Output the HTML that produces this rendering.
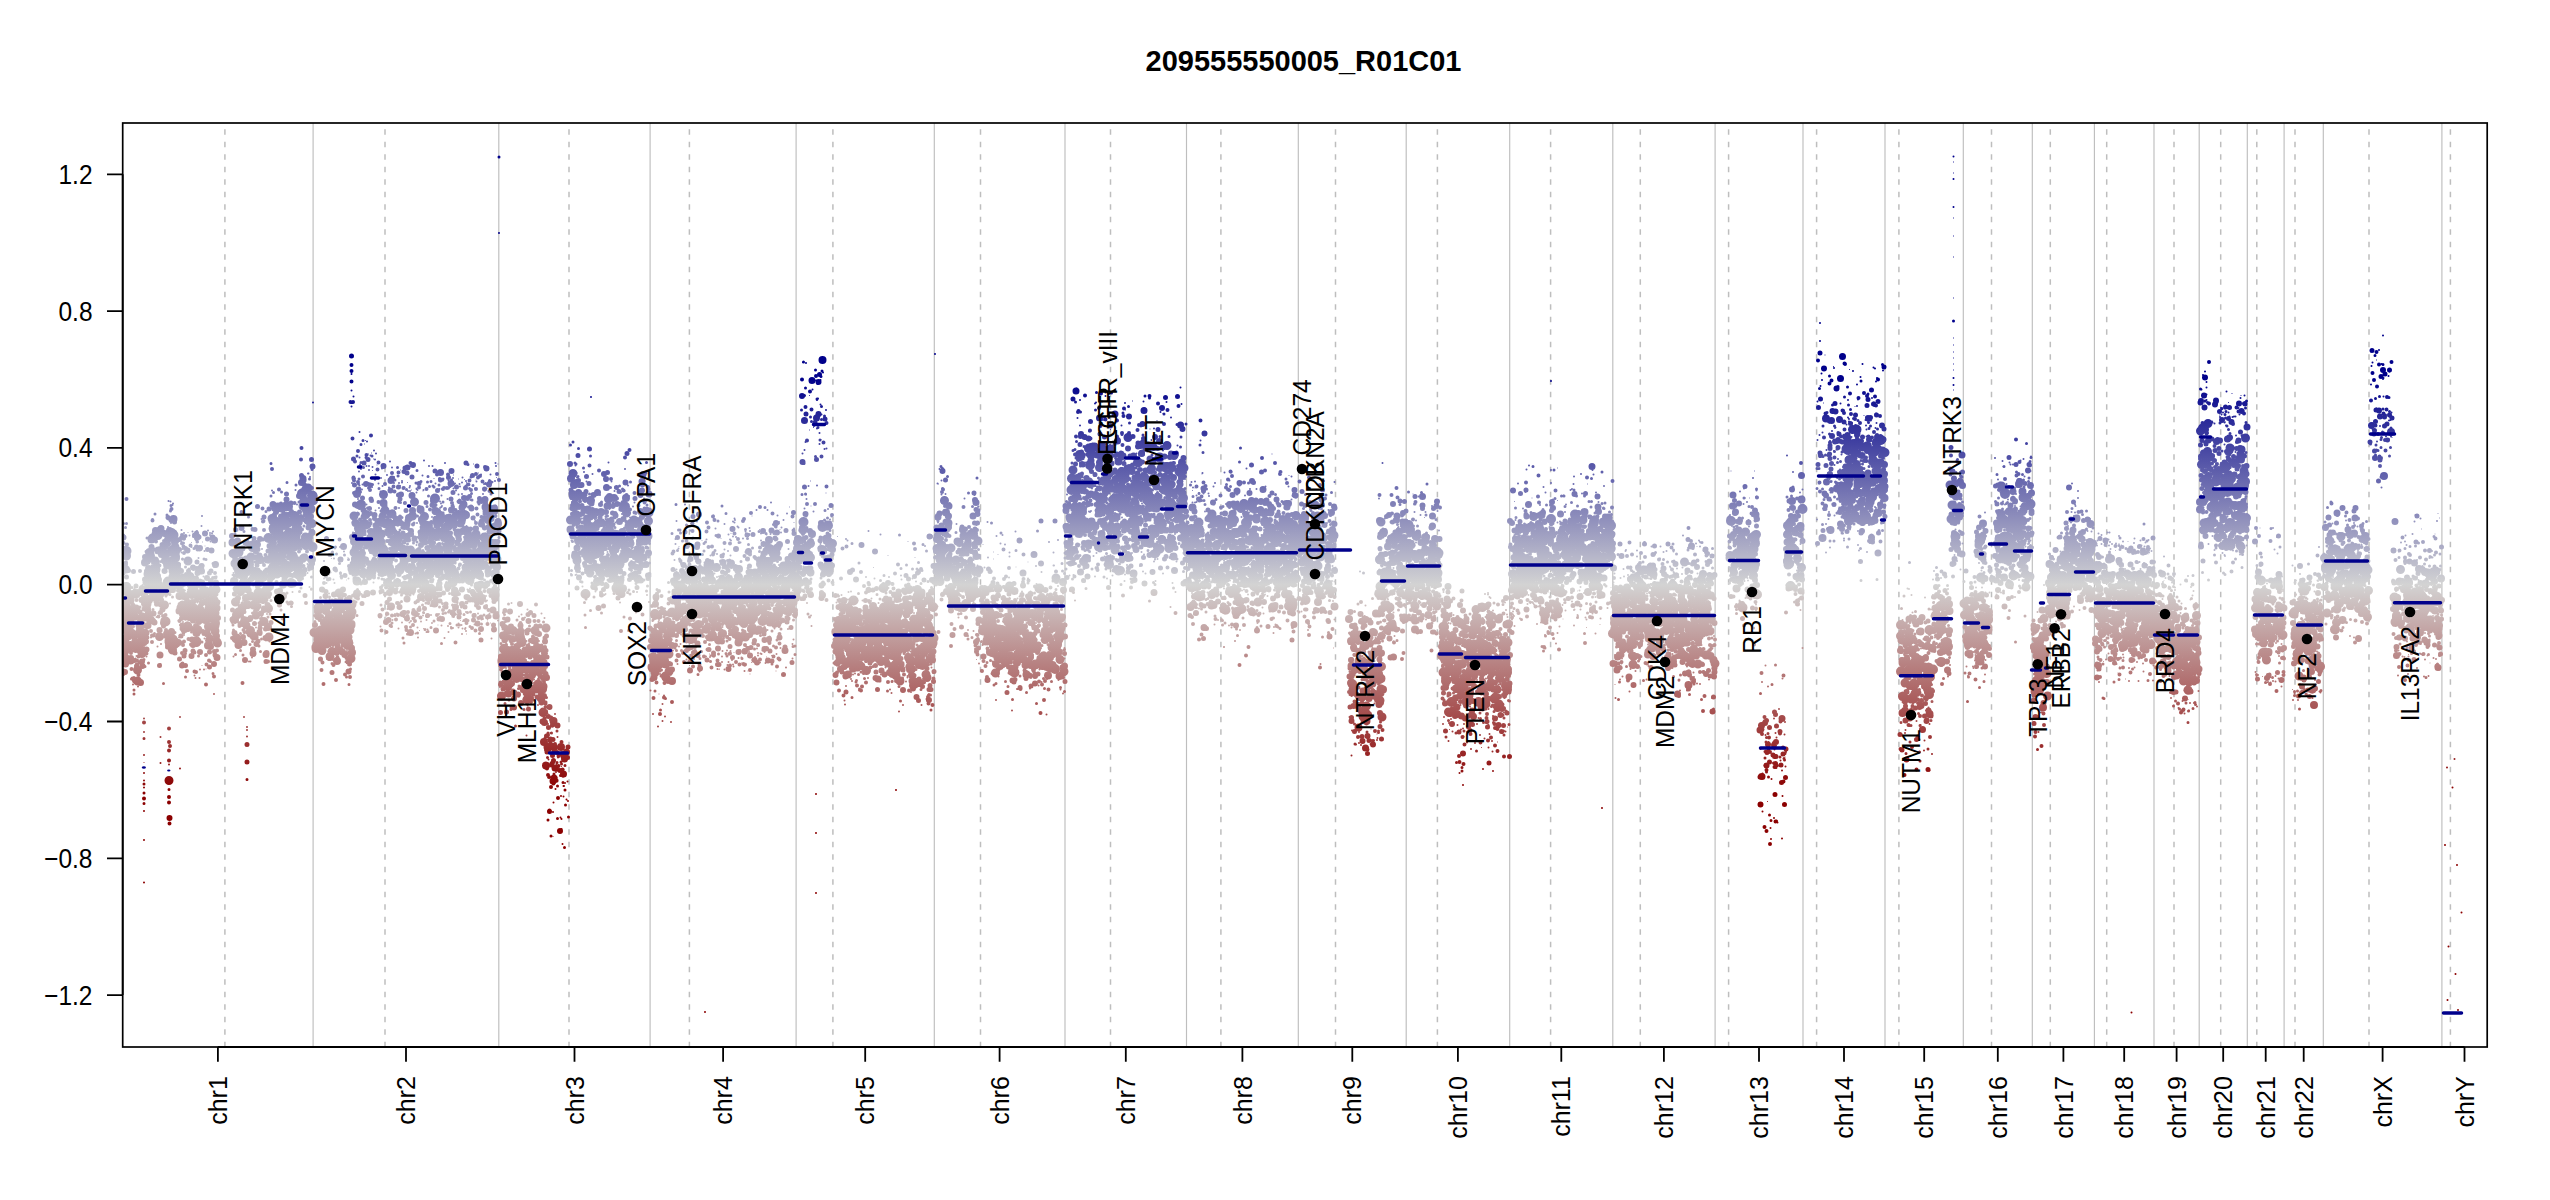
<!DOCTYPE html><html><head><meta charset="utf-8"><style>html,body{margin:0;padding:0;background:#fff;}svg{display:block;}text{font-family:"Liberation Sans",Arial,sans-serif;}</style></head><body>
<svg width="2550" height="1200" viewBox="0 0 2550 1200">
<defs><linearGradient id="g" gradientUnits="userSpaceOnUse" x1="0" y1="379.5" x2="0" y2="789.9"><stop offset="0" stop-color="#00008b"/><stop offset="0.5" stop-color="#d3d3d3"/><stop offset="1" stop-color="#8b0000"/></linearGradient><linearGradient id="g2" gradientUnits="userSpaceOnUse" x1="0" y1="759.0" x2="0" y2="1579.8"><stop offset="0" stop-color="#00008b"/><stop offset="0.5" stop-color="#d3d3d3"/><stop offset="1" stop-color="#8b0000"/></linearGradient><clipPath id="cp"><rect x="122.7" y="123" width="2364.5" height="924"/></clipPath></defs>
<rect width="2550" height="1200" fill="#fff"/>
<text transform="translate(1303.5 71.2) scale(1 1.034)" font-size="29" font-weight="bold" text-anchor="middle">209555550005_R01C01</text>
<line x1="313.1" y1="123" x2="313.1" y2="1047" stroke="#bebebe" stroke-width="1.15"/><line x1="498.8" y1="123" x2="498.8" y2="1047" stroke="#bebebe" stroke-width="1.15"/><line x1="650.1" y1="123" x2="650.1" y2="1047" stroke="#bebebe" stroke-width="1.15"/><line x1="796.1" y1="123" x2="796.1" y2="1047" stroke="#bebebe" stroke-width="1.15"/><line x1="934.3" y1="123" x2="934.3" y2="1047" stroke="#bebebe" stroke-width="1.15"/><line x1="1065.0" y1="123" x2="1065.0" y2="1047" stroke="#bebebe" stroke-width="1.15"/><line x1="1186.5" y1="123" x2="1186.5" y2="1047" stroke="#bebebe" stroke-width="1.15"/><line x1="1298.3" y1="123" x2="1298.3" y2="1047" stroke="#bebebe" stroke-width="1.15"/><line x1="1406.2" y1="123" x2="1406.2" y2="1047" stroke="#bebebe" stroke-width="1.15"/><line x1="1509.7" y1="123" x2="1509.7" y2="1047" stroke="#bebebe" stroke-width="1.15"/><line x1="1612.8" y1="123" x2="1612.8" y2="1047" stroke="#bebebe" stroke-width="1.15"/><line x1="1715.1" y1="123" x2="1715.1" y2="1047" stroke="#bebebe" stroke-width="1.15"/><line x1="1803.0" y1="123" x2="1803.0" y2="1047" stroke="#bebebe" stroke-width="1.15"/><line x1="1885.0" y1="123" x2="1885.0" y2="1047" stroke="#bebebe" stroke-width="1.15"/><line x1="1963.3" y1="123" x2="1963.3" y2="1047" stroke="#bebebe" stroke-width="1.15"/><line x1="2032.3" y1="123" x2="2032.3" y2="1047" stroke="#bebebe" stroke-width="1.15"/><line x1="2094.4" y1="123" x2="2094.4" y2="1047" stroke="#bebebe" stroke-width="1.15"/><line x1="2154.0" y1="123" x2="2154.0" y2="1047" stroke="#bebebe" stroke-width="1.15"/><line x1="2199.2" y1="123" x2="2199.2" y2="1047" stroke="#bebebe" stroke-width="1.15"/><line x1="2247.3" y1="123" x2="2247.3" y2="1047" stroke="#bebebe" stroke-width="1.15"/><line x1="2284.1" y1="123" x2="2284.1" y2="1047" stroke="#bebebe" stroke-width="1.15"/><line x1="2323.3" y1="123" x2="2323.3" y2="1047" stroke="#bebebe" stroke-width="1.15"/><line x1="2441.9" y1="123" x2="2441.9" y2="1047" stroke="#bebebe" stroke-width="1.15"/><line x1="224.9" y1="129.25" x2="224.9" y2="1047" stroke="#bebebe" stroke-width="1.5" stroke-dasharray="5.6 6.9"/><line x1="385" y1="129.25" x2="385" y2="1047" stroke="#bebebe" stroke-width="1.5" stroke-dasharray="5.6 6.9"/><line x1="569" y1="129.25" x2="569" y2="1047" stroke="#bebebe" stroke-width="1.5" stroke-dasharray="5.6 6.9"/><line x1="689.4" y1="129.25" x2="689.4" y2="1047" stroke="#bebebe" stroke-width="1.5" stroke-dasharray="5.6 6.9"/><line x1="832.9" y1="129.25" x2="832.9" y2="1047" stroke="#bebebe" stroke-width="1.5" stroke-dasharray="5.6 6.9"/><line x1="980.5" y1="129.25" x2="980.5" y2="1047" stroke="#bebebe" stroke-width="1.5" stroke-dasharray="5.6 6.9"/><line x1="1110.5" y1="129.25" x2="1110.5" y2="1047" stroke="#bebebe" stroke-width="1.5" stroke-dasharray="5.6 6.9"/><line x1="1220.9" y1="129.25" x2="1220.9" y2="1047" stroke="#bebebe" stroke-width="1.5" stroke-dasharray="5.6 6.9"/><line x1="1335.5" y1="129.25" x2="1335.5" y2="1047" stroke="#bebebe" stroke-width="1.5" stroke-dasharray="5.6 6.9"/><line x1="1437.4" y1="129.25" x2="1437.4" y2="1047" stroke="#bebebe" stroke-width="1.5" stroke-dasharray="5.6 6.9"/><line x1="1550.6" y1="129.25" x2="1550.6" y2="1047" stroke="#bebebe" stroke-width="1.5" stroke-dasharray="5.6 6.9"/><line x1="1640.3" y1="129.25" x2="1640.3" y2="1047" stroke="#bebebe" stroke-width="1.5" stroke-dasharray="5.6 6.9"/><line x1="1728.6" y1="129.25" x2="1728.6" y2="1047" stroke="#bebebe" stroke-width="1.5" stroke-dasharray="5.6 6.9"/><line x1="1816.6" y1="129.25" x2="1816.6" y2="1047" stroke="#bebebe" stroke-width="1.5" stroke-dasharray="5.6 6.9"/><line x1="1898.9" y1="129.25" x2="1898.9" y2="1047" stroke="#bebebe" stroke-width="1.5" stroke-dasharray="5.6 6.9"/><line x1="1991.5" y1="129.25" x2="1991.5" y2="1047" stroke="#bebebe" stroke-width="1.5" stroke-dasharray="5.6 6.9"/><line x1="2050.3" y1="129.25" x2="2050.3" y2="1047" stroke="#bebebe" stroke-width="1.5" stroke-dasharray="5.6 6.9"/><line x1="2106.7" y1="129.25" x2="2106.7" y2="1047" stroke="#bebebe" stroke-width="1.5" stroke-dasharray="5.6 6.9"/><line x1="2174" y1="129.25" x2="2174" y2="1047" stroke="#bebebe" stroke-width="1.5" stroke-dasharray="5.6 6.9"/><line x1="2220.7" y1="129.25" x2="2220.7" y2="1047" stroke="#bebebe" stroke-width="1.5" stroke-dasharray="5.6 6.9"/><line x1="2256.8" y1="129.25" x2="2256.8" y2="1047" stroke="#bebebe" stroke-width="1.5" stroke-dasharray="5.6 6.9"/><line x1="2295" y1="129.25" x2="2295" y2="1047" stroke="#bebebe" stroke-width="1.5" stroke-dasharray="5.6 6.9"/><line x1="2369" y1="129.25" x2="2369" y2="1047" stroke="#bebebe" stroke-width="1.5" stroke-dasharray="5.6 6.9"/><line x1="2450.4" y1="129.25" x2="2450.4" y2="1047" stroke="#bebebe" stroke-width="1.5" stroke-dasharray="5.6 6.9"/>
<g clip-path="url(#cp)"><g transform="scale(0.5)" fill="none" stroke="url(#g2)" stroke-linecap="round"><path stroke-width="20" d="M0 0m251 1218h0m0 100h0m2-144h0m0-72h0m0 146h0m4-23h0m2-25h0m5 68h0m16 18h0m4-15h0m9-63h0m3-8h0m15-61h0m20 104h0m0-135h0m5 21h0m1 48h0m2-103h0m8-4h0m0 72h0m1 20h0m2-18h0m21 68h0m16-34h0m6 105h0m2-23h0m18-33h0m60 50h0m2-143h0m3 7h0m5-18h0m15 6h0m28 69h0m0-44h0m9 21h0m2-99h0m12 60h0m7-121h0m9 84h0m2 47h0m5-133h0m5 32h0m5 121h0m9-96h0m6 53h0m1 27h0m6-163h0m3 25h0m1-8h0m4 86h0m4-5h0m1-80h0m1-1h0m3 14h0m3-27h0m1 103h0m0-101h0m1 8h0m12 213h0m24 66h0m13-39h0m2 33h0m2-55h0m10 63h0m10-22h0m2-29h0m2-7h0m9-106h0m10-109h0m1 55h0m4 82h0m3-97h0m13 94h0m17-59h0m2 45h0m5-29h0m28-57h0m4 97h0m11-31h0m14 60h0m0-2h0m10-4h0m12-91h0m6-17h0m3-3h0m4 97h0m1-4h0m3-14h0m7 9h0m0-143h0m26 97h0m0-56h0m0 14h0m7 86h0m2 27h0m22-66h0m9-13h0m3 74h0m16-14h0m9-45h0m5-26h0m11 27h0m5-14h0m5 24h0m17 207h0m1-21h0m25 58h0m6-86h0m3 11h0m3 55h0m7 1h0m3 48h0m0 0h0m17-8h0m80-384h0m6-2h0m5 75h0m8 122h0m1-83h0m6 12h0m0 22h0m15-41h0m3-21h0m22-17h0m11 57h0m5-45h0m16-59h0m4 91h0m41-32h0m2-47h0m13 203h0m6 46h0m11 40h0m17-89h0m9 3h0m17 15h0m14-14h0m5-25h0m9-4h0m3 15h0m4-17h0m5-19h0m9-50h0m20 39h0m13 25h0m4-32h0m1 40h0m10-15h0m29-26h0m6 38h0m23-22h0m0 66h0m6-83h0m3 3h0m9-22h0m13 50h0m0 38h0m14-86h0m1 35h0m36-133h0m38 10h0m11-3h0m19 235h0m7 33h0m7-34h0m5-31h0m1 72h0m5-29h0m1-71h0m6-25h0m0 106h0m5-76h0m0 30h0m3-20h0m7 24h0m15-8h0m4 60h0m2-91h0m4 1h0m2 5h0m2 10h0m1-7h0m5 61h0m5-58h0m5-62h0m1 39h0m4 20h0m6-27h0m4 65h0m11 16h0m0 18h0m1-55h0m2 11h0m19 16h0m2-67h0m4 109h0m8-58h0m4-66h0m3 57h0m9 76h0m14-43h0m7-73h0m1 62h0m10-117h0m4-100h0m5 72h0m2-33h0m15 91h0m7-38h0m1 50h0m4 11h0m1-57h0m16 53h0m11-14h0m3-127h0m23 190h0m6 24h0m19 7h0m6-26h0m11 62h0m1-50h0m12-28h0m2 97h0m3 2h0m9-91h0m4 53h0m10-82h0m1 2h0m6 66h0m5-65h0m7 101h0m8-152h0m3 145h0m5-9h0m4-111h0m2 130h0m12-102h0m5 108h0m1-109h0m7 47h0m1-39h0m24-257h0m1-23h0m6 58h0m3 22h0m5 10h0m6 6h0m14-156h0m2 33h0m26-30h0m12 229h0m3-230h0m2 115h0m5-15h0m20 7h0m9-22h0m3 34h0m6 10h0m10-103h0m4 45h0m10 21h0m5-96h0m3 67h0m1 124h0m7-24h0m13-147h0m10 47h0m9 67h0m10-10h0m12 17h0m4-28h0m1-1h0m1-11h0m10 109h0m7-21h0m0-26h0m5 115h0m4-116h0m3 31h0m1 104h0m1-147h0m4 147h0m37-152h0m6 29h0m6 150h0m1-153h0m5 15h0m1-12h0m14 111h0m2 44h0m1-158h0m5 137h0m4 15h0m2-110h0m3-100h0m11 99h0m11-24h0m8 30h0m1-21h0m11-49h0m10 98h0m1-45h0m2-39h0m3 158h0m8-137h0m1 34h0m13 30h0m11-97h0m2 64h0m2-31h0m1 136h0m4-110h0m3-31h0m14-10h0m6 137h0m2-79h0m1 60h0m8-71h0m2 44h0m10-90h0m1 68h0m3 50h0m3-69h0m3-35h0m23-7h0m50 200h0m10 162h0m23-128h0m0 85h0m5-39h0m4-165h0m1-67h0m1 238h0m0-184h0m4 18h0m8 20h0m6 4h0m4 36h0m26-14h0m6-127h0m2-60h0m3 10h0m13 12h0m12 118h0m8-88h0m7 24h0m3 77h0m12-57h0m9 165h0m13 15h0m5-18h0m1 96h0m11-61h0m13 31h0m6-21h0m4 38h0m11-73h0m2-71h0m7 157h0m4-113h0m2 90h0m2 32h0m5-87h0m9 47h0m1-100h0m5 56h0m26-32h0m20-121h0m4 1h0m2-75h0m3-45h0m2 120h0m0-21h0m1 12h0m11-24h0m3 24h0m1-2h0m2-74h0m5 42h0m5-38h0m4-28h0m14 158h0m9-149h0m5-39h0m2 86h0m9-30h0m3 126h0m6-76h0m0 41h0m9-76h0m3 2h0m16-82h0m38 15h0m0 116h0m2-99h0m2 69h0m2-20h0m3 45h0m5-74h0m4 44h0m20 142h0m4-21h0m5 26h0m10-35h0m3 57h0m2-51h0m13 39h0m19-90h0m1-21h0m11 67h0m3 20h0m26-24h0m6-51h0m1 56h0m3 21h0m12-90h0m3 43h0m11-35h0m6 132h0m3-90h0m19 82h0m7-46h0m1 19h0m13-26h0m0-22h0m54-185h0m22 67h0m1 106h0m10-84h0m15-44h0m4 102h0m62-66h0m2 5h0m3 44h0m4-76h0m4 4h0m16-82h0m80-31h0m2-5h0m6-84h0m3 70h0m2 74h0m13-7h0m2-176h0m2 27h0m2 78h0m17-71h0m6 107h0m6-96h0m10 47h0m6-71h0m1 74h0m3 7h0m36 289h0m0 93h0m17-5h0m4-3h0m26 0h0m10-75h0m7 79h0m15-127h0m1 112h0m7-25h0m0-88h0m7 82h0m15-220h0m26 209h0m18-4h0m1 5h0m3-200h0m1 233h0m2-161h0m3 79h0m34-156h0m1 39h0m7-13h0m3-116h0m3 119h0m13-50h0m1 94h0m20-156h0m14 13h0m25 335h0m22-192h0m5 6h0m2 1h0m14-47h0m1 59h0m12-76h0m6-4h0m0 64h0m13 1h0m7-43h0m2 27h0m11-40h0m0 90h0m1-33h0m12-19h0m4 83h0m8-16h0m9 1h0m18 30h0m14 58h0m2-124h0m8 26h0m11 89h0m2-131h0m5 83h0m5-86h0m10 132h0m1-115h0m3 56h0m4 39h0m5 2h0m12-7h0m8 42h0m5-69h0m1 12h0m16 39h0m22 14h0m4-14h0m2 22h0m14-26h0m4 48h0m25-338h0m4 5h0m8 17h0m0-14h0m4-32h0m23 21h0m1-30h0m4 92h0m1 45h0m1-134h0m19 95h0m35 157h0m6-48h0m7 146h0m4-84h0m8 49h0m14-20h0m10 18h0m22-43h0m8 49h0m6 20h0m6-33h0m8-42h0m7-4h0m3 20h0m3-25h0m7 9h0m35 38h0m5-87h0m3-41h0m20-34h0m5 89h0m13 3h0m15 12h0m58-6h0m2 49h0m25-54h0m12 19h0m2-24h0m7 51h0m11-20h0m0 6h0m7-16h0m4 6h0m0 29h0m12-98h0"/><path stroke-width="18" d="M0 0m248 1306h0m2-28h0m1 11h0m2-177h0m3 74h0m2 77h0m3 28h0m8-103h0m3 30h0m3 122h0m0-44h0m0 66h0m9-55h0m5-107h0m1 66h0m0-83h0m7-66h0m1 36h0m1 9h0m0-57h0m2 135h0m4-164h0m4 62h0m4 16h0m3-83h0m3 119h0m0 83h0m7-96h0m2 5h0m1 28h0m5-44h0m2-4h0m2 399h0m4-277h0m2-184h0m1 200h0m0-195h0m2 21h0m4-22h0m14 113h0m1-61h0m9 96h0m1-130h0m4 31h0m2 33h0m2 3h0m2-18h0m3 52h0m3-55h0m1 117h0m2-55h0m2-38h0m3-52h0m15 64h0m13-4h0m2 62h0m0-36h0m1 20h0m1-67h0m3 107h0m31-179h0m5 97h0m6 20h0m1-119h0m1 42h0m2 36h0m3-14h0m0 47h0m5-79h0m3 35h0m2 37h0m1-66h0m6 118h0m0-69h0m1-78h0m3-19h0m2 115h0m1 62h0m2-129h0m3-54h0m1 63h0m2 46h0m1-14h0m1-18h0m2-47h0m8 124h0m9-26h0m1 57h0m6-237h0m3 23h0m1 54h0m15-31h0m0-8h0m4 50h0m2-92h0m1 40h0m7-60h0m1 123h0m5-45h0m0-4h0m3 24h0m0-32h0m3-48h0m1 31h0m5 76h0m16-158h0m0 94h0m5 4h0m0-102h0m7 143h0m1-72h0m2-56h0m2 274h0m4 32h0m2-28h0m3-6h0m1 17h0m1-16h0m3 28h0m2 9h0m8-46h0m1 13h0m7 45h0m4-10h0m2-41h0m8-42h0m3 31h0m1-65h0m4 63h0m6-40h0m3 2h0m2 23h0m1 27h0m6-8h0m2 64h0m2-108h0m0-71h0m4-106h0m0 73h0m3 14h0m3 43h0m3-105h0m5 72h0m10-100h0m3 57h0m8 59h0m3-45h0m4-21h0m1-15h0m7 13h0m2 61h0m3-13h0m0-57h0m0 67h0m1-90h0m2 52h0m1-108h0m3 32h0m3 118h0m2 27h0m2-42h0m0-79h0m2 91h0m4 15h0m0-91h0m1-32h0m1 56h0m3 15h0m8-20h0m2 13h0m4 42h0m4-2h0m2-7h0m2 53h0m8-63h0m3-15h0m4-68h0m4-28h0m7 103h0m7 9h0m2 40h0m0-46h0m3-36h0m1-41h0m0 147h0m1-14h0m5-46h0m2 75h0m1-131h0m4 113h0m6-74h0m1 5h0m11 11h0m1-88h0m6 101h0m6-5h0m3-21h0m1 36h0m4-57h0m0-46h0m1 98h0m7 8h0m3 13h0m0-48h0m4-44h0m1-37h0m5 75h0m7-75h0m2 32h0m1 74h0m6-18h0m9-28h0m1 21h0m1-36h0m3-6h0m1 126h0m1-62h0m0-11h0m2 51h0m1-38h0m1 14h0m16-35h0m0-90h0m2 16h0m0 58h0m11-8h0m2 59h0m1-56h0m4-30h0m9 330h0m1-68h0m1 5h0m11-68h0m1 96h0m1-45h0m8-51h0m4 84h0m0-17h0m1-28h0m10-24h0m3 9h0m7 85h0m3 29h0m0-95h0m4 55h0m2 23h0m10-121h0m1 73h0m1-33h0m3 21h0m1 46h0m6 28h0m1-67h0m3 96h0m6-169h0m49-216h0m5-93h0m5 165h0m2-82h0m1 91h0m13-34h0m5 5h0m2-27h0m3 47h0m4-111h0m1 76h0m1 36h0m1-27h0m5 14h0m2-3h0m4 66h0m0-27h0m1-89h0m6 99h0m1-54h0m2-21h0m4 59h0m0-46h0m1-20h0m2 56h0m3 6h0m2-128h0m11 133h0m1 13h0m1-74h0m5 100h0m4-5h0m6-85h0m1 2h0m3 35h0m4-91h0m5 26h0m10-12h0m5 67h0m3 51h0m5-57h0m9-19h0m7-40h0m13 303h0m1-115h0m0 62h0m6 38h0m3-46h0m11 68h0m1 3h0m3-112h0m3 100h0m0-35h0m2-58h0m6-50h0m8 32h0m1-62h0m3 45h0m3-45h0m8-19h0m6 124h0m1-115h0m8-11h0m2 51h0m4-61h0m1 125h0m3-37h0m3 22h0m3-74h0m10 10h0m2 73h0m2-57h0m1-22h0m0-39h0m0 76h0m1-12h0m3-53h0m6 119h0m1-30h0m3-17h0m2-7h0m2-81h0m4 145h0m7-53h0m9-12h0m1-6h0m1 15h0m0-35h0m2 23h0m1 32h0m8-36h0m11 65h0m0-119h0m8 90h0m0-18h0m1-26h0m2 47h0m3-73h0m0 100h0m1-84h0m1-7h0m10 58h0m8-82h0m2 65h0m2-45h0m2-14h0m1 95h0m5-121h0m15-16h0m0 75h0m12-53h0m0-33h0m0 84h0m3-34h0m14-30h0m1 9h0m2 43h0m4 20h0m6-4h0m2 16h0m7-49h0m6 13h0m0-83h0m4 20h0m7-57h0m1 37h0m14 18h0m0-28h0m32-9h0m12 9h0m12 203h0m0 12h0m0-61h0m1 65h0m4-38h0m5-2h0m2-28h0m3 3h0m9 66h0m0-86h0m1 32h0m1-7h0m9 51h0m6-22h0m2 56h0m7-70h0m0 2h0m6 78h0m0-65h0m1-50h0m1 36h0m5 3h0m6 10h0m4-15h0m1 54h0m6-7h0m1 11h0m3-51h0m0-41h0m12 53h0m6-13h0m1-26h0m4 48h0m0 10h0m0 1h0m1-84h0m0 132h0m4-124h0m3 128h0m1-12h0m2-63h0m0 46h0m3-41h0m2 81h0m8-86h0m9 39h0m1-136h0m5 159h0m3 24h0m2-110h0m0-6h0m0-8h0m7-59h0m1 58h0m1 128h0m4-174h0m1 107h0m1-78h0m5 85h0m4 44h0m2 6h0m3-104h0m2-51h0m15-103h0m1 46h0m0-9h0m5 29h0m0-44h0m3 11h0m3-5h0m3-124h0m7 45h0m2 75h0m4-25h0m10 24h0m1 42h0m10-9h0m3-49h0m1 111h0m14-23h0m0 3h0m1-127h0m3 104h0m1-6h0m2-1h0m8-83h0m2 58h0m21 121h0m1-37h0m9 75h0m2 47h0m5-169h0m2 81h0m7 40h0m0-6h0m4 14h0m2-98h0m1 62h0m7-98h0m2 108h0m3 9h0m10-64h0m0 15h0m1 73h0m2-21h0m0-2h0m7 8h0m3-65h0m7 43h0m3 28h0m3-32h0m13-62h0m6 17h0m3-12h0m3 116h0m0-117h0m8 60h0m7 62h0m4-41h0m2-61h0m2 21h0m4-99h0m2 86h0m1 47h0m5 30h0m2-83h0m6 107h0m13-305h0m0 67h0m5-165h0m1 112h0m1-90h0m5 21h0m6-74h0m4 152h0m0-24h0m1-19h0m3 105h0m9-159h0m0 2h0m1 122h0m1-33h0m4-145h0m5-15h0m3 157h0m1-61h0m6 103h0m2-68h0m0-91h0m2 151h0m2-172h0m3 102h0m1-18h0m1 83h0m4-101h0m2-26h0m3 165h0m1-63h0m12 44h0m4-46h0m3 88h0m1-168h0m3 20h0m0 147h0m1-124h0m3-61h0m1 4h0m1 18h0m1 40h0m2-65h0m1 54h0m3-11h0m1 54h0m1-175h0m0 240h0m18-72h0m5-1h0m8-50h0m1-9h0m0 88h0m1-117h0m1 131h0m2-7h0m1-78h0m2 34h0m4-19h0m2-75h0m1 56h0m1-59h0m2 123h0m6-93h0m2 49h0m0 88h0m3-64h0m4 58h0m1-91h0m3-75h0m0 147h0m1-32h0m9-156h0m0 86h0m4 120h0m1-73h0m0 61h0m3-116h0m4 56h0m2-114h0m7 103h0m3-33h0m0-38h0m6 43h0m4-50h0m2 119h0m10 117h0m8-57h0m7 27h0m2-3h0m1-19h0m2-30h0m1 37h0m7 43h0m9-81h0m3-53h0m0 105h0m2-13h0m2 61h0m0-161h0m4 36h0m0-17h0m1 80h0m5-38h0m0 28h0m4 24h0m2-100h0m6 121h0m2-4h0m1-115h0m2 68h0m0 25h0m1 21h0m0 63h0m8-176h0m6 106h0m3-110h0m2 91h0m1-119h0m4 102h0m6-97h0m3 41h0m1 66h0m5-79h0m4 1h0m12 126h0m0-30h0m5-106h0m4 168h0m1-104h0m2 25h0m1-10h0m9-89h0m1 138h0m1-89h0m10 42h0m3 7h0m7-11h0m0 24h0m3 27h0m3-10h0m1-102h0m0 120h0m5 0h0m1-11h0m0-86h0m1 40h0m1-76h0m5 149h0m2-110h0m3-17h0m0 98h0m1 53h0m4-53h0m6-110h0m2 31h0m3-49h0m1 126h0m11-33h0m5 18h0m10 3h0m1-56h0m6-25h0m3 35h0m4-12h0m2-53h0m4 116h0m17 18h0m4-52h0m43 250h0m5-97h0m7 64h0m4-1h0m8-8h0m6 88h0m7-67h0m18-157h0m2 213h0m2-357h0m0 334h0m1-45h0m1 101h0m3-369h0m3 79h0m4 116h0m1-47h0m4-62h0m6 4h0m3-81h0m4 93h0m3-50h0m12 43h0m0-49h0m1-26h0m1-38h0m8 40h0m3 58h0m5-2h0m5-34h0m0 103h0m8-70h0m1 20h0m0-18h0m1 26h0m11-95h0m5 117h0m0-33h0m1-15h0m4 6h0m4-43h0m0 1h0m9 104h0m4-106h0m8 239h0m0-92h0m4 40h0m4 68h0m1-70h0m2 133h0m2-89h0m2-61h0m1 47h0m3-49h0m6 81h0m3-53h0m1 35h0m1 42h0m1-47h0m0 35h0m8-37h0m8-40h0m5 76h0m1 21h0m2-87h0m2 47h0m2-75h0m4-9h0m0 27h0m3-69h0m6 67h0m4-2h0m3-69h0m2 93h0m2 7h0m3-2h0m0 95h0m4-82h0m0-23h0m4-69h0m3 15h0m8 145h0m3-15h0m3-141h0m1 170h0m1-78h0m7-18h0m2-26h0m6 87h0m1-34h0m1-54h0m1-37h0m8-100h0m4 25h0m1-14h0m3-62h0m3 24h0m1 55h0m5-47h0m4 56h0m9-105h0m1-24h0m7-3h0m4-20h0m2 53h0m1 92h0m2-49h0m1 9h0m5-87h0m2 73h0m0-66h0m1 31h0m2 41h0m8 100h0m24-100h0m1 3h0m5-53h0m12 22h0m3 26h0m1-5h0m3-63h0m13 56h0m4-51h0m8 34h0m0-4h0m1-55h0m1 63h0m3 49h0m1-52h0m9 34h0m3-22h0m0-16h0m0 37h0m1-18h0m0-63h0m1 93h0m4-73h0m12 52h0m6-30h0m3-15h0m4 18h0m2-61h0m5 33h0m1 29h0m1 15h0m8 99h0m1 48h0m8-29h0m0-27h0m3 9h0m3 36h0m4-62h0m0 12h0m7 36h0m9 94h0m7-70h0m0-40h0m3 36h0m13-115h0m2 78h0m7 57h0m3-131h0m1 135h0m2 17h0m6-56h0m4 26h0m6 15h0m7-72h0m12 75h0m0-54h0m12-15h0m4 75h0m11-50h0m0-60h0m1 26h0m2-82h0m1 188h0m4 3h0m2-64h0m3-70h0m3 144h0m5-26h0m4-40h0m1-50h0m4 119h0m3-132h0m1 68h0m2-104h0m1 16h0m1 66h0m3 17h0m4-45h0m1 26h0m0 70h0m2-124h0m16 141h0m30-211h0m0-5h0m13 16h0m5-16h0m2-31h0m6 7h0m3 8h0m12 16h0m2-36h0m4 76h0m2 34h0m1-103h0m3-13h0m62 53h0m0-53h0m4 27h0m2-52h0m14 73h0m8 18h0m85-156h0m0-33h0m4 85h0m4-144h0m2 48h0m1-16h0m2 26h0m4-86h0m5 48h0m3 22h0m5 17h0m2 94h0m5-146h0m8 138h0m1-46h0m4 24h0m7-87h0m6-20h0m1 39h0m0-43h0m3-15h0m1 73h0m2 20h0m2-51h0m5 55h0m5-76h0m31 367h0m4 121h0m1-67h0m4 40h0m12 5h0m0 27h0m2-98h0m3 98h0m1-32h0m2 21h0m0-47h0m3 45h0m5-66h0m21 70h0m2-35h0m10-124h0m21 53h0m8-313h0m2 68h0m2-28h0m8-18h0m9 24h0m7 191h0m1 23h0m5 51h0m4-20h0m0-37h0m11 45h0m1 9h0m8-33h0m2-51h0m3-83h0m1 2h0m4 102h0m3 78h0m6-53h0m25-212h0m1-56h0m3 74h0m1 72h0m4-46h0m0-31h0m2 79h0m4-47h0m2-50h0m0 63h0m0 83h0m3-85h0m0-42h0m1 2h0m2-11h0m2 83h0m3-60h0m2 5h0m4-12h0m1-17h0m0 40h0m2 26h0m7-56h0m1 78h0m3-107h0m1 135h0m1 26h0m8-21h0m10 105h0m3 103h0m2-78h0m2 18h0m1 60h0m1 20h0m1-100h0m1 93h0m3-56h0m4-81h0m7 27h0m0 128h0m6-223h0m5 37h0m2-45h0m2-19h0m10 70h0m2-47h0m0-45h0m2 86h0m2-55h0m1 49h0m4-68h0m0 74h0m8-36h0m6-91h0m2 41h0m6-25h0m8 59h0m0 12h0m3-35h0m6-3h0m6-20h0m4-12h0m0-11h0m2 48h0m3 3h0m12 94h0m4-5h0m2 13h0m1 29h0m1-29h0m31 35h0m5-64h0m2-42h0m2 123h0m5-75h0m2-1h0m0 2h0m8-64h0m1 116h0m0-92h0m6 9h0m2-34h0m1 80h0m1-21h0m2 67h0m0-43h0m6-12h0m1-58h0m3 47h0m2-15h0m3 101h0m1-29h0m6-53h0m7 18h0m0 56h0m2-31h0m2-39h0m7 24h0m1 25h0m4-6h0m5-7h0m8 16h0m4 61h0m1-82h0m10-20h0m7 120h0m14-25h0m0 37h0m1-7h0m1-66h0m1-53h0m3 78h0m2-46h0m1 112h0m3-20h0m0-15h0m8-27h0m3 0h0m0-41h0m3-46h0m8-369h0m2 67h0m2-73h0m2 204h0m1-60h0m0 46h0m1 13h0m3-94h0m0 81h0m3-143h0m1-56h0m3 196h0m2-65h0m4 38h0m1-30h0m7 7h0m8 65h0m2-70h0m8 25h0m3-47h0m0 56h0m1 33h0m4-83h0m1-76h0m10 115h0m5 39h0m6 42h0m3-138h0m1 56h0m1 24h0m1-65h0m1-27h0m0 33h0m3-99h0m0 166h0m2-6h0m18 180h0m4-31h0m8 1h0m1 73h0m3 27h0m2-102h0m4 136h0m8-84h0m5 24h0m43-37h0m2 37h0m7 92h0m0-50h0m10-90h0m1 82h0m1-112h0m1 104h0m5 16h0m21-58h0m12-128h0m2 22h0m3 88h0m0-101h0m6-43h0m3 47h0m5-28h0m3 92h0m2 52h0m1-142h0m0 115h0m3-57h0m2 46h0m3-134h0m3 33h0m1 77h0m7 1h0m7-78h0m1-8h0m2 13h0m5 21h0m0 72h0m9 13h0m6-52h0m8-9h0m4 78h0m1-94h0m1 41h0m56 16h0m8-58h0m12 66h0m4-41h0m3 91h0m10-18h0m8-50h0m3 12h0m6-4h0m2 43h0m2-70h0m3 48h0m0 37h0m2-107h0m6 106h0m3-99h0m7 105h0m2-65h0m4 6h0"/><path stroke-width="16" d="M0 0m251 1260h0m1-121h0m0 44h0m0 110h0m1-47h0m1 7h0m2-36h0m5 104h0m2-90h0m6 2h0m10 31h0m4-80h0m1 97h0m0-31h0m6-125h0m5 108h0m2-90h0m0 86h0m4-122h0m2-28h0m4 101h0m1-7h0m1 22h0m0-24h0m1-50h0m6 39h0m1-59h0m12 8h0m1 12h0m4 1h0m0 146h0m7 15h0m2 13h0m4-224h0m0 206h0m0-240h0m1 249h0m2-194h0m0 196h0m2-3h0m0-170h0m0-3h0m0 57h0m7 22h0m9 0h0m0-28h0m1 94h0m4-31h0m5-19h0m0-55h0m0 7h0m5 75h0m3-58h0m7 89h0m11-38h0m2 6h0m1-45h0m9 102h0m0-38h0m3-43h0m1-10h0m0 77h0m0-92h0m5 15h0m0-1h0m6 52h0m1-45h0m1 10h0m1 67h0m31-198h0m3 77h0m1-35h0m3 103h0m2-52h0m2-75h0m1 187h0m9-167h0m4 52h0m3 76h0m8 16h0m11-36h0m6-84h0m17-28h0m1 135h0m4-81h0m3-30h0m9-20h0m0-50h0m0 38h0m2 38h0m4-11h0m1-16h0m6-13h0m1 83h0m0-23h0m8-81h0m4 14h0m8 65h0m0-49h0m11-74h0m7 102h0m4-31h0m1-102h0m1 64h0m5-36h0m5-26h0m15 264h0m1-59h0m8 64h0m1-14h0m7-48h0m1 67h0m2-79h0m1 53h0m1 24h0m9-16h0m1-2h0m5 15h0m2 38h0m2-22h0m3-65h0m1-30h0m6 52h0m7 32h0m0-55h0m9-6h0m1 22h0m0-2h0m1 57h0m3-176h0m1-46h0m3-37h0m2 98h0m1 43h0m0-199h0m2 82h0m1 45h0m6-7h0m4 12h0m14-31h0m1-6h0m15-39h0m5 70h0m0-31h0m3 31h0m2-108h0m12 137h0m3 70h0m3-105h0m1-23h0m7-41h0m1 41h0m0 80h0m13-48h0m2 2h0m4-45h0m3 102h0m1-72h0m0 34h0m1-102h0m6 145h0m6-64h0m11-98h0m1 175h0m5-32h0m2-98h0m8 82h0m1 31h0m11 30h0m2-185h0m2 51h0m0-34h0m1 61h0m1 4h0m3-41h0m1 81h0m2-21h0m7-47h0m8 96h0m0-83h0m4-5h0m8-36h0m3 138h0m10-139h0m3-8h0m3-30h0m5 21h0m4 37h0m2 23h0m3 40h0m5-44h0m6 41h0m2 16h0m10 53h0m7-182h0m7 97h0m1-9h0m1-10h0m0-37h0m0-37h0m7 109h0m3 53h0m1 10h0m3-56h0m2-86h0m8 267h0m2-44h0m10 102h0m9-61h0m13 35h0m3-35h0m0-38h0m0 63h0m1-22h0m11 15h0m1 37h0m9-26h0m1 9h0m2-46h0m4-23h0m4 13h0m4 32h0m5-3h0m4 50h0m1 111h0m4 47h0m3-37h0m3 0h0m9-52h0m15 52h0m6 16h0m13-451h0m1-102h0m3 31h0m3-18h0m0 45h0m5 29h0m3 37h0m12 0h0m4 21h0m2-59h0m0 10h0m0-16h0m2-18h0m4 128h0m3-119h0m6 81h0m1 1h0m0 24h0m7-54h0m1-10h0m2 36h0m2-82h0m1 22h0m3 45h0m10-6h0m4-4h0m6 20h0m0 56h0m2-161h0m3 180h0m1-90h0m8 44h0m0-44h0m3 102h0m1-73h0m1-51h0m1 113h0m1-92h0m1 7h0m4-96h0m7 112h0m1-50h0m5 94h0m0-44h0m7-60h0m2-6h0m7 42h0m2-24h0m4 55h0m16 219h0m4-10h0m9-55h0m3 49h0m2 0h0m4-60h0m1 55h0m1-27h0m5 43h0m3-60h0m0 7h0m9 86h0m6-163h0m10 53h0m14-68h0m7 30h0m0-35h0m1 101h0m4-1h0m1-65h0m1-56h0m5 24h0m0 70h0m2 15h0m4-84h0m1 42h0m0-86h0m9 82h0m3-79h0m5 43h0m2-52h0m5 28h0m0 75h0m2-59h0m14 48h0m4-64h0m2 106h0m5-103h0m2 77h0m8-36h0m1-78h0m1 49h0m14 109h0m1-147h0m0 49h0m8 52h0m4-76h0m1 35h0m2-15h0m7-38h0m2 76h0m1-43h0m3 22h0m2 36h0m2-91h0m4 48h0m3-34h0m3-31h0m0-7h0m0 64h0m3-10h0m1-34h0m8 13h0m0 49h0m4-105h0m1 143h0m1-161h0m2 165h0m8-129h0m1-17h0m6-4h0m7 122h0m11 5h0m3-58h0m1-27h0m0-9h0m7 26h0m1-16h0m1 57h0m0-26h0m3 24h0m2 3h0m1-4h0m0-87h0m2-20h0m2-7h0m16 62h0m2-34h0m1-14h0m6 53h0m3-77h0m19 30h0m2-378h0m32 584h0m8-54h0m7 29h0m2 44h0m2 26h0m2-133h0m2 90h0m4 20h0m1-79h0m1 90h0m3-19h0m1-97h0m2 47h0m5 21h0m2-18h0m4-2h0m1 45h0m2-17h0m6-19h0m1 28h0m1-6h0m3-61h0m2 19h0m3 43h0m0-36h0m1 8h0m0 34h0m3-95h0m10 79h0m5-12h0m1 45h0m4-25h0m5-76h0m0 98h0m3-36h0m15 54h0m4-109h0m1 10h0m12 54h0m5-82h0m2 16h0m3 22h0m15-45h0m1 72h0m2 45h0m3-6h0m3 1h0m3-132h0m0 56h0m2-34h0m6 92h0m2-72h0m2-26h0m1 97h0m7 14h0m4-26h0m3-124h0m4-84h0m1-5h0m3 76h0m7-6h0m7-118h0m5 101h0m2 12h0m3 4h0m0 33h0m13-92h0m1 76h0m3-73h0m0 81h0m4-3h0m0 9h0m4-101h0m6 80h0m0 18h0m3-35h0m0-47h0m10-17h0m0 117h0m2-13h0m8 10h0m13 27h0m4 36h0m2 25h0m3-54h0m4 29h0m2-5h0m3 21h0m5-34h0m10 34h0m6 11h0m1-10h0m3-62h0m5 30h0m7 17h0m1 14h0m4-82h0m3 93h0m2 50h0m1-43h0m6 36h0m4-56h0m2-40h0m4 108h0m2 19h0m14-68h0m23-1h0m0 0h0m6 71h0m4-36h0m3-95h0m2 110h0m12-60h0m1 10h0m0-28h0m1 100h0m3-94h0m0-60h0m4-34h0m8-110h0m18-87h0m1 61h0m2-68h0m8-49h0m9 205h0m6-153h0m5 80h0m6-150h0m4 189h0m5 11h0m5-25h0m5-19h0m8-80h0m3-1h0m0 56h0m0-77h0m5 132h0m2 11h0m4-112h0m1-19h0m2 75h0m0 104h0m4-215h0m3 78h0m4-47h0m4 96h0m3-92h0m4-21h0m5-1h0m7 211h0m1-97h0m1-48h0m8 15h0m2 58h0m2-185h0m1 131h0m8-46h0m1 11h0m6-4h0m5 13h0m3-72h0m2-29h0m1 214h0m3 0h0m2-135h0m6 75h0m3 12h0m4-55h0m3-51h0m5-22h0m2 77h0m2-4h0m3 10h0m4-79h0m1 49h0m1 128h0m9-86h0m1 28h0m3-109h0m4 0h0m0-21h0m0 27h0m1 107h0m4 12h0m2 14h0m5 80h0m3-61h0m2-7h0m0 117h0m0-115h0m4-84h0m0 114h0m3-41h0m3-26h0m2 45h0m2 44h0m0 23h0m28 37h0m4-1h0m0-92h0m4 41h0m1-66h0m4 57h0m5-90h0m10 15h0m12-40h0m0 145h0m2-152h0m2 159h0m8 7h0m3 11h0m5-121h0m2 13h0m1 44h0m1-34h0m2 37h0m1 24h0m0-6h0m3-42h0m0 22h0m2-103h0m6-32h0m3 217h0m0-64h0m1-89h0m1-8h0m0-53h0m2 157h0m1-38h0m4-90h0m0 117h0m4-20h0m4-51h0m2 21h0m7-27h0m4-11h0m7-43h0m0 50h0m4 44h0m2-12h0m2 28h0m5-53h0m1 25h0m2-37h0m3 74h0m2-90h0m10-1h0m1 74h0m7 0h0m1-75h0m6 156h0m5-176h0m2 55h0m1 3h0m4 6h0m5 5h0m1-15h0m2-25h0m3-24h0m2 79h0m4-22h0m1 33h0m1-5h0m2 9h0m9-72h0m0-48h0m6 20h0m1 173h0m1-123h0m4 29h0m0 44h0m0-55h0m4-26h0m15 46h0m0 60h0m9 34h0m29 25h0m4 44h0m1 50h0m1 37h0m1 11h0m0 3h0m4-9h0m1-35h0m7 116h0m0-133h0m2 72h0m12-102h0m2 150h0m0-61h0m12-14h0m1-103h0m6-37h0m9 159h0m2-114h0m1-54h0m2 161h0m2-226h0m4-4h0m4-56h0m9 155h0m1 7h0m0-131h0m6-44h0m4 35h0m0 44h0m2-95h0m3 122h0m1-39h0m3 12h0m5 32h0m8-105h0m1 17h0m2 4h0m1 29h0m8 105h0m0 18h0m9-109h0m7-4h0m5-64h0m6 148h0m0-77h0m3 9h0m6-71h0m1 63h0m3-76h0m5 24h0m0 50h0m14 158h0m1 52h0m0-108h0m4-44h0m5 216h0m13-49h0m2-41h0m0 92h0m1-147h0m2-36h0m3 82h0m9-17h0m3 95h0m1-147h0m11 47h0m2 42h0m0-88h0m9 1h0m0-23h0m4 80h0m10 25h0m0-35h0m6-16h0m5 50h0m9 58h0m6-69h0m0 86h0m5-58h0m7-77h0m6-32h0m3 130h0m9-200h0m11-89h0m1 15h0m1-23h0m1 61h0m0-23h0m3 10h0m1 15h0m1 25h0m1-12h0m0-101h0m2 81h0m1 10h0m3-65h0m2 52h0m2-56h0m7 19h0m0 46h0m1 17h0m1-9h0m5-9h0m12-69h0m1-9h0m1-35h0m2 101h0m2 9h0m1-74h0m1 174h0m0-126h0m2-14h0m10 72h0m3-102h0m5 93h0m6 66h0m3-74h0m2-62h0m3-29h0m9 22h0m5 21h0m0 18h0m2-42h0m3-39h0m2 5h0m1 44h0m2-31h0m1 8h0m5-31h0m0 74h0m7-17h0m1-12h0m2-7h0m0 68h0m0-45h0m5 53h0m1-129h0m1 51h0m2 43h0m4 66h0m0-31h0m2-81h0m10-6h0m1 4h0m1-31h0m2 28h0m2 102h0m6-94h0m7 37h0m13-30h0m4-31h0m4 186h0m13-28h0m6-5h0m0 53h0m4-66h0m1 18h0m2 86h0m0-120h0m1 58h0m5-47h0m4 125h0m3 3h0m1-44h0m3-6h0m0 2h0m3-109h0m8-14h0m0 98h0m5-27h0m9 95h0m4-41h0m1-50h0m4 44h0m2-113h0m0 53h0m1 73h0m7-104h0m0 61h0m6-42h0m15 126h0m1-108h0m5 38h0m3 81h0m0-126h0m16 87h0m2-12h0m0-76h0m8 85h0m6 85h0m1-55h0m4-54h0m2 3h0m0-3h0m5-37h0m3 87h0m2-43h0m2-68h0m2 105h0m3-125h0m3 20h0m2-52h0m15 114h0m0 50h0m1-121h0m5 129h0m41-175h0m5 32h0m4-116h0m4 36h0m2-21h0m2 28h0m0 44h0m5-14h0m1-71h0m4 54h0m9-6h0m1-13h0m3 35h0m1-35h0m0-27h0m1 63h0m64-83h0m2 61h0m0 19h0m2-73h0m1-9h0m2 44h0m3-91h0m5 35h0m12 15h0m2-53h0m42 77h0m7-239h0m9 223h0m13-83h0m7 5h0m3 12h0m8 10h0m2-27h0m1-100h0m2 43h0m0-18h0m3 95h0m4 3h0m1-82h0m3-32h0m13 100h0m10-20h0m2-11h0m5 3h0m3 1h0m0 82h0m1 2h0m4-49h0m5-67h0m1-43h0m5 142h0m8-70h0m4 40h0m36 430h0m5-4h0m6-143h0m1-13h0m4 15h0m4-4h0m1 67h0m0-44h0m6 14h0m5 27h0m4-8h0m0-70h0m8 102h0m5 2h0m1-17h0m1 17h0m3 61h0m4-132h0m18-45h0m2 10h0m2-16h0m11 39h0m2-76h0m1 14h0m6-234h0m9 99h0m2-60h0m2 4h0m0-8h0m2-58h0m22 271h0m1 50h0m2-45h0m0-39h0m4 7h0m0 46h0m0 21h0m8-186h0m0 227h0m3 6h0m4-84h0m0-163h0m0-1h0m2-28h0m0 228h0m8-41h0m3 25h0m1-29h0m0-6h0m18-170h0m7-15h0m3 44h0m1-11h0m0 45h0m1 38h0m1-106h0m9-3h0m1 11h0m6 47h0m8-39h0m5-97h0m7 15h0m4 153h0m4-21h0m2-5h0m13 261h0m0-77h0m8 49h0m3-14h0m1-38h0m5 55h0m1 69h0m4-112h0m3 45h0m5-182h0m1-38h0m0 89h0m14-33h0m9-10h0m2-16h0m1 32h0m2 20h0m7 17h0m0-63h0m5-30h0m5 6h0m1 19h0m8-122h0m0 70h0m1 36h0m8-20h0m9-24h0m5 42h0m4 9h0m1 45h0m0-147h0m5 39h0m13 91h0m13 75h0m4 4h0m2-138h0m0 108h0m4-110h0m1 65h0m2-7h0m1 67h0m1-58h0m3 77h0m1-51h0m3-18h0m9 39h0m2-44h0m9-40h0m1 61h0m1 53h0m3 13h0m2-91h0m4 18h0m0 75h0m4-50h0m1 7h0m1-32h0m12 13h0m0 12h0m2 0h0m1 31h0m4-22h0m6-18h0m3-20h0m5 41h0m2 7h0m6 0h0m0 11h0m1-24h0m1 18h0m1 26h0m1-13h0m1 16h0m15-9h0m12-66h0m3 87h0m0-60h0m5 7h0m5 81h0m6 10h0m3-33h0m0 36h0m5-59h0m2 73h0m6-72h0m3 36h0m2-22h0m5 33h0m2-41h0m0-19h0m0 15h0m9-257h0m0-15h0m10-145h0m7 93h0m4 105h0m1-90h0m7 79h0m14-63h0m2 109h0m2-77h0m0-76h0m0 99h0m8-106h0m1 71h0m5-47h0m0 128h0m5-160h0m4 107h0m9 1h0m3-113h0m0 99h0m1-38h0m0-68h0m0-13h0m9 64h0m18 296h0m2 9h0m5-77h0m3 72h0m5-32h0m1 73h0m4-36h0m7 36h0m8-105h0m4 35h0m8 29h0m1-90h0m1 80h0m30 15h0m0 6h0m11-66h0m9-1h0m4 80h0m3-35h0m2 69h0m7 9h0m0-32h0m1-12h0m2 124h0m14-77h0m7-159h0m11 21h0m1-49h0m8 43h0m1-92h0m6 109h0m7-75h0m2 109h0m6-93h0m2 54h0m5-78h0m0 39h0m2 50h0m0-56h0m8-89h0m3 77h0m3 17h0m5-31h0m6-52h0m6-6h0m37-120h0m14-88h0m10 368h0m2-20h0m5-49h0m14 7h0m2 27h0m15 10h0m8-69h0m2 127h0m4-20h0m3-33h0m1 40h0m1-39h0m1-69h0m9 98h0m11-21h0m9-16h0m3-48h0"/><path stroke-width="14" d="M0 0m251 1235h0m0 93h0m3-114h0m0 75h0m0-37h0m1-23h0m1 45h0m8-84h0m9-3h0m8 178h0m7-166h0m1 82h0m5-70h0m0-63h0m2 103h0m5-100h0m4 43h0m6-133h0m2 72h0m2 19h0m5 158h0m2-253h0m0 2h0m1 50h0m6-42h0m1 25h0m5-12h0m4-19h0m4 202h0m0-84h0m1 120h0m0-25h0m0-121h0m3-83h0m2 15h0m1 7h0m0 55h0m2 3h0m3-20h0m2 155h0m1-63h0m4-12h0m1-41h0m9 39h0m5 14h0m12 8h0m3 33h0m1-1h0m6-45h0m2-76h0m13 82h0m4 15h0m2-21h0m1 76h0m6-54h0m2-159h0m2 49h0m2 143h0m1 43h0m35-78h0m2 3h0m4-158h0m2 97h0m11 106h0m3-90h0m1-110h0m3 80h0m1 15h0m10 127h0m26 2h0m10-173h0m0 19h0m3-101h0m1-45h0m1 77h0m2-40h0m2 63h0m5-38h0m6 14h0m2 25h0m0 11h0m0 18h0m6-66h0m1 65h0m4 9h0m0-50h0m1 4h0m3 13h0m1-50h0m6 68h0m3-8h0m3 25h0m2-90h0m3 34h0m6-128h0m3-8h0m6 136h0m5-50h0m4 91h0m3-69h0m8 227h0m0-3h0m4-56h0m3 52h0m8-39h0m1 21h0m5-50h0m3 48h0m1-29h0m4 41h0m4-49h0m20 76h0m1-26h0m0-41h0m1-144h0m8 166h0m4 24h0m4 13h0m1-160h0m12-3h0m2-44h0m7-5h0m9 103h0m1-137h0m7 13h0m1 5h0m4 65h0m2-11h0m1-28h0m2-19h0m0 24h0m6 32h0m6-98h0m0 114h0m1-116h0m6 76h0m6 17h0m2 61h0m3-224h0m4 86h0m9 22h0m11 113h0m5-1h0m0-12h0m3 29h0m7 67h0m3-274h0m1 30h0m17 87h0m1 41h0m1-71h0m1-34h0m0 89h0m3-85h0m1 36h0m7 28h0m7-37h0m2-9h0m1 48h0m1-13h0m6-55h0m1 5h0m0 75h0m2-59h0m2 108h0m3-230h0m0 164h0m3-42h0m0 66h0m1-9h0m10 4h0m1 26h0m2-25h0m4-162h0m1 113h0m0-60h0m3 102h0m3 58h0m1-148h0m0 167h0m0-47h0m1 62h0m1-63h0m10-49h0m2-87h0m0 48h0m3 93h0m0-9h0m3-34h0m3-54h0m3 13h0m2 83h0m1-51h0m2 59h0m5-27h0m1 10h0m4-37h0m11-18h0m1-43h0m6 32h0m1-81h0m0 100h0m0 72h0m0-43h0m3-38h0m3 53h0m6-106h0m4 183h0m3-204h0m3 216h0m4-189h0m14 265h0m6 67h0m1 13h0m6-89h0m2 25h0m0-25h0m1 20h0m9-44h0m8 37h0m7-12h0m1 3h0m14 28h0m1-50h0m10 63h0m2 1h0m8-3h0m3 103h0m4-90h0m13 207h0m2-6h0m1-61h0m1 41h0m17 12h0m2-30h0m4-14h0m13-432h0m3-67h0m1-8h0m4 99h0m1 19h0m2-130h0m6 85h0m5-49h0m5 94h0m8-115h0m3 112h0m2-54h0m2 115h0m1-122h0m0 41h0m3 17h0m3-124h0m3 106h0m2 8h0m13-124h0m0 113h0m1-76h0m5-19h0m6 156h0m2-42h0m2-41h0m1 11h0m2 22h0m2-32h0m0 105h0m3 12h0m2-141h0m3 136h0m2-162h0m0 52h0m6 15h0m31-61h0m0 42h0m3-102h0m2-14h0m6 180h0m3-62h0m2 39h0m1-118h0m7 292h0m0 37h0m2-34h0m1 72h0m3-147h0m1-14h0m2 141h0m4-103h0m0 50h0m18 19h0m8-10h0m1-35h0m2-94h0m2 93h0m1 1h0m0-55h0m3 25h0m0-76h0m0 50h0m6 61h0m3-82h0m6-4h0m0 83h0m0-8h0m8-32h0m1-4h0m1-14h0m3 12h0m1-5h0m3-61h0m0 75h0m2 7h0m1-62h0m0 2h0m1 104h0m3-53h0m3-70h0m7 44h0m1 20h0m3-33h0m1 14h0m0-8h0m2-4h0m1 46h0m3 32h0m1-4h0m4-50h0m3 25h0m8-39h0m1 44h0m6 15h0m1 5h0m3-54h0m1-30h0m5-47h0m3 117h0m1-29h0m3-24h0m3 5h0m2 56h0m0-85h0m10 40h0m2 65h0m1-11h0m0-87h0m1 72h0m8-39h0m3 10h0m5 26h0m6-55h0m3-83h0m4 139h0m1-14h0m0 27h0m3 7h0m0-51h0m13-32h0m3 23h0m7 33h0m0-10h0m3-71h0m2-33h0m1 91h0m6-23h0m1-7h0m1-17h0m1 67h0m1 7h0m5-101h0m2 44h0m5 65h0m3-158h0m1 52h0m0 19h0m6 21h0m2-17h0m2 137h0m9-133h0m4 39h0m0-95h0m5 93h0m1-32h0m9-38h0m1-25h0m3 56h0m7-325h0m2 321h0m13-401h0m9 75h0m12 354h0m2-89h0m6 17h0m5-37h0m1 47h0m6-29h0m5 166h0m5-9h0m3 58h0m3 24h0m1-53h0m0-8h0m6-76h0m0 57h0m4-44h0m3 84h0m3-30h0m0-20h0m8 58h0m7 13h0m2 17h0m1-76h0m3 68h0m9-16h0m5 28h0m3-36h0m4-16h0m0 11h0m2-68h0m3 15h0m6 35h0m4 9h0m1 68h0m9-105h0m1 51h0m2-77h0m2 43h0m4 31h0m1 27h0m0-18h0m4 35h0m4-92h0m2 78h0m3 4h0m5-76h0m1 53h0m3-81h0m3 31h0m3 36h0m0-85h0m2 69h0m6-84h0m2 30h0m1 69h0m4 36h0m1 6h0m1-118h0m3 129h0m1-13h0m7-89h0m2 54h0m4 29h0m1-132h0m6 78h0m3 50h0m0-2h0m13-39h0m2-25h0m1-77h0m2 136h0m1-54h0m7-107h0m3-125h0m1 63h0m1-19h0m4 10h0m4-25h0m6-19h0m1 139h0m1-27h0m3-102h0m0-22h0m1-20h0m2 126h0m8-1h0m10 14h0m3 26h0m4-118h0m0 47h0m3 19h0m1-55h0m1 105h0m1-83h0m4 89h0m1-99h0m1 105h0m3-116h0m0 124h0m6-163h0m4 113h0m2-140h0m0 108h0m1 69h0m5 58h0m5 22h0m8-16h0m1-61h0m7 120h0m0-127h0m6 103h0m1 9h0m6 37h0m1-44h0m2-6h0m17-37h0m3-62h0m1 34h0m1 79h0m1-38h0m2 38h0m1 19h0m2-14h0m6-3h0m3-44h0m1 61h0m6-85h0m1-16h0m6-63h0m4 156h0m2-3h0m1-16h0m0-47h0m9 9h0m6-136h0m7 190h0m6-104h0m7 2h0m7 69h0m19 34h0m2-9h0m2 13h0m9-124h0m2 152h0m3-279h0m0-32h0m2 39h0m4-26h0m8-95h0m2 125h0m0-51h0m1 86h0m0-104h0m0 34h0m3-247h0m3 250h0m1-38h0m3 75h0m2 75h0m1-164h0m2 46h0m3-2h0m1-54h0m4-6h0m3 125h0m7-168h0m0 67h0m8 98h0m1-33h0m3-143h0m4 96h0m0-103h0m1 22h0m0-89h0m3 207h0m2-45h0m1-109h0m4 75h0m1 131h0m3-154h0m0-3h0m1 36h0m6 86h0m8-65h0m2-167h0m2 232h0m1 0h0m2-178h0m7 60h0m4-30h0m1 135h0m5-101h0m6 101h0m6-104h0m3-31h0m2 162h0m0-87h0m2 18h0m0-17h0m0-7h0m1 56h0m0 62h0m1-30h0m10-162h0m5-86h0m2 161h0m0 43h0m4-31h0m2-104h0m4 28h0m3 157h0m1-19h0m2-101h0m2 230h0m2-180h0m2 63h0m0 24h0m1-37h0m2-63h0m1 13h0m3-122h0m1 149h0m0-95h0m4 41h0m4 4h0m5-51h0m3 102h0m5 54h0m3-31h0m3-101h0m0 133h0m2 53h0m12-291h0m0 226h0m5 1h0m2-68h0m2 70h0m12 98h0m3-27h0m0-85h0m1 42h0m1-3h0m0 104h0m3-56h0m7-50h0m5 26h0m1-2h0m2-9h0m3 138h0m17-180h0m0 58h0m10-85h0m1 59h0m1 43h0m2 20h0m6-116h0m2 103h0m2-63h0m8 90h0m2-175h0m4 70h0m1 15h0m3-86h0m4 77h0m1 146h0m1-112h0m1-137h0m4 147h0m5 22h0m1-61h0m8-61h0m3 17h0m2-33h0m1-1h0m1 24h0m4-35h0m5 160h0m4-61h0m8 53h0m1 24h0m0-158h0m1-16h0m0 138h0m4-162h0m3 128h0m5-10h0m1 15h0m2 35h0m5-80h0m0-53h0m5 74h0m6-1h0m6 71h0m9 15h0m6-159h0m3 187h0m0-194h0m1 180h0m3 37h0m2-63h0m1 59h0m1-137h0m3 166h0m4-195h0m10 23h0m13-23h0m3 51h0m2 52h0m11-83h0m1 5h0m3-9h0m9 122h0m1 28h0m10-80h0m0-2h0m7 51h0m1-164h0m2 34h0m0 5h0m4 77h0m38 226h0m0-72h0m9 116h0m4-142h0m5 121h0m1-97h0m0-51h0m2 177h0m3 77h0m1-257h0m5 104h0m0 86h0m1-32h0m0-113h0m5 31h0m6-50h0m5 95h0m1 39h0m3-58h0m0 68h0m0-290h0m1-78h0m2 364h0m2-99h0m2 128h0m13-351h0m3-7h0m1 157h0m3-87h0m1-25h0m1 193h0m6-274h0m1-8h0m4 43h0m0 87h0m1-68h0m2 15h0m5-10h0m2-41h0m7-11h0m2 124h0m2 25h0m4-9h0m1-54h0m0 25h0m5-43h0m3 41h0m0 34h0m7-54h0m0-22h0m3-29h0m2 77h0m1-169h0m13 172h0m0-38h0m0 35h0m1-12h0m0 102h0m6-220h0m0 20h0m5 90h0m7 17h0m7 106h0m1 9h0m8-8h0m1-30h0m0-38h0m2-25h0m6 114h0m1 12h0m2 121h0m5-77h0m1 53h0m0-55h0m3-29h0m0 102h0m4-103h0m4 78h0m1 43h0m2-125h0m2-54h0m4 113h0m1-19h0m0 44h0m5 13h0m10 29h0m1-140h0m2 42h0m0 6h0m1-28h0m5-65h0m4 42h0m2 13h0m2-91h0m1 151h0m4-19h0m4-131h0m20 122h0m4-17h0m2 28h0m7-67h0m1 48h0m2 2h0m1-3h0m4-4h0m2-38h0m1 61h0m11-230h0m8-25h0m8 22h0m3 50h0m1 5h0m0-29h0m5-9h0m3-8h0m1-112h0m3 158h0m8-101h0m1 90h0m0-33h0m0 52h0m11-69h0m2 96h0m7-118h0m4 23h0m5 109h0m0-106h0m2-73h0m5 169h0m2-84h0m7 64h0m6-25h0m0-86h0m1-47h0m3 34h0m6 66h0m1-74h0m2 61h0m3-8h0m3 31h0m3-47h0m8-38h0m2 15h0m0 9h0m3 27h0m1-47h0m4 136h0m11-88h0m2 8h0m6-7h0m2 21h0m0-33h0m3-161h0m0 238h0m1 48h0m1-44h0m3-137h0m2 81h0m3-2h0m2 57h0m0-160h0m0 69h0m1-60h0m2 60h0m3 56h0m2 51h0m4-34h0m0-22h0m0-93h0m4 24h0m2 27h0m1-29h0m8 31h0m0-40h0m1 42h0m2 231h0m1-191h0m1 123h0m6 81h0m1-26h0m4-108h0m6 94h0m13 54h0m3-196h0m3 49h0m0 18h0m2-15h0m0-56h0m3 89h0m7 31h0m1-139h0m1 81h0m1-39h0m2-12h0m1 108h0m4-100h0m1 48h0m4-43h0m2 78h0m2-42h0m1 89h0m6-65h0m3-21h0m1 96h0m3-135h0m4 90h0m7-22h0m1-10h0m0-66h0m3 44h0m1-5h0m3-40h0m2 43h0m4 4h0m4-7h0m3-35h0m5 63h0m4 48h0m3 6h0m1-9h0m1 106h0m0-174h0m1 68h0m3-29h0m1-4h0m3-56h0m2 30h0m1 57h0m2-36h0m4 31h0m6-11h0m2-83h0m2 24h0m1-113h0m12 96h0m2 98h0m4 16h0m2-125h0m1-24h0m0 87h0m1 28h0m3-71h0m3 63h0m3-5h0m8-14h0m2-4h0m1-84h0m38-42h0m2-99h0m0 127h0m1-149h0m1 79h0m1 62h0m3-25h0m0-82h0m1 60h0m1 44h0m6-6h0m0-21h0m2 111h0m2-92h0m0-53h0m4 63h0m3 14h0m3-58h0m0-2h0m4 35h0m6 22h0m4 39h0m3-42h0m0-70h0m2-39h0m1 99h0m7 332h0m3-9h0m1 102h0m40-116h0m10-353h0m10 20h0m4-6h0m1 0h0m3 55h0m10 29h0m0-31h0m1-200h0m50 13h0m10-123h0m16-2h0m2 209h0m0-291h0m4-44h0m0 265h0m1 18h0m4-4h0m7 10h0m0-111h0m3 151h0m2-8h0m6-10h0m15-23h0m1-90h0m1 134h0m4-94h0m2 27h0m3 63h0m2-95h0m7 129h0m2-32h0m0-77h0m2 16h0m3 59h0m4-17h0m1-69h0m1 151h0m1-209h0m8 3h0m4 48h0m0-19h0m1 44h0m31 328h0m3 20h0m6 74h0m1-113h0m4 61h0m1 54h0m2-159h0m10 135h0m0-51h0m4 25h0m0-99h0m10 163h0m2-176h0m1 224h0m6-143h0m2 62h0m6-45h0m1 23h0m6-60h0m4-80h0m3 9h0m8 80h0m4-2h0m1-100h0m5 37h0m4 100h0m4-79h0m8-247h0m3 79h0m5 6h0m9-189h0m0 198h0m1-137h0m9 229h0m1 91h0m1 16h0m4 3h0m2-108h0m2 67h0m8-59h0m9 64h0m3-59h0m0 21h0m6-79h0m15 1h0m8-112h0m0 41h0m8-3h0m5-7h0m20-94h0m1 94h0m1-54h0m11-60h0m0 94h0m3 73h0m0-57h0m3 13h0m2-43h0m7 74h0m2-124h0m5-22h0m2 15h0m4 307h0m1 90h0m1-86h0m4 66h0m3-10h0m6-47h0m2-86h0m0 52h0m3 59h0m2-19h0m4 22h0m2-115h0m1 128h0m1-123h0m4-29h0m1 35h0m1-100h0m6 97h0m0-66h0m4-2h0m6-2h0m4 75h0m13-146h0m6 31h0m1 0h0m0 28h0m3-85h0m7 41h0m7-28h0m1 128h0m3-123h0m5 65h0m4 0h0m5 38h0m0-4h0m1-42h0m12 143h0m4-113h0m2 166h0m0-122h0m2 15h0m8 7h0m2-85h0m2 91h0m7-46h0m0-40h0m15 35h0m1 54h0m0 9h0m4-99h0m0-29h0m5 41h0m0-1h0m2 40h0m6-28h0m1 19h0m6 37h0m0 59h0m1-47h0m4 46h0m4-26h0m1 40h0m4-121h0m8 19h0m5 35h0m1-39h0m3 52h0m0-43h0m2 95h0m1 1h0m6-154h0m7 176h0m2-90h0m7 6h0m11-90h0m0 69h0m1 107h0m10 17h0m3-67h0m2-78h0m1 103h0m4-19h0m5 43h0m0-110h0m2 137h0m3-96h0m0 30h0m15 26h0m1-29h0m1 1h0m8-22h0m4 0h0m2 3h0m4 70h0m2 28h0m5-23h0m9-333h0m0-99h0m4 16h0m4-2h0m2 57h0m4 35h0m12-129h0m1 191h0m1-56h0m2 59h0m4-67h0m1-47h0m2 106h0m2-130h0m2 75h0m1-2h0m6-134h0m2 145h0m0 63h0m3-185h0m9 83h0m2 72h0m0-5h0m3-18h0m4-5h0m0 60h0m6-80h0m9 39h0m1-193h0m16 344h0m7-54h0m7 76h0m0 51h0m3-75h0m0 45h0m5-43h0m5 33h0m11 9h0m5-79h0m5 4h0m0-16h0m4 92h0m6-25h0m29-2h0m2 3h0m0 71h0m1-39h0m3-81h0m0 12h0m3 108h0m1-66h0m1 63h0m5-2h0m2-6h0m0 20h0m2-41h0m6 87h0m1 37h0m4-137h0m8 81h0m3-51h0m3-37h0m8-121h0m1-60h0m2 72h0m4-9h0m0 39h0m4-40h0m4 24h0m9-115h0m6 128h0m7 46h0m2-15h0m7-126h0m0 42h0m4-30h0m1 102h0m2-25h0m1-28h0m2-25h0m4-59h0m1 118h0m1 26h0m5 97h0m1-109h0m5-31h0m2 8h0m0 61h0m3 13h0m4-26h0m11-342h0m47 192h0m1 192h0m2 76h0m0-105h0m2-11h0m12-16h0m7 40h0m6-1h0m9 19h0m0-111h0m6 149h0m4-64h0m1 34h0m11-44h0m11 2h0m7-40h0m2 43h0m5 129h0m1-70h0m1-8h0m0 14h0"/><path stroke-width="12" d="M0 0m246 1232h0m1-157h0m3 54h0m0 215h0m0-126h0m1-36h0m0 123h0m8 15h0m2-73h0m0-58h0m1 127h0m2-86h0m0-39h0m4 97h0m1-64h0m0 57h0m0 7h0m1 73h0m4-177h0m6 56h0m2 14h0m0-1h0m1-53h0m1 99h0m0-123h0m0 147h0m1 9h0m4-64h0m1-154h0m0 45h0m1 78h0m0-72h0m1 11h0m0 107h0m1 16h0m3-129h0m2 26h0m5-102h0m1 93h0m3-11h0m0 51h0m2-159h0m0 122h0m0 55h0m3-120h0m1 2h0m6 67h0m0 66h0m2-161h0m0 85h0m4 35h0m0-129h0m1 156h0m0-64h0m1-84h0m0 86h0m0 57h0m2-99h0m4 44h0m1-62h0m2-36h0m2 192h0m0-8h0m1 364h0m1-470h0m1-46h0m1-49h0m0 210h0m1-6h0m0-235h0m0 79h0m3 61h0m1 101h0m1-216h0m0 15h0m1 74h0m2 127h0m0-144h0m2-22h0m0-12h0m1 56h0m0-21h0m1 13h0m1-13h0m3 39h0m0 38h0m3-73h0m2 40h0m0 149h0m1-124h0m1 17h0m5 11h0m2-38h0m2-31h0m0 57h0m0-122h0m1 131h0m2 19h0m3-32h0m1 1h0m0-3h0m1 95h0m1-107h0m0 74h0m2-38h0m0 49h0m0-155h0m4 79h0m2 38h0m0-95h0m2-81h0m1 70h0m1 114h0m2-25h0m0-7h0m2 14h0m0-146h0m0 208h0m3-172h0m1 49h0m0-38h0m0 62h0m1-23h0m5-115h0m0 175h0m2-63h0m0 56h0m2 30h0m0-109h0m1 61h0m3 39h0m4-76h0m1-79h0m2-26h0m2 175h0m1 78h0m0-103h0m1 7h0m1-20h0m1 43h0m0 12h0m1 19h0m0-121h0m4 71h0m28-164h0m1 167h0m4 27h0m2-147h0m1-10h0m4 87h0m0 36h0m3-7h0m2 23h0m2-192h0m2 41h0m1 177h0m0-122h0m1 86h0m2-59h0m1-26h0m0 167h0m1-81h0m1-122h0m0 129h0m2-70h0m2 36h0m1-81h0m0-43h0m3 150h0m0-102h0m1 100h0m0-113h0m0-7h0m2 42h0m2-3h0m1 144h0m2-149h0m2 49h0m1-84h0m2 103h0m0 70h0m4-76h0m2-101h0m0 153h0m1-186h0m2 149h0m1 19h0m5-26h0m3 56h0m0-132h0m2 162h0m1-165h0m1 69h0m1 3h0m2-25h0m1-96h0m1 68h0m3-65h0m0 45h0m0-97h0m1 60h0m1 51h0m3-137h0m0 15h0m3 27h0m0 17h0m0 72h0m1-49h0m0-75h0m1 88h0m1-46h0m0 117h0m1-129h0m0 67h0m5 60h0m0-137h0m0 2h0m1 14h0m1-27h0m3-13h0m0 0h0m0 53h0m1 9h0m0-38h0m0 8h0m3 107h0m2-18h0m1-95h0m0-16h0m1 24h0m0-55h0m1 66h0m2 63h0m3-99h0m0 52h0m1 16h0m0 41h0m4 30h0m3-132h0m2 87h0m1-9h0m0-62h0m2 85h0m0-80h0m2-13h0m0 46h0m1-54h0m0 38h0m3 15h0m0-97h0m0 92h0m1 46h0m0 25h0m2-120h0m2 53h0m4-127h0m1 34h0m1 95h0m1 23h0m0-38h0m0-54h0m1-20h0m5 11h0m0 18h0m1-52h0m0 77h0m3-21h0m0 37h0m3 51h0m0 6h0m2-195h0m5 317h0m4-26h0m7 42h0m0-9h0m2-41h0m1-37h0m2 65h0m1 36h0m0-15h0m4-50h0m0-23h0m1 24h0m1 0h0m2 44h0m5-24h0m1 7h0m2 14h0m5-68h0m0 58h0m2-39h0m1 18h0m0 18h0m1-31h0m2 8h0m1 70h0m0-53h0m2 8h0m4 27h0m0-154h0m0 180h0m0-34h0m1-5h0m2-1h0m1-42h0m1-38h0m3 131h0m0-63h0m1 10h0m0-1h0m1 21h0m0-11h0m1 2h0m0-41h0m1 48h0m1-72h0m0-4h0m1 78h0m0-4h0m0-3h0m1-14h0m1 87h0m0-118h0m0 16h0m1 24h0m1 29h0m0-20h0m0-78h0m2 31h0m3-153h0m5-4h0m1-61h0m1 117h0m1-10h0m0-15h0m0 63h0m2-77h0m1 6h0m1-32h0m1-82h0m3 115h0m3-80h0m1 34h0m3-14h0m0-14h0m3 144h0m0-120h0m2 75h0m0-32h0m0-119h0m3 117h0m1 41h0m2 29h0m1-18h0m0-47h0m1 58h0m2-49h0m4 86h0m0-94h0m0 34h0m0-48h0m2 20h0m0-32h0m1-35h0m2 21h0m0 57h0m5 25h0m1-39h0m1 32h0m0-68h0m4 50h0m1 3h0m1 1h0m2 34h0m1-214h0m2 118h0m0-38h0m2 31h0m1 201h0m1-103h0m1-34h0m3 133h0m1-79h0m0-54h0m1 34h0m2-160h0m0 163h0m0-85h0m2 117h0m1-6h0m0-213h0m1 100h0m0-32h0m1 117h0m0-66h0m0 31h0m3-26h0m0-17h0m2 22h0m0-12h0m1 2h0m0 1h0m2 92h0m3-59h0m0-32h0m2 136h0m2-122h0m1-103h0m0 105h0m2 19h0m1 115h0m1-133h0m0 7h0m2 77h0m1-54h0m0-71h0m1 120h0m1-75h0m3 138h0m1-138h0m0-164h0m0 113h0m0-6h0m7 26h0m0-6h0m0 84h0m3 17h0m0-31h0m1-202h0m0 204h0m1 43h0m1 49h0m1-149h0m2 68h0m2 9h0m2-1h0m4-21h0m1 27h0m2-121h0m0 52h0m1 52h0m3-86h0m0 21h0m1-26h0m0 79h0m1 44h0m2-59h0m0-57h0m2-11h0m1 76h0m1-4h0m1-23h0m3 30h0m1 48h0m1-34h0m0-28h0m1 27h0m1-29h0m0 78h0m1-98h0m1 96h0m1-112h0m1-1h0m0-71h0m1 185h0m1-56h0m0-68h0m2 7h0m1-46h0m0 172h0m1 65h0m1-164h0m3-33h0m2 105h0m1 20h0m2-146h0m1 57h0m2 138h0m4-85h0m2-87h0m0 46h0m1-20h0m3-41h0m0 61h0m2 8h0m1 31h0m0-46h0m2 10h0m2 32h0m2-205h0m1 178h0m0-81h0m1 186h0m1-104h0m3-72h0m4 67h0m2-29h0m0-3h0m2-10h0m1 5h0m0 22h0m6 107h0m0-29h0m3-78h0m1-105h0m2 91h0m1-58h0m2 67h0m0-19h0m0 44h0m0-56h0m0-1h0m0 130h0m3-49h0m0-16h0m0 17h0m4 53h0m3-182h0m0 57h0m2 38h0m0 72h0m1-31h0m1 35h0m3-57h0m0 12h0m2-20h0m0-66h0m1 66h0m1 80h0m1 44h0m1-141h0m1 2h0m0 71h0m1-78h0m2 12h0m0 74h0m1-57h0m0 20h0m1-38h0m0 146h0m0-91h0m0 37h0m1-88h0m0 5h0m4-12h0m2-13h0m0-59h0m0 92h0m4-192h0m2 230h0m3-198h0m1 213h0m2-119h0m1-35h0m6 133h0m0-34h0m0 132h0m1-156h0m2 54h0m0 41h0m2-53h0m4-27h0m4 202h0m1 8h0m0-15h0m3 11h0m0-76h0m1 50h0m3-44h0m1 53h0m0-27h0m0-12h0m2 103h0m1-19h0m1 34h0m0-59h0m1-88h0m0 59h0m2-38h0m1 39h0m1-24h0m0 41h0m1-93h0m2 30h0m2 114h0m3-88h0m1 136h0m0-18h0m0-11h0m1-63h0m1 10h0m3-34h0m0 2h0m0-9h0m0 30h0m3 67h0m0-97h0m0 37h0m2-59h0m2-62h0m1 141h0m0-98h0m1 75h0m0 80h0m2-92h0m0 62h0m1-17h0m1-38h0m2 7h0m1-1h0m4 74h0m4-63h0m0-96h0m2 87h0m1 49h0m2 18h0m3-98h0m5 14h0m5 56h0m2 4h0m0 2h0m0 7h0m1-113h0m4 120h0m1 17h0m2 38h0m1-128h0m2 64h0m0-72h0m0 85h0m1-68h0m1-41h0m0 141h0m1-76h0m8 66h0m16 37h0m5 211h0m20-734h0m4 66h0m0 71h0m3-55h0m2 97h0m0-115h0m6 140h0m3-118h0m0 141h0m0-185h0m4 85h0m1-85h0m6 19h0m1 10h0m2 88h0m4-65h0m2 46h0m2-69h0m0 34h0m1 2h0m1 62h0m1-90h0m1 107h0m1 20h0m1-68h0m0-34h0m1-42h0m3 84h0m2-52h0m2 113h0m1-33h0m2 114h0m0-71h0m7 12h0m1-37h0m3-172h0m3 99h0m1-89h0m0 66h0m1 124h0m0 24h0m0-112h0m1 83h0m2-71h0m0-8h0m2 11h0m0-64h0m1 128h0m1-95h0m1 106h0m4-18h0m0-16h0m5 19h0m1-104h0m1 37h0m1 67h0m1-127h0m1 149h0m2-32h0m0-2h0m3-53h0m7-32h0m0-32h0m1 100h0m3-141h0m2 50h0m5 74h0m0-11h0m4 51h0m1-42h0m0 41h0m4-23h0m2-41h0m1 1h0m1 82h0m2-12h0m1-35h0m1 20h0m2-11h0m1-39h0m0 12h0m1 52h0m0-93h0m2-51h0m0 59h0m0 30h0m0 37h0m1 45h0m2-180h0m0 53h0m2 45h0m2-25h0m5-26h0m2 15h0m0 13h0m1 11h0m0 14h0m0 70h0m1-83h0m3 226h0m2-13h0m2 31h0m3-50h0m2 84h0m4-114h0m0 33h0m4 69h0m3-43h0m0-8h0m1 30h0m0-64h0m0 4h0m0 41h0m2-70h0m3 74h0m3 57h0m0-38h0m1-5h0m1-4h0m0-59h0m0-22h0m1 94h0m3-49h0m1-6h0m0-21h0m0 64h0m3-81h0m0 59h0m2-28h0m1 6h0m2 74h0m1-70h0m1-9h0m3-31h0m0-46h0m4-27h0m1 43h0m0 8h0m1-30h0m0 24h0m1-47h0m1 62h0m1-30h0m0 37h0m1 27h0m2-21h0m0 20h0m3-107h0m3-12h0m1 31h0m1 77h0m3 8h0m2-11h0m1-78h0m1-20h0m1 49h0m3 155h0m1-148h0m0-75h0m3 33h0m0 60h0m2-3h0m1-26h0m1 69h0m3-73h0m1 88h0m0-35h0m0-120h0m2 153h0m0-170h0m1 193h0m0-198h0m2 34h0m1-94h0m1 159h0m0 75h0m1 74h0m6-146h0m0 23h0m2-55h0m2 81h0m0-21h0m1-52h0m1-30h0m1 67h0m0-43h0m0-31h0m3 121h0m1-50h0m7-24h0m1 4h0m1 77h0m1-123h0m2 63h0m7 99h0m1-103h0m2-1h0m2-25h0m3 115h0m0-128h0m1 2h0m1 34h0m1 27h0m1 7h0m2-64h0m1 31h0m1-15h0m1 11h0m2 4h0m2 146h0m1-149h0m1 64h0m1-95h0m2 14h0m0-9h0m1 26h0m2-131h0m1 206h0m1-72h0m1 47h0m1-34h0m0-26h0m2 43h0m0-61h0m1-63h0m0 37h0m3 7h0m0 28h0m2 134h0m1-76h0m4-46h0m1 50h0m0-9h0m1-21h0m3 30h0m0 37h0m1-85h0m1-20h0m0 139h0m1 0h0m0-141h0m3-7h0m0 40h0m3 39h0m2-78h0m0 43h0m2 71h0m0-11h0m0 52h0m1-93h0m3 20h0m2-13h0m3 95h0m0-113h0m5 118h0m3-172h0m1 4h0m1 59h0m7-86h0m0-17h0m0-51h0m1 99h0m0-73h0m0 19h0m1 59h0m0 95h0m0-133h0m1 152h0m0 18h0m1-192h0m1-5h0m2 113h0m1-17h0m0 30h0m1-105h0m1 199h0m0-134h0m2 91h0m0-83h0m2 34h0m0-135h0m3-33h0m0 99h0m1 2h0m0-53h0m0 72h0m1 21h0m4 48h0m2-31h0m1-173h0m1 187h0m1-168h0m0 166h0m0 6h0m0-123h0m1-8h0m2 87h0m0 17h0m1-45h0m1 110h0m3-120h0m0 66h0m1-40h0m1 3h0m2-9h0m3-39h0m2 23h0m4-41h0m3 83h0m5-12h0m1-46h0m1-27h0m3 33h0m1-43h0m1 115h0m1-64h0m3-42h0m0 36h0m2 23h0m1-2h0m1-12h0m1 2h0m2-79h0m3-291h0m1 290h0m0-158h0m1 224h0m0-30h0m1-40h0m4-50h0m0 81h0m2-18h0m5 46h0m2-29h0m0-46h0m1 126h0m1-106h0m0 108h0m15-426h0m0 64h0m4 301h0m1-83h0m1 87h0m0 38h0m0 25h0m3-47h0m1-2h0m0-50h0m5 42h0m2-21h0m0-64h0m3 61h0m1 33h0m3-9h0m3-8h0m4 161h0m1-30h0m2 88h0m0-47h0m1-53h0m1 115h0m0-39h0m2 1h0m2-113h0m0 89h0m0-24h0m3-26h0m2 48h0m0-90h0m4 10h0m0 102h0m2-105h0m1 116h0m2 19h0m3-75h0m0 5h0m5 24h0m0 11h0m1-174h0m3 113h0m0 57h0m0-86h0m3 58h0m2-25h0m1 50h0m2 7h0m1-159h0m1 171h0m0-98h0m0 61h0m0-13h0m2-21h0m1-28h0m2 68h0m0-67h0m2 27h0m1 18h0m2-187h0m3 245h0m1-33h0m0-22h0m1 1h0m0-5h0m0-15h0m3-46h0m0 66h0m3 24h0m1-28h0m1-15h0m1-9h0m0-73h0m2 128h0m1-6h0m6 2h0m1-24h0m2 18h0m1-14h0m0-181h0m1 253h0m2-137h0m1 65h0m2-43h0m2 23h0m1 43h0m1-25h0m0-16h0m1-9h0m0 13h0m0-5h0m1-8h0m1 2h0m0 82h0m5-78h0m1 86h0m2-88h0m1-64h0m1 10h0m1 75h0m0-3h0m2 21h0m0-134h0m1 62h0m1 26h0m0 31h0m1-86h0m0 56h0m3 16h0m1-36h0m1 63h0m1 16h0m2-36h0m1 26h0m0-33h0m0 44h0m0-126h0m1 71h0m1-4h0m3 54h0m0-26h0m0-85h0m1 15h0m0-14h0m1-2h0m2-15h0m1 87h0m1 32h0m0-2h0m1 59h0m2-113h0m0-22h0m1 53h0m0 54h0m3 49h0m2-199h0m0 96h0m2-93h0m0 79h0m0 34h0m1-69h0m2-19h0m0 67h0m3-23h0m3-30h0m3 34h0m2 114h0m0-77h0m2 83h0m2-52h0m0-22h0m5 91h0m4-181h0m1 51h0m2 58h0m4-132h0m1 43h0m1 58h0m3-50h0m2 6h0m0 16h0m3 16h0m2 19h0m1-108h0m0 56h0m0 70h0m1 84h0m0-162h0m1-165h0m3 137h0m0 69h0m2-119h0m2 142h0m1-170h0m0 171h0m4-160h0m2-88h0m0 89h0m2-70h0m0 23h0m2-2h0m0-14h0m2-54h0m1 108h0m2-34h0m0 6h0m1-56h0m2 62h0m0-171h0m1 146h0m0 5h0m2-26h0m0-9h0m2 62h0m3-50h0m1 24h0m3 50h0m1-32h0m4 109h0m0-16h0m0-7h0m0-26h0m2 11h0m0-1h0m1 88h0m1-126h0m3 14h0m0 28h0m1 5h0m2-53h0m6-7h0m1 46h0m6-22h0m0-51h0m0 42h0m2 67h0m2-118h0m9 51h0m0 15h0m1 38h0m1-77h0m2-20h0m0 38h0m4 78h0m3-130h0m0 4h0m1 13h0m0-105h0m1 159h0m0 27h0m0-112h0m1 210h0m1-94h0m2-162h0m0 53h0m1 32h0m2 75h0m6-12h0m2 18h0m0 48h0m0-18h0m1 19h0m0-56h0m0 126h0m2-137h0m4 90h0m1-18h0m1 112h0m2-146h0m1 4h0m0 30h0m1-13h0m1 40h0m3-5h0m1 8h0m0 12h0m0-36h0m0 38h0m0-120h0m3 23h0m1 89h0m1 26h0m1 17h0m3-68h0m0-4h0m3-64h0m3 130h0m1-1h0m0 14h0m2-66h0m2-12h0m4 7h0m0 4h0m4 20h0m1-49h0m2 28h0m0 22h0m1-48h0m2-30h0m3 10h0m1 115h0m1-129h0m2 155h0m2-153h0m1 107h0m0-48h0m2-21h0m1 88h0m1-9h0m1-19h0m0-33h0m1-42h0m3 58h0m2-208h0m5 119h0m0 98h0m1-44h0m1-39h0m0-44h0m0 83h0m2-31h0m1 95h0m1-65h0m2 37h0m0-15h0m3-61h0m0-1h0m2 58h0m1-75h0m0 128h0m1 27h0m1-33h0m0-115h0m1 129h0m0-144h0m1 123h0m2 18h0m3-34h0m1 5h0m2-63h0m0 115h0m0 15h0m2-111h0m2 44h0m3-11h0m2 27h0m1-98h0m1 15h0m1-13h0m0-93h0m0 193h0m2-128h0m1 77h0m0 1h0m3-10h0m0 49h0m1-68h0m2 9h0m0-70h0m1 79h0m1 66h0m0-47h0m1-59h0m2 29h0m2-18h0m1 96h0m1-48h0m1-82h0m2 84h0m1-60h0m0 20h0m0 45h0m3-55h0m1 16h0m1-22h0m1-27h0m1 91h0m2 18h0m0-93h0m8-14h0m2 38h0m1 37h0m2-41h0m4 40h0m1-261h0m2 74h0m1 6h0m1 14h0m5-8h0m1 29h0m0-40h0m0-8h0m0-17h0m1-64h0m2 181h0m1-53h0m5-125h0m2-8h0m0-17h0m1 87h0m1 51h0m0-125h0m0-35h0m2 58h0m1-52h0m0 6h0m2 54h0m0 43h0m0-15h0m1 7h0m0-104h0m1 95h0m0-130h0m1-48h0m2 60h0m3 118h0m1 40h0m1-212h0m1 215h0m2-48h0m1 91h0m0-76h0m0-100h0m1 95h0m0 10h0m1 92h0m1-38h0m1-107h0m0-131h0m1 114h0m1 62h0m2-82h0m2 99h0m5-79h0m9 26h0m1-23h0m3-80h0m1 48h0m0 64h0m2 43h0m2-104h0m5 22h0m2-80h0m0 58h0m7 11h0m0 89h0m2-66h0m1-72h0m1 108h0m2 2h0m3 24h0m2 6h0m0-9h0m3-149h0m0 73h0m0 72h0m1-174h0m0 214h0m0-149h0m1 108h0m3-48h0m4-90h0m0 40h0m0-15h0m1 181h0m4-60h0m1-81h0m1 97h0m4-79h0m0-52h0m2 148h0m0-197h0m2-64h0m1 142h0m1 5h0m1 137h0m6-148h0m0-56h0m1 179h0m1-137h0m0 205h0m1-183h0m2-7h0m1 36h0m1 56h0m1 4h0m0-119h0m1-54h0m0 123h0m1-24h0m1-12h0m0-27h0m6-48h0m1-57h0m0 132h0m2-96h0m1 72h0m1 211h0m0-104h0m1-2h0m1 14h0m0-134h0m1 89h0m3-52h0m2-86h0m2 218h0m1-110h0m2-62h0m3 206h0m1-38h0m0-101h0m1 13h0m1-7h0m2-137h0m1 94h0m2-14h0m6 39h0m2 18h0m2 33h0m1-64h0m0-164h0m1 226h0m4-72h0m0-57h0m2 48h0m3 99h0m1 33h0m1-136h0m0 31h0m0-33h0m1 41h0m3-82h0m1 183h0m1-190h0m0 22h0m2 146h0m1-107h0m0 37h0m1 72h0m2-94h0m1 27h0m1-17h0m1 103h0m1-188h0m1 151h0m1-22h0m0-2h0m4 4h0m1-75h0m2 5h0m2 30h0m0 21h0m1 28h0m1-190h0m2 58h0m0 251h0m4-70h0m0-26h0m0 48h0m1-96h0m2 47h0m3 90h0m0-58h0m2-41h0m5-24h0m4 156h0m0-42h0m1-67h0m0-61h0m2 115h0m0-66h0m0 35h0m1-19h0m0 138h0m3-156h0m1 80h0m1 24h0m4-63h0m2-50h0m0 28h0m4 62h0m0-174h0m1 191h0m1-47h0m0-254h0m2 245h0m0 25h0m2-9h0m2-90h0m2 133h0m0-92h0m1-5h0m1 47h0m1-20h0m3 49h0m3-145h0m1 126h0m0 52h0m1 26h0m3-172h0m1 142h0m4 24h0m0-159h0m1 94h0m0-71h0m5 2h0m0 46h0m0-35h0m1 75h0m2 65h0m1-61h0m1 52h0m1-78h0m2-106h0m1 131h0m7-11h0m2-95h0m1-5h0m0 78h0m1 65h0m1-153h0m1 73h0m1-120h0m2 35h0m1 23h0m0 14h0m2 8h0m2 181h0m2-154h0m1 24h0m0-7h0m2-47h0m2 31h0m0-132h0m1 203h0m1-14h0m1-56h0m1 55h0m1-49h0m1 52h0m1-87h0m1 94h0m0-159h0m1 77h0m0 77h0m0-96h0m1 56h0m2 82h0m0-173h0m0 93h0m1-107h0m0 111h0m1 75h0m0-81h0m1-3h0m1-11h0m1-28h0m1 92h0m2-183h0m0 132h0m1 31h0m4-187h0m0 151h0m0-94h0m1 130h0m0 4h0m3-10h0m1-125h0m1 112h0m1-73h0m3 125h0m0 79h0m1-85h0m0-69h0m0-87h0m6 82h0m1-18h0m1 1h0m3 81h0m2 14h0m0 24h0m1-123h0m4 34h0m0-114h0m2 54h0m1 15h0m1 108h0m0-70h0m1-100h0m0 65h0m2-33h0m0 79h0m6 78h0m1-118h0m4 131h0m2-143h0m0-68h0m1 192h0m2-161h0m3 97h0m1 24h0m5 12h0m2-71h0m0 19h0m1-59h0m3 42h0m2-88h0m1 105h0m1-101h0m1 21h0m0 44h0m0 94h0m1-114h0m1 43h0m1 40h0m1 59h0m1-58h0m0-58h0m4 51h0m1-48h0m0 8h0m0 135h0m1-58h0m0-62h0m1-41h0m0 82h0m1-72h0m0-96h0m2 11h0m0 139h0m11-67h0m0-29h0m0 22h0m1 48h0m0-54h0m2 34h0m1-5h0m0 40h0m2-73h0m0-18h0m0 135h0m1-65h0m1 47h0m2-57h0m2 27h0m0 36h0m1-43h0m3-19h0m0 76h0m0-55h0m2 27h0m3-54h0m3 45h0m1 45h0m1-137h0m2 63h0m1-51h0m1-40h0m1 140h0m1 73h0m3-30h0m2 0h0m0-34h0m3-43h0m1-19h0m0-55h0m0-41h0m1 11h0m4 69h0m0 32h0m1-61h0m1-18h0m1 81h0m5 19h0m1 50h0m0-78h0m0-12h0m1-29h0m1 210h0m1-182h0m4-10h0m0 39h0m4-107h0m0 167h0m1-164h0m0 32h0m30 305h0m2-129h0m1 96h0m1 122h0m1-190h0m3 160h0m0-27h0m0-41h0m4-87h0m1 24h0m2 109h0m1-115h0m1 9h0m1 52h0m1-32h0m2 116h0m0-78h0m1-114h0m1 15h0m3 154h0m0-16h0m0 101h0m1-161h0m0-28h0m1 102h0m1-153h0m1-5h0m1 101h0m2 98h0m3 36h0m4-191h0m0 92h0m1-51h0m1-33h0m0-44h0m2 86h0m1-15h0m2 173h0m1-125h0m0-25h0m11-110h0m1-84h0m0 151h0m0 23h0m1-245h0m0 0h0m0 352h0m1-251h0m1 47h0m0-112h0m4 61h0m3-3h0m1-2h0m1 18h0m0-76h0m2 82h0m3-45h0m1-8h0m1-107h0m0 98h0m1 149h0m2 38h0m2-171h0m1-36h0m0 77h0m1-101h0m0 21h0m1-97h0m2 84h0m4-24h0m1 191h0m1-97h0m3-101h0m1 48h0m0 27h0m1 72h0m1-79h0m1 51h0m4-137h0m1-17h0m0 24h0m1 89h0m0 24h0m1-89h0m1-14h0m1 94h0m1-111h0m1 54h0m0 45h0m2 8h0m2 0h0m1-49h0m1 4h0m0 15h0m1-26h0m0-25h0m2 75h0m3-52h0m1-2h0m3 144h0m2-14h0m3-100h0m3-55h0m1 124h0m1 36h0m1-69h0m2-1h0m0 83h0m0-133h0m0 81h0m2-74h0m2 21h0m0-122h0m1 91h0m0 5h0m0 45h0m2 58h0m1-60h0m0-55h0m2 8h0m1 24h0m3-25h0m0 88h0m4 27h0m3-75h0m1-87h0m1 70h0m0 42h0m2-69h0m1 140h0m0-83h0m1 48h0m0-73h0m3 38h0m1 20h0m1-176h0m0 134h0m1-143h0m0 201h0m1-57h0m1-10h0m1-3h0m2-56h0m0 33h0m3 182h0m2-8h0m2 34h0m1-88h0m0-10h0m0 155h0m1-36h0m2 67h0m0-158h0m2 126h0m0-137h0m0 68h0m1 43h0m2-24h0m1-117h0m0 140h0m6-58h0m2 23h0m0 33h0m0 102h0m2-180h0m1-28h0m1 36h0m2 156h0m1-172h0m0-13h0m6 115h0m0 16h0m1-71h0m2-97h0m1 183h0m1-81h0m1-30h0m1 31h0m1 41h0m1-88h0m0-45h0m0 286h0m2-224h0m2 154h0m0-76h0m2 50h0m0-43h0m1-130h0m0 82h0m0 27h0m3-89h0m2 90h0m1-18h0m0 65h0m0-15h0m1-50h0m3-69h0m1 162h0m1 7h0m0-67h0m1-54h0m0 93h0m0 29h0m2-59h0m0-19h0m1-119h0m0 110h0m2-114h0m7 95h0m3-40h0m1-15h0m0 14h0m2-41h0m1 0h0m0 104h0m1-12h0m0-69h0m0 67h0m1 7h0m1 33h0m1 26h0m2-24h0m1 13h0m0-59h0m2 71h0m3-2h0m0-189h0m1 163h0m0-80h0m1 73h0m0-27h0m1 17h0m2-4h0m2-13h0m1-68h0m1 125h0m0-164h0m2 36h0m1 20h0m0-3h0m1 81h0m0 72h0m1-151h0m4-20h0m1 0h0m1 184h0m2-161h0m1-56h0m1 197h0m1-115h0m2 103h0m1-114h0m2 44h0m1-33h0m3 62h0m0-64h0m0 72h0m1-189h0m0 176h0m4-55h0m3 50h0m1-57h0m0-268h0m2 139h0m1 14h0m1-149h0m2-65h0m3 145h0m0-65h0m1 16h0m0 20h0m3 86h0m0-77h0m0-10h0m2 97h0m0-88h0m1-28h0m1 93h0m3-32h0m0-33h0m0-11h0m0 9h0m0 3h0m1-52h0m2 127h0m1-96h0m1 81h0m0-26h0m1 3h0m0-28h0m0 67h0m1-19h0m0-29h0m1-19h0m2-24h0m2-30h0m0 3h0m0 90h0m0-60h0m1-61h0m0 186h0m0-78h0m5 9h0m4-98h0m0 85h0m0-45h0m4 98h0m2-119h0m2 77h0m2 51h0m0-61h0m4-92h0m0-15h0m1 50h0m1 2h0m1 69h0m0-104h0m1 41h0m0 38h0m0-32h0m1 103h0m1-133h0m1 49h0m3-89h0m0 69h0m2-18h0m0 97h0m1-2h0m0-127h0m0 133h0m0 51h0m2-105h0m1 56h0m3 39h0m2-46h0m4-85h0m1-1h0m0 49h0m2-76h0m0-55h0m2 12h0m1 217h0m0-50h0m2-70h0m2 48h0m1 13h0m2 1h0m2 35h0m4-51h0m3-1h0m1-101h0m3 28h0m2 21h0m1-52h0m2 35h0m0 6h0m1 44h0m1-28h0m1 24h0m0 23h0m0-44h0m2-8h0m0-53h0m4 41h0m0-10h0m3 46h0m0-56h0m1 28h0m0 49h0m2-3h0m1-43h0m0 2h0m0-46h0m1-73h0m0 90h0m0-13h0m2 22h0m0 42h0m2-23h0m1 0h0m1-44h0m0 70h0m0 75h0m2-181h0m1 26h0m1 111h0m0-94h0m2 36h0m1-14h0m0 39h0m1-67h0m6 81h0m1-40h0m3-6h0m2 27h0m0-5h0m3-58h0m0 68h0m1 10h0m1-12h0m0-53h0m0 49h0m1-30h0m2 19h0m1-39h0m4 49h0m1-26h0m0-24h0m1 86h0m1-62h0m0-49h0m1 64h0m1 9h0m1-13h0m1-115h0m3 162h0m1 37h0m0-7h0m1-10h0m1-80h0m0 31h0m0-69h0m3-15h0m1 53h0m3-46h0m0 15h0m2-31h0m0 80h0m1-31h0m0-32h0m1-1h0m3 10h0m1 17h0m1 0h0m1-18h0m2 50h0m3-63h0m0 8h0m0-7h0m1 70h0m1-48h0m1 19h0m0 99h0m0 11h0m4-9h0m0 139h0m1-121h0m0-7h0m1-5h0m0-18h0m2 62h0m1 99h0m2-49h0m0 1h0m0 25h0m2-133h0m1 80h0m0-37h0m1 37h0m1-24h0m1-125h0m0 198h0m3-74h0m0 47h0m2-73h0m1 29h0m2-50h0m1 102h0m8-50h0m3 12h0m3-84h0m0 123h0m1 78h0m0-173h0m1 52h0m0 10h0m2-69h0m1-4h0m1 66h0m0-77h0m0 25h0m1 112h0m1-37h0m2-118h0m1 77h0m3-40h0m0 95h0m1-90h0m1 4h0m0-61h0m2 117h0m1-56h0m2-8h0m1 29h0m2 19h0m2 11h0m0-36h0m6 61h0m1-146h0m1 108h0m0-22h0m1-88h0m1 153h0m3-80h0m1-73h0m1 54h0m4 18h0m2-22h0m2 56h0m1-62h0m0 121h0m2-69h0m1 20h0m1-75h0m3 122h0m0-26h0m2-106h0m2-25h0m1 11h0m2 40h0m1 61h0m0-35h0m1-9h0m1-9h0m3-4h0m0 144h0m1-27h0m3-117h0m0 64h0m1 20h0m1 53h0m3-121h0m0 7h0m3 108h0m1-8h0m1-55h0m0-89h0m0 57h0m1 51h0m0-151h0m0 83h0m0 83h0m1-61h0m0-14h0m0-68h0m1 82h0m0 16h0m0 13h0m1-23h0m1 2h0m1 47h0m0-28h0m0 52h0m1-97h0m2 40h0m1-15h0m3-46h0m0 67h0m1-50h0m0 41h0m1 17h0m0-68h0m0 123h0m3-83h0m0-15h0m2 121h0m5-206h0m0 146h0m0-121h0m2 112h0m0 67h0m2-190h0m1 38h0m0-15h0m4 18h0m1 134h0m0-82h0m1 63h0m2-186h0m0 116h0m1 54h0m1-125h0m1 41h0m0 32h0m3-109h0m3 169h0m1-33h0m0-59h0m2 6h0m3-44h0m1 28h0m4 22h0m2-11h0m0 7h0m1-120h0m1 249h0m1-154h0m2 30h0m1-55h0m0 96h0m0-58h0m1 7h0m2-64h0m0-27h0m1 40h0m1 70h0m1-66h0m3 256h0m3-70h0m1-107h0m0 90h0m0-186h0m0 194h0m29-233h0m6-35h0m1 37h0m1 45h0m2-15h0m1 18h0m1-135h0m5 131h0m1 5h0m2-155h0m0 121h0m1-84h0m1-3h0m4 167h0m1-55h0m1-74h0m1 23h0m1-6h0m1 11h0m1 44h0m0-2h0m1-20h0m1-34h0m2-31h0m1 115h0m2-134h0m0 147h0m2-92h0m1-2h0m8 1h0m2 61h0m0-139h0m3 14h0m1 3h0m0 132h0m7 439h0m9-163h0m3 85h0m3-42h0m12 1h0m4-6h0m20-386h0m4-52h0m1 131h0m1-105h0m3 57h0m1-97h0m1 68h0m1-121h0m1 103h0m1-66h0m1 45h0m1 0h0m5 94h0m0-88h0m4-11h0m4 14h0m3 89h0m1-145h0m0 68h0m43-345h0m1 250h0m3 4h0m6-39h0m2-4h0m4-76h0m1-50h0m5 61h0m1-60h0m2-46h0m7 247h0m3-55h0m1 89h0m0-38h0m6-147h0m1 60h0m4-63h0m0 32h0m2 121h0m0-5h0m1-125h0m1 106h0m0-46h0m1 7h0m1 52h0m3-21h0m0-130h0m2 74h0m1 7h0m4 8h0m2 19h0m0-74h0m1-25h0m1 146h0m2-32h0m2 21h0m1-62h0m0 72h0m1 21h0m3 26h0m1-94h0m0 57h0m1-19h0m1 31h0m1-79h0m2 8h0m1 63h0m3-127h0m1-10h0m0 84h0m1-140h0m2 43h0m6 24h0m3 64h0m2-45h0m1-36h0m1 145h0m1-44h0m0-65h0m2-48h0m2 61h0m2 7h0m1 8h0m1 59h0m1-127h0m1 97h0m0-6h0m1 19h0m1-141h0m2 52h0m1-24h0m3 101h0m0-7h0m31 308h0m2 2h0m0-33h0m3 145h0m4-143h0m0 151h0m1-81h0m0 119h0m2 78h0m0-216h0m0 81h0m1-68h0m0-14h0m0 13h0m1-16h0m1-26h0m1 82h0m1 18h0m0 61h0m2 3h0m1-172h0m0-3h0m2 160h0m1-186h0m2 71h0m3 30h0m0-94h0m2 105h0m1 21h0m2-41h0m0 19h0m3 18h0m1-101h0m0 82h0m0 0h0m1-10h0m0 20h0m0 58h0m1-63h0m1-21h0m0-86h0m2 88h0m0-43h0m1 32h0m1-3h0m3 55h0m4 23h0m0-57h0m1-62h0m0 165h0m1-57h0m0-95h0m1 53h0m1 43h0m0-48h0m1 83h0m6-70h0m5-89h0m4-28h0m0-60h0m2 40h0m0-24h0m1 1h0m2 68h0m2 9h0m0-7h0m2-67h0m0 38h0m1 20h0m5-25h0m1 2h0m2-2h0m3 58h0m0-24h0m1 62h0m1-122h0m3 61h0m0 44h0m0-37h0m3-287h0m2 47h0m2 99h0m0-185h0m0 102h0m1 43h0m2-78h0m0-53h0m0 124h0m0-13h0m0-2h0m1 52h0m2-79h0m3-46h0m1 49h0m2-27h0m2-24h0m1 44h0m12 178h0m2 60h0m1-12h0m0 5h0m3 24h0m2 16h0m0-16h0m1-50h0m1 0h0m2 7h0m0-29h0m4-3h0m2 76h0m0-9h0m2-70h0m1-109h0m3 176h0m0-48h0m0-159h0m0 2h0m2 14h0m0-33h0m1 237h0m2-178h0m1-42h0m2 116h0m1-80h0m1-39h0m0 198h0m1-159h0m0 12h0m1 183h0m2-18h0m0 48h0m1-271h0m0 225h0m1-50h0m2 24h0m4 49h0m0-71h0m2-1h0m10-126h0m2 49h0m3-67h0m1 86h0m1-93h0m0 56h0m0 8h0m1-127h0m1 35h0m2 107h0m2-62h0m0 10h0m0-70h0m3 70h0m3 99h0m2-122h0m3-107h0m4 142h0m1-29h0m1-54h0m0 37h0m1-5h0m0-64h0m5 84h0m0-97h0m2 109h0m1-69h0m0 51h0m0 4h0m1-90h0m0-1h0m2 147h0m7-187h0m5 157h0m0-48h0m1-33h0m1 28h0m2 72h0m1-116h0m4 141h0m1-2h0m1-89h0m1-131h0m1 116h0m1-65h0m2 105h0m2-28h0m1-46h0m0 3h0m4 225h0m4 61h0m0 122h0m1-125h0m1 65h0m1-41h0m0-18h0m1-61h0m2 84h0m3-17h0m1 38h0m0-118h0m2 78h0m1-50h0m2 1h0m0 5h0m0 100h0m1-12h0m0 43h0m4-145h0m1 16h0m2 87h0m3-148h0m1-31h0m1-20h0m1-11h0m4 72h0m0-87h0m2 69h0m0-1h0m3-3h0m0-41h0m2-63h0m1 32h0m1 65h0m1-57h0m1 11h0m5 3h0m3 10h0m2 31h0m2 8h0m1-80h0m0 10h0m1 24h0m0 30h0m4 29h0m0-140h0m0 21h0m1-8h0m0 48h0m0 56h0m0-58h0m1 36h0m0 62h0m1-35h0m2-223h0m1 185h0m0-13h0m3-108h0m1 54h0m1-27h0m0 97h0m7-75h0m0 88h0m1-13h0m2-22h0m3 17h0m2-20h0m1-13h0m1 73h0m4-72h0m1-62h0m1 25h0m2 95h0m1-14h0m1-34h0m2 40h0m2-137h0m1 137h0m1-39h0m3-2h0m0 12h0m0-26h0m0 77h0m2-76h0m1 98h0m3-90h0m4 157h0m1-92h0m1-31h0m1-36h0m1 175h0m0 52h0m2-60h0m1-122h0m1-59h0m0 78h0m1-17h0m0 105h0m0 18h0m3-143h0m1 63h0m1-86h0m2 119h0m3-118h0m0 29h0m2 39h0m0-120h0m2 81h0m0-14h0m8 170h0m1-24h0m1-134h0m3-12h0m7 24h0m2 65h0m3-10h0m0-54h0m3 70h0m0-73h0m2-3h0m0-9h0m0 32h0m0 56h0m1 52h0m0-113h0m1 35h0m0-8h0m4 61h0m1 8h0m2-6h0m1-11h0m2-114h0m1 118h0m3-167h0m0 48h0m0 122h0m1-103h0m0 56h0m1-95h0m2 191h0m0-130h0m1 73h0m0-15h0m3-63h0m0 119h0m1-25h0m1-22h0m0-53h0m0-19h0m4 17h0m2 77h0m2 29h0m0-38h0m2-93h0m1-30h0m1 37h0m2-25h0m3-58h0m1 161h0m0-67h0m0 61h0m2-125h0m1 37h0m0-13h0m1 137h0m1-65h0m1-56h0m0 39h0m1-13h0m0 24h0m0 30h0m0-42h0m2-27h0m1 75h0m1-65h0m0 51h0m1-105h0m4 75h0m2-71h0m3 8h0m4 22h0m1 59h0m1 35h0m0-96h0m3 75h0m3 30h0m1 13h0m1-30h0m2-22h0m1 44h0m2-57h0m2 59h0m0-25h0m5-42h0m2 19h0m1 13h0m0 35h0m0 32h0m3-81h0m0-20h0m1 3h0m1 33h0m2 19h0m0-11h0m3 127h0m1-30h0m1-27h0m3-22h0m0-88h0m3 81h0m1-38h0m0-4h0m0 19h0m4 70h0m4-47h0m0-20h0m6 119h0m0-95h0m2-71h0m4 40h0m0 112h0m1-78h0m0-29h0m0 66h0m0 25h0m1-77h0m1 11h0m2 40h0m0 42h0m0-111h0m2-11h0m1 81h0m4-75h0m0 98h0m1-81h0m2-72h0m0 58h0m0 26h0m2-21h0m0 36h0m1-78h0m1 51h0m0-38h0m1 53h0m0 40h0m1-33h0m1-31h0m3-470h0m1 108h0m0-111h0m0 291h0m6-302h0m1 24h0m1 101h0m0-161h0m1 215h0m0 102h0m1-142h0m2-3h0m1 55h0m2-101h0m0 48h0m1 120h0m1-34h0m2-77h0m2 95h0m1-121h0m2 126h0m1-4h0m2-88h0m1-137h0m2 219h0m0-227h0m1 261h0m2-108h0m1 73h0m2-35h0m1-47h0m1-64h0m2 171h0m2-53h0m0-159h0m2 163h0m1-39h0m1 109h0m1-99h0m0-49h0m2 45h0m4-23h0m3-42h0m1-29h0m1-1h0m3-31h0m0 227h0m0-64h0m3-80h0m2 3h0m0 46h0m1-27h0m3 44h0m1-21h0m1 13h0m1 91h0m1-160h0m0 16h0m1 59h0m0-110h0m1 127h0m0-89h0m0-112h0m1 231h0m0 40h0m0-92h0m1-90h0m2 78h0m1-152h0m0 280h0m1-128h0m2 41h0m4-1h0m1-30h0m1-13h0m1-39h0m0 16h0m0 112h0m17 23h0m1 151h0m1-30h0m3-50h0m3 123h0m0-65h0m4 34h0m1-38h0m0-15h0m0 17h0m1 44h0m2-24h0m3 47h0m5 79h0m1-85h0m0-25h0m1 23h0m1-85h0m1 123h0m2-50h0m1-37h0m0-20h0m1-39h0m0 128h0m0-8h0m3-1h0m0-43h0m1-65h0m3-10h0m0 113h0m3-16h0m5-101h0m0 51h0m6 151h0m4-125h0m0 11h0m1 50h0m17-91h0m1 41h0m2 81h0m1-40h0m1-64h0m1 8h0m1 74h0m1 14h0m1-49h0m0-62h0m3 84h0m0 31h0m2-19h0m1-172h0m1 123h0m1-58h0m2 77h0m0 99h0m0-53h0m1-73h0m1 38h0m4-114h0m0 126h0m1-32h0m1 35h0m2-18h0m2-105h0m0 54h0m1 23h0m2-99h0m0 56h0m3 49h0m0-26h0m0 45h0m1-47h0m1 85h0m3-5h0m2-47h0m1 112h0m2-105h0m3 47h0m0-26h0m0 44h0m1-151h0m1 69h0m0 57h0m1-140h0m2 169h0m1-82h0m7-126h0m5 62h0m2-40h0m1-28h0m1-92h0m1 114h0m1-79h0m1 59h0m0-15h0m0-8h0m2-8h0m1 31h0m0-32h0m3 25h0m0-57h0m2 154h0m0-84h0m2 43h0m2 97h0m10-166h0m0 56h0m3-11h0m0-138h0m9 181h0m4-49h0m3 61h0m1-77h0m0-20h0m2 31h0m1-11h0m2 0h0m4-116h0m0 76h0m2 80h0m1-57h0m0 27h0m2-12h0m1 53h0m2 3h0m0 25h0m3 17h0m1-87h0m0 44h0m8-62h0m0-1h0m0 7h0m0-46h0m2 142h0m1-127h0m2 55h0m14-237h0m8-95h0m2 12h0m6-93h0m20 478h0m1-117h0m2 118h0m0-11h0m2 33h0m1-20h0m1 73h0m4-129h0m1 110h0m1-38h0m0 38h0m1-62h0m1 1h0m1 38h0m2-6h0m6 31h0m3-38h0m0-35h0m1-49h0m1 81h0m1-57h0m3-56h0m3 144h0m1 29h0m2-19h0m1-30h0m4-49h0m3 8h0m2 33h0m1-28h0m1 41h0m1-11h0m1-63h0m2-12h0m0 34h0m4-62h0m0 102h0m1-51h0m2 42h0m1 48h0m1-61h0m2-19h0m3 85h0m3-129h0m2 106h0m1-79h0m4-28h0m1-4h0m0 8h0m3 24h0m1 7h0m4 47h0m3 38h0m0-8h0m0-24h0m2 53h0m1-44h0m2-30h0m2-21h0"/><path stroke-width="10" d="M0 0m246 1146h0m2-42h0m0 97h0m1-68h0m0 44h0m1 1h0m2 88h0m1-154h0m0 163h0m0-121h0m0 102h0m1-43h0m0 108h0m3-20h0m0-67h0m0-93h0m0 95h0m3-1h0m1 64h0m1-61h0m0-18h0m0 38h0m2-16h0m2-31h0m1-68h0m2 178h0m2-46h0m0 25h0m1-128h0m0 99h0m1 61h0m1-2h0m1-139h0m1 43h0m1 32h0m0-10h0m3-32h0m3 10h0m3 4h0m0-8h0m0 36h0m1-29h0m1-19h0m0 80h0m1-11h0m1-53h0m1-15h0m1-60h0m1-15h0m1 86h0m2-106h0m1 93h0m1 5h0m0-87h0m1 37h0m1-13h0m1-8h0m0-32h0m0-9h0m1 71h0m1-29h0m1 14h0m1-29h0m0-25h0m2 129h0m2-57h0m3-46h0m0-74h0m0 70h0m2 74h0m0-34h0m1-38h0m1 71h0m1-50h0m1 51h0m1-110h0m0 233h0m2-163h0m0 57h0m1-35h0m1 10h0m0-28h0m4 80h0m2-130h0m3-1h0m0 63h0m2 97h0m0 3h0m1 10h0m1-259h0m4 38h0m2 217h0m0-18h0m1 23h0m2-22h0m2 12h0m1-155h0m1-86h0m1 37h0m0 225h0m1-25h0m0 1h0m2-199h0m1 32h0m5-16h0m0 92h0m0 127h0m0-239h0m3 193h0m1-43h0m0-153h0m0 161h0m0-26h0m1 39h0m0-97h0m2 71h0m1-8h0m1 96h0m1-157h0m1 146h0m1 30h0m0-137h0m0-97h0m2 162h0m1-100h0m1 89h0m2-106h0m1 73h0m0 22h0m2-29h0m1-30h0m1 7h0m2 73h0m1-49h0m1 93h0m1-132h0m1 33h0m1-133h0m1 211h0m1-101h0m2-114h0m0 28h0m0 43h0m1 48h0m0-61h0m2 118h0m1-58h0m1-110h0m0 171h0m1-147h0m2 93h0m0 20h0m0 4h0m0-52h0m1 31h0m0 16h0m1 7h0m1 1h0m2 45h0m1-91h0m0 19h0m0 14h0m1 62h0m3-86h0m3 62h0m1-144h0m0-21h0m1 162h0m0 21h0m2 8h0m1 35h0m0 30h0m0-188h0m2 16h0m1-20h0m7 161h0m1-114h0m0-58h0m0 179h0m3-139h0m3 33h0m29 16h0m3-108h0m0 14h0m1 62h0m0-74h0m0 49h0m2-104h0m0 71h0m4 69h0m1-22h0m1-71h0m1 40h0m1-3h0m3 84h0m1 3h0m1-81h0m0-4h0m1-22h0m1 124h0m1-24h0m1-73h0m0 11h0m2 37h0m2 47h0m0-69h0m2 19h0m0 294h0m0 35h0m1-355h0m1 95h0m1-130h0m1 49h0m2 7h0m0 78h0m1-146h0m3-36h0m4-9h0m1 170h0m0-56h0m1-132h0m2 38h0m0 88h0m1-81h0m1 26h0m1 43h0m0 40h0m0-89h0m0-111h0m1 269h0m0-183h0m0 41h0m4 116h0m0 11h0m2-79h0m1-41h0m2 36h0m1 0h0m1 33h0m1-182h0m2 211h0m0-58h0m1 71h0m1 65h0m0-135h0m4 83h0m0-169h0m2-84h0m0 134h0m2-32h0m1-10h0m1 135h0m0-188h0m0 113h0m1-86h0m1 57h0m1-17h0m1-42h0m1 39h0m5-83h0m0 57h0m1 56h0m0-7h0m3-133h0m0 102h0m1-69h0m2 166h0m2-61h0m3 48h0m1-164h0m0 101h0m2 15h0m0-29h0m1-52h0m0 56h0m2-85h0m3-51h0m0 53h0m0-42h0m2 39h0m2 54h0m2-19h0m0 77h0m1-22h0m0-33h0m1 45h0m0-72h0m0 19h0m1-81h0m0 60h0m0 140h0m1-183h0m2 128h0m4-53h0m0-8h0m0-44h0m8 21h0m2 92h0m0-104h0m0-31h0m1 22h0m1 36h0m1-45h0m1-86h0m2 87h0m0-27h0m3 137h0m1-178h0m1 169h0m0 52h0m0-113h0m0-48h0m7 16h0m6-127h0m0 114h0m2 94h0m0-129h0m3 295h0m6-59h0m1-13h0m0 12h0m2 55h0m4 30h0m0-95h0m1 56h0m1-46h0m1 67h0m0 3h0m4-27h0m1-33h0m1 2h0m0 35h0m1-14h0m1-62h0m0 33h0m0 54h0m0-108h0m1-106h0m1 176h0m1-22h0m1 25h0m2-28h0m1 32h0m0 21h0m5-29h0m0 93h0m1-80h0m1-26h0m2 13h0m0 15h0m2-129h0m2 126h0m2 43h0m0-56h0m3-13h0m1-5h0m0 28h0m0-42h0m1 14h0m1-35h0m1 49h0m3-36h0m1 48h0m1 0h0m1-69h0m2 45h0m1-84h0m1 111h0m1 31h0m1 14h0m1-29h0m2 46h0m2-44h0m1 8h0m0 40h0m0-106h0m2 67h0m1-144h0m1 82h0m0-515h0m2 430h0m0-66h0m2-158h0m0 286h0m1-107h0m1-127h0m0 161h0m1 26h0m2-11h0m7-67h0m0-68h0m1 50h0m1 13h0m2-29h0m1-1h0m0 163h0m1-211h0m0 115h0m2 41h0m1 12h0m0-238h0m4 154h0m1-26h0m3-135h0m1 168h0m0-2h0m1 56h0m1-124h0m0 61h0m2-51h0m1-29h0m1 73h0m0-70h0m0 95h0m1 37h0m4-38h0m1-58h0m0 39h0m0-8h0m11 163h0m0-146h0m2 98h0m0-93h0m2 92h0m0-82h0m1 13h0m3-12h0m2-58h0m2-1h0m0 75h0m2 45h0m0-100h0m0 143h0m1-40h0m1-42h0m0-55h0m0-11h0m3 141h0m0-126h0m1 62h0m2 47h0m0-114h0m2 51h0m2-33h0m0 83h0m3-134h0m2 146h0m0 4h0m4-23h0m1-89h0m1-98h0m0 16h0m1 159h0m1-52h0m1-99h0m2 77h0m2 53h0m1 40h0m0-119h0m1 17h0m1 159h0m0-101h0m0-76h0m1-105h0m0 141h0m0 94h0m1-11h0m0 58h0m0-119h0m1 11h0m0-181h0m0 219h0m1-59h0m0 4h0m1-79h0m2 166h0m0-241h0m1 105h0m1 25h0m1 4h0m1-11h0m1 86h0m5-201h0m1 160h0m1 32h0m1-24h0m4 32h0m1-38h0m1 113h0m2-128h0m3 118h0m0-252h0m0 132h0m2 24h0m0-59h0m3 78h0m1-82h0m1-17h0m1 8h0m1 30h0m1 67h0m1 69h0m3-212h0m2 126h0m1 100h0m2-125h0m2 44h0m1-68h0m3 37h0m0 43h0m0-117h0m1-35h0m3 75h0m0-73h0m2 103h0m1-173h0m1 165h0m1 71h0m2-106h0m1 79h0m0-170h0m2 109h0m0 32h0m0-100h0m1 216h0m2-36h0m0-35h0m1-9h0m0-198h0m2 89h0m1-7h0m0 114h0m1-97h0m1 72h0m0-33h0m1 88h0m2-109h0m1-38h0m0 51h0m2 118h0m0 6h0m1-133h0m0 41h0m0-27h0m0 31h0m1-54h0m0-10h0m1 117h0m2-224h0m0 115h0m1 12h0m0 44h0m1-94h0m2 42h0m0 19h0m0-27h0m1 83h0m0-151h0m2 171h0m2-184h0m0 202h0m3-30h0m0-59h0m2 63h0m2-187h0m0 141h0m3-16h0m2 135h0m0-11h0m1-61h0m0-159h0m1 90h0m4-49h0m1 73h0m0 45h0m4-75h0m1 127h0m1-71h0m0-167h0m0 137h0m1-83h0m0-104h0m0 197h0m3-126h0m1 66h0m0 131h0m0-87h0m3-114h0m1 123h0m0 16h0m1-6h0m0-68h0m1-44h0m3 169h0m0-232h0m1 193h0m0-108h0m0 164h0m1 40h0m1-53h0m0 44h0m0-125h0m1-6h0m1 36h0m0-5h0m0-74h0m3 19h0m1-144h0m0 274h0m1-124h0m0 94h0m1-59h0m1 98h0m2-141h0m0-77h0m1 123h0m2 31h0m0 129h0m0-46h0m1-192h0m0-39h0m0 164h0m1-44h0m0 71h0m1-82h0m1 23h0m3-157h0m0 78h0m2 158h0m0-208h0m4 129h0m0 15h0m0 19h0m0-88h0m0 153h0m2-152h0m0-46h0m1 197h0m0-91h0m0-78h0m1 72h0m1-171h0m2 59h0m0 74h0m0 93h0m2-107h0m2-32h0m1 198h0m1-47h0m2-108h0m1-71h0m0 59h0m2 2h0m0 46h0m1-1h0m2-47h0m5 342h0m0-56h0m4-37h0m1 46h0m2-14h0m0-83h0m0 24h0m2-84h0m2 74h0m1 129h0m6-101h0m0 50h0m1-32h0m1-88h0m1 117h0m1-25h0m2 3h0m0-29h0m1-1h0m0 64h0m0-66h0m2-19h0m1 87h0m1-33h0m2-52h0m0 14h0m1 7h0m0 30h0m7-90h0m1 49h0m2-25h0m1-21h0m1 118h0m1-56h0m3-4h0m2 43h0m2-54h0m0 40h0m1-84h0m1 69h0m1-43h0m0-63h0m0 31h0m1 158h0m3-104h0m0-17h0m1-72h0m0 56h0m0 71h0m2-55h0m1 12h0m4-78h0m1 72h0m1-7h0m2-44h0m1 69h0m1 73h0m3-16h0m1-5h0m0-26h0m1-18h0m1 23h0m0-100h0m1 63h0m2-15h0m1-2h0m1 3h0m1 76h0m1-20h0m1-27h0m1 113h0m1-167h0m1 57h0m1-32h0m1-29h0m0 200h0m1 32h0m0-190h0m3 119h0m0 22h0m1 44h0m1 124h0m2-145h0m0 10h0m2 42h0m1-3h0m1-16h0m0-61h0m1 29h0m1 42h0m7-16h0m6 36h0m15-26h0m1-21h0m6-514h0m2 37h0m1 11h0m1-58h0m2 1h0m1 54h0m2-11h0m1-51h0m1 173h0m1 40h0m1-35h0m1-230h0m0 126h0m1 26h0m0-52h0m0-50h0m1 79h0m2 66h0m2-94h0m2-1h0m0 51h0m1-34h0m3 32h0m1 67h0m1 4h0m0-61h0m0-53h0m2-34h0m1-30h0m3 70h0m2-56h0m0 55h0m1-124h0m0 249h0m4-124h0m1 90h0m1-94h0m0 35h0m1 120h0m3-108h0m0 58h0m5-68h0m0 37h0m0-36h0m1 51h0m2-11h0m3-62h0m1-26h0m0 138h0m2 43h0m0-72h0m0-11h0m1 60h0m0-96h0m1 11h0m2 130h0m0-33h0m8-234h0m1 96h0m1 13h0m1 26h0m2 16h0m0 65h0m2-112h0m1 97h0m0-108h0m1 62h0m1-74h0m2 45h0m0-60h0m3 111h0m2 36h0m1-183h0m0 126h0m1-25h0m1 2h0m1-9h0m0 95h0m0 32h0m2-213h0m1 95h0m2 66h0m0-3h0m1-61h0m2 75h0m0 5h0m0-34h0m2-31h0m1 12h0m1 40h0m6-240h0m4 148h0m1 104h0m1-54h0m0-62h0m4 24h0m2 64h0m3-86h0m0 22h0m1-70h0m2 135h0m0-30h0m0 13h0m1-19h0m1 79h0m0-66h0m3-20h0m1-15h0m0 70h0m1-79h0m2 72h0m1-11h0m1-175h0m1 111h0m1 6h0m0-98h0m0 109h0m2-51h0m1 27h0m8 102h0m4 99h0m1 1h0m1 82h0m2-68h0m0 88h0m2-127h0m2 83h0m1-55h0m0-25h0m0-25h0m2 110h0m1-121h0m0 53h0m5-1h0m1 42h0m0 10h0m3-6h0m0 8h0m2 22h0m0-26h0m1-5h0m5 0h0m0 2h0m1-14h0m1-12h0m1 53h0m0-19h0m4-20h0m1-26h0m0-5h0m2 72h0m1-48h0m1 49h0m2-36h0m2-91h0m1-62h0m1 62h0m0-34h0m1-4h0m0 25h0m3 42h0m0 60h0m2-19h0m0-49h0m2-147h0m2 236h0m0-107h0m1 26h0m5-4h0m1-59h0m3 43h0m0 7h0m1 7h0m0 46h0m0-16h0m1 5h0m0-65h0m1 60h0m0-190h0m1 195h0m0 18h0m0-81h0m2 105h0m1-208h0m2 205h0m3-155h0m0 97h0m1 0h0m0 83h0m1-88h0m0-31h0m0-30h0m0 64h0m2 57h0m1-70h0m2-192h0m0 158h0m1 114h0m1-135h0m0 55h0m1-10h0m0-12h0m0-34h0m4-53h0m3 195h0m1-157h0m2 78h0m1-64h0m2 63h0m0 35h0m1-82h0m1 62h0m0-36h0m1-13h0m3 12h0m4-26h0m2 137h0m1-46h0m0-153h0m1 132h0m1-103h0m0 0h0m1 149h0m1-97h0m1 67h0m1-31h0m1-8h0m1 48h0m1-65h0m0-19h0m1-63h0m2 179h0m0-4h0m0-29h0m3-69h0m0-21h0m2 18h0m1-25h0m0-5h0m2 154h0m2-257h0m0 165h0m0 10h0m1 82h0m0-160h0m2 99h0m2-29h0m2-127h0m1 32h0m1 40h0m1 12h0m0-23h0m0-1h0m2 65h0m0-104h0m0 76h0m1 14h0m1 2h0m0-78h0m2-12h0m1 80h0m0-22h0m1-8h0m0-8h0m1-36h0m1 94h0m2-18h0m1 76h0m1-31h0m0-91h0m0 23h0m1 73h0m1-36h0m0-98h0m2 182h0m0-119h0m0 8h0m1-32h0m2 45h0m1 39h0m0-91h0m2 77h0m1-24h0m0-20h0m3-4h0m1 47h0m2-72h0m2 49h0m2-52h0m1 79h0m1 33h0m2-44h0m1-20h0m0 28h0m1 5h0m0 17h0m1 37h0m1-134h0m1 15h0m1 41h0m1 48h0m1-201h0m1 48h0m1 179h0m0-153h0m3 114h0m0-126h0m1 36h0m2 127h0m0-136h0m4-90h0m2 217h0m0-33h0m0-61h0m1 46h0m0 26h0m0 17h0m0-111h0m1 90h0m0-66h0m3 34h0m4-56h0m3 41h0m1-52h0m1 23h0m2 14h0m2 17h0m0-50h0m0 55h0m2 48h0m0-94h0m1-48h0m1 47h0m1 42h0m1-87h0m1 169h0m0-126h0m0 126h0m2-209h0m0 45h0m1-12h0m1 53h0m1-37h0m0 144h0m1-105h0m1 126h0m0-137h0m2-9h0m2 166h0m3-120h0m2-30h0m0-67h0m1-29h0m2 108h0m1-88h0m0 44h0m3 61h0m2-109h0m0 99h0m1-74h0m1 88h0m1-13h0m1 12h0m1 10h0m3 27h0m1 108h0m3-55h0m2-113h0m0-120h0m2 183h0m0-9h0m1-152h0m1 154h0m2-25h0m1 15h0m1-59h0m1 27h0m1 60h0m0-40h0m2 110h0m2-156h0m1 52h0m0-196h0m0 94h0m1 34h0m0-86h0m0 60h0m0 10h0m1-4h0m0 60h0m1 38h0m1-37h0m0 34h0m1-40h0m3-56h0m0 57h0m1-64h0m1 55h0m0-62h0m1-17h0m1 67h0m0-12h0m5-10h0m0-40h0m1 0h0m2 91h0m1-98h0m1-125h0m1 167h0m0 51h0m2-32h0m0-332h0m0 247h0m1 92h0m1 5h0m2 10h0m0-2h0m3-15h0m1-53h0m10-267h0m3 74h0m3-88h0m3-82h0m1 347h0m0-15h0m3 27h0m0 77h0m1-85h0m0 35h0m1 2h0m1-38h0m3 5h0m1-266h0m1 309h0m0-63h0m4 7h0m1-8h0m2 54h0m0-66h0m1 27h0m3 47h0m0-134h0m2 88h0m0 10h0m7 82h0m8 10h0m0 58h0m1-12h0m2-18h0m0 88h0m1-38h0m0 59h0m1 6h0m0-36h0m2 26h0m0-74h0m1 34h0m1-6h0m0-30h0m4 126h0m0-124h0m4 7h0m2-10h0m0 9h0m3-60h0m2 53h0m1-1h0m1-32h0m0-86h0m2 159h0m2-32h0m0 21h0m1-27h0m2 19h0m0 2h0m6 32h0m1-93h0m1 105h0m1-35h0m1-3h0m0-39h0m1 21h0m1 4h0m3-40h0m1 50h0m2-39h0m1-44h0m1 65h0m1-16h0m0 27h0m1-7h0m1-43h0m0 14h0m1 61h0m1-39h0m0-84h0m0 63h0m3 84h0m1-72h0m2-25h0m2 50h0m1-99h0m1 106h0m2-11h0m2 56h0m1-35h0m0 48h0m1-92h0m0-29h0m0-46h0m1 73h0m1 129h0m0-75h0m1 15h0m2-33h0m0-33h0m1 2h0m1 12h0m4-6h0m0-10h0m2 51h0m0-52h0m0 10h0m1-2h0m2 24h0m2-54h0m1 13h0m2 82h0m3-12h0m1-73h0m0-29h0m1 5h0m2 123h0m1-23h0m3-23h0m1-66h0m0 41h0m0-32h0m1 10h0m1 82h0m4-135h0m0 95h0m1-17h0m1-23h0m2 43h0m1-71h0m0 65h0m2-83h0m0-10h0m2 144h0m1-17h0m2 10h0m1-64h0m1 77h0m0-88h0m1 16h0m1-2h0m3-24h0m1 19h0m0-47h0m0-63h0m2 80h0m1 56h0m1-38h0m1-91h0m1 95h0m1 63h0m1-121h0m0 96h0m4-38h0m2 34h0m2 64h0m1-198h0m2 219h0m0-182h0m0 57h0m1 62h0m0 11h0m3-174h0m2-2h0m0 257h0m0-174h0m1 131h0m0-80h0m3-59h0m2 77h0m2 77h0m1-9h0m0-103h0m2-101h0m2 124h0m2-63h0m1 73h0m1 43h0m1-75h0m3-59h0m0 176h0m2-8h0m0 8h0m1-306h0m0 128h0m0 32h0m0 37h0m1 109h0m0-99h0m1-18h0m4 101h0m1-71h0m0 51h0m3-240h0m5 56h0m1-52h0m0 2h0m1 12h0m2-1h0m2 31h0m1-74h0m2 59h0m0-75h0m0 128h0m0-93h0m1-93h0m0 124h0m5-167h0m1 103h0m3-30h0m5 75h0m1 106h0m0-97h0m1 32h0m3-13h0m3 8h0m1-23h0m2 30h0m4-4h0m0 61h0m1-76h0m0-28h0m4 115h0m0 0h0m2-87h0m1-13h0m0 135h0m1-200h0m0 91h0m3-3h0m1-15h0m3-69h0m1 211h0m1-167h0m2-28h0m2 73h0m1-55h0m0 69h0m0-60h0m1 52h0m1-28h0m1-7h0m1 10h0m2 56h0m2-53h0m2 8h0m0-153h0m0 224h0m1-164h0m1 61h0m0-49h0m0 80h0m1-44h0m1-75h0m1 284h0m2-23h0m0-234h0m1-25h0m0 226h0m1-97h0m0 146h0m5-41h0m1-44h0m0-10h0m3 65h0m3-28h0m0 14h0m1-16h0m0-3h0m2-3h0m0 22h0m0 27h0m1-72h0m1-5h0m3 43h0m0-107h0m2 99h0m1-94h0m3 166h0m0-75h0m1 19h0m0 12h0m0 27h0m2-61h0m0-66h0m1 39h0m0 90h0m1-42h0m2 78h0m1-71h0m2 54h0m0-51h0m1-50h0m1 80h0m1 47h0m1-25h0m1-6h0m1-44h0m1 15h0m1-48h0m1-11h0m2 96h0m1-41h0m1-79h0m1-1h0m3 78h0m2 43h0m1-40h0m0 51h0m0-125h0m0 45h0m1 49h0m0 89h0m1-178h0m1 45h0m1 82h0m1-74h0m0-72h0m0 84h0m2-93h0m1 93h0m1 15h0m1 30h0m2 29h0m1-85h0m2-94h0m0 197h0m2-5h0m0-23h0m0-56h0m5 23h0m2-15h0m1-49h0m0-20h0m1 88h0m0-59h0m1-16h0m0 143h0m0-124h0m1-12h0m0 16h0m0 34h0m2-45h0m0 46h0m1-101h0m6 80h0m1 75h0m1 13h0m0-63h0m2 0h0m1-102h0m1 92h0m3-11h0m1-27h0m2 126h0m0-62h0m1 5h0m0-85h0m2 65h0m2-25h0m0-18h0m0 86h0m1-44h0m0-11h0m2 9h0m0-25h0m2-8h0m1 2h0m2 44h0m0-76h0m0 101h0m1-68h0m0 86h0m3-135h0m3 26h0m0-197h0m0 292h0m1-122h0m6 98h0m2-102h0m1 73h0m1-52h0m2 6h0m1 30h0m2-6h0m0 4h0m0 44h0m2-31h0m1-28h0m0-58h0m1 149h0m0-103h0m4 75h0m0-6h0m2-62h0m2-201h0m1 250h0m0-20h0m1-79h0m1 60h0m0-13h0m0-77h0m2 60h0m1 41h0m0 22h0m2-90h0m1 55h0m0 35h0m0-47h0m1-40h0m3 66h0m1 69h0m1-82h0m1 96h0m0-92h0m3 51h0m1-57h0m0 113h0m4-208h0m2-40h0m0 0h0m1-101h0m1-5h0m1 30h0m3 1h0m1 76h0m1-81h0m0 62h0m1-143h0m1-156h0m4 158h0m1-28h0m4 55h0m0 107h0m0-125h0m0-55h0m2 143h0m0-134h0m1 57h0m1 33h0m1-120h0m1 78h0m0-94h0m1 78h0m0-44h0m1-3h0m3 26h0m1 231h0m1-154h0m1 10h0m0-37h0m1 4h0m0 149h0m3-150h0m0 107h0m1-95h0m3 13h0m0-81h0m2 167h0m1-24h0m1-227h0m0 78h0m1 4h0m0-34h0m1 52h0m1 131h0m3-168h0m0 170h0m2-11h0m1-2h0m0-114h0m2 60h0m2 21h0m4-54h0m1 2h0m0 66h0m1 56h0m0-134h0m0-98h0m0 152h0m1-30h0m1 31h0m1-56h0m1-59h0m1 60h0m0 152h0m4-244h0m1 150h0m1-83h0m4 94h0m0-20h0m2 160h0m1-80h0m2-20h0m0-42h0m1 14h0m0-195h0m1 178h0m0 92h0m1-142h0m0 61h0m2-78h0m2-18h0m3-5h0m0 18h0m0 103h0m0-44h0m2-25h0m0-27h0m1 73h0m0 33h0m1-63h0m0 67h0m0 28h0m1-86h0m0 65h0m0-128h0m4 116h0m1-153h0m2-11h0m1 208h0m1-175h0m0 29h0m1 128h0m3-169h0m1 115h0m0 60h0m4-17h0m3 22h0m0 37h0m0-169h0m1-34h0m0 119h0m0 76h0m0-149h0m2 122h0m1-197h0m1 152h0m0-24h0m1 92h0m3-202h0m1-57h0m0 189h0m1-2h0m3-55h0m1-22h0m1 32h0m0-9h0m0-7h0m1 85h0m1-123h0m0 95h0m1 30h0m1-14h0m0-186h0m1 162h0m1-12h0m1-97h0m3 155h0m0-21h0m3-149h0m0-16h0m2-31h0m0 238h0m4-65h0m1 34h0m4-75h0m3-91h0m1 141h0m0-91h0m1 19h0m1 29h0m7 46h0m3-107h0m3-58h0m0 111h0m1-149h0m4 102h0m0-12h0m1 187h0m2-61h0m1-163h0m0-17h0m1 151h0m1-64h0m0 98h0m2-28h0m1 66h0m1-56h0m1-267h0m1 182h0m0 136h0m1-127h0m1 18h0m0-47h0m2 73h0m2-87h0m1 132h0m0-104h0m1 122h0m1-146h0m1 115h0m0 37h0m1-51h0m1-47h0m3-15h0m4 76h0m0-80h0m1 80h0m1-20h0m2-249h0m2 244h0m0-63h0m1 0h0m0 8h0m3-26h0m0-26h0m1 101h0m3 61h0m0-36h0m0 70h0m1-79h0m1 16h0m0-76h0m2 30h0m1 146h0m1-129h0m0 56h0m4 31h0m1 16h0m1-76h0m2 42h0m0-3h0m1 131h0m0-102h0m1-61h0m0 48h0m2 57h0m1-43h0m1-51h0m0-5h0m5 117h0m1-140h0m0 104h0m1 2h0m0-18h0m0 31h0m1-119h0m1 113h0m1-98h0m1 44h0m0 79h0m1-191h0m2 200h0m0-198h0m3 209h0m0-56h0m0-95h0m2 12h0m1 47h0m0 1h0m2 159h0m0-295h0m0 117h0m1 113h0m4-50h0m1 95h0m1-186h0m1 84h0m1-42h0m0-93h0m0 141h0m4-109h0m1-14h0m0 174h0m1-8h0m0-69h0m3 49h0m1-42h0m2-35h0m0 4h0m5 24h0m1-65h0m0 116h0m4-27h0m0-3h0m4-80h0m1 77h0m1-84h0m1 80h0m1 61h0m0-138h0m7 3h0m1 35h0m3 68h0m0-54h0m1-46h0m1 104h0m2-73h0m6 68h0m1-107h0m2 135h0m1-44h0m1-43h0m5 62h0m2-121h0m1 22h0m11 29h0m3-3h0m0-52h0m2 27h0m1-21h0m1 21h0m0-69h0m1 73h0m1-72h0m3 205h0m0-289h0m1 276h0m2-18h0m0-60h0m1-163h0m2 58h0m2 135h0m1-158h0m1 70h0m2 36h0m0 72h0m1-96h0m4-24h0m1 29h0m0-59h0m0-6h0m2 67h0m0-11h0m0-134h0m0 158h0m0 92h0m3-20h0m2-67h0m0 18h0m0-51h0m2-67h0m1 110h0m1-55h0m1 63h0m1 1h0m2 127h0m0-113h0m1-93h0m2 5h0m0-31h0m2 106h0m0 36h0m3-177h0m2 112h0m1-81h0m2 133h0m3-105h0m1 25h0m3 61h0m0 26h0m0 34h0m0-9h0m1-133h0m0 5h0m1-44h0m0 111h0m3-50h0m1-8h0m0 151h0m0-54h0m2 6h0m0-109h0m0-15h0m1 57h0m0 12h0m4-105h0m3 182h0m1-182h0m1 40h0m2 101h0m2-53h0m4-6h0m0 72h0m0-44h0m1 35h0m1 44h0m0 85h0m0-251h0m1 64h0m1 17h0m0-51h0m3 142h0m1-54h0m2-111h0m3 62h0m0 57h0m3 42h0m1-143h0m0 57h0m4-103h0m0 130h0m1-96h0m0-59h0m1 188h0m1-113h0m0 89h0m0-75h0m2 4h0m2-65h0m1 112h0m0 39h0m4 81h0m1-100h0m1-35h0m0-27h0m1-5h0m0 57h0m1-54h0m3-3h0m0 109h0m0-104h0m3-14h0m1-20h0m4 0h0m1 172h0m1-93h0m1-71h0m1 90h0m4-91h0m2 6h0m4 99h0m1-179h0m0 49h0m2 54h0m1-56h0m1 147h0m1-3h0m4-50h0m1-4h0m0 36h0m1-44h0m0 132h0m0-154h0m1 156h0m2-166h0m0-3h0m1 151h0m0-119h0m1-33h0m3 111h0m0-119h0m1-5h0m2-14h0m1 47h0m1-13h0m31 334h0m2-64h0m1-31h0m0 116h0m4-145h0m0-12h0m2 15h0m0-23h0m0 193h0m1-88h0m0-125h0m0 30h0m1-20h0m3 40h0m8 126h0m2-20h0m0 67h0m0-187h0m1 46h0m1-77h0m1-4h0m3 75h0m0-75h0m1 79h0m3 105h0m1 72h0m0-35h0m2-148h0m1 157h0m2-127h0m1-32h0m0 73h0m1-120h0m1 11h0m0 73h0m3 23h0m2-69h0m2-29h0m3 52h0m1-56h0m3 107h0m0-103h0m1-8h0m0-153h0m1 254h0m0-14h0m1-295h0m0 385h0m0-356h0m1 250h0m2-181h0m0 90h0m0 14h0m0 208h0m0-370h0m1 17h0m0 97h0m1 7h0m0-118h0m0 0h0m1 96h0m3-80h0m1-66h0m3-28h0m1 121h0m0 54h0m0-50h0m0 59h0m1-59h0m1 75h0m1-104h0m0 137h0m0-102h0m2 74h0m0-131h0m3 47h0m0-6h0m1-34h0m2-70h0m5 20h0m2 105h0m2-95h0m1 21h0m0 71h0m2-22h0m3-142h0m1 209h0m1-138h0m2 75h0m1 114h0m2-127h0m1-16h0m0 20h0m0 34h0m0-31h0m1-139h0m0 89h0m3-70h0m2 120h0m1 46h0m2-31h0m3 20h0m2 61h0m2-99h0m2 70h0m1-68h0m0 25h0m1 4h0m1 35h0m1-41h0m0 94h0m0-60h0m0-205h0m2 227h0m0-69h0m2 27h0m4-38h0m0-37h0m0 45h0m3-4h0m0 119h0m1-103h0m3 71h0m0-214h0m2 104h0m0 6h0m1 52h0m6 8h0m1-114h0m1 104h0m1-8h0m1-37h0m3-13h0m0 40h0m0 49h0m0-98h0m1 16h0m1 9h0m2 129h0m2-247h0m0 102h0m0 48h0m1-7h0m0 104h0m3-66h0m1-4h0m0-4h0m2-36h0m1 17h0m1-9h0m0-44h0m3 52h0m1-40h0m2 71h0m2 85h0m0-35h0m3 135h0m0-122h0m4 198h0m0-86h0m1-33h0m1 10h0m1 16h0m0-19h0m0 56h0m1-80h0m1-142h0m1 126h0m1 78h0m2-158h0m1-28h0m2 98h0m1 58h0m3-1h0m1-45h0m0 51h0m2-52h0m4 25h0m3 56h0m1-11h0m0 83h0m1-178h0m1 102h0m1 15h0m1-134h0m1-27h0m1-60h0m1 146h0m0 57h0m2-141h0m1 99h0m1 57h0m0-91h0m1-54h0m3 16h0m1-27h0m1 99h0m1 90h0m1 21h0m0-51h0m0-37h0m1-84h0m0 165h0m1-131h0m1 145h0m1-177h0m1 163h0m3 2h0m0-144h0m1 2h0m3 30h0m2 16h0m0-52h0m0-4h0m2-45h0m4 22h0m0-42h0m3 115h0m1-18h0m0-69h0m2 119h0m0-23h0m3-23h0m0 33h0m1-109h0m3 44h0m0 11h0m1 15h0m0-42h0m1 26h0m0 17h0m2 115h0m0-47h0m1 58h0m1-209h0m0 18h0m1 134h0m1 129h0m0-254h0m0 47h0m1 4h0m0-48h0m1 80h0m2-128h0m3 116h0m1-21h0m0-25h0m0 83h0m1-76h0m3 108h0m0-76h0m0-2h0m2 13h0m2-82h0m1 91h0m1 96h0m3-59h0m0-37h0m3-11h0m1 6h0m0 112h0m0-126h0m0-61h0m1 40h0m1 44h0m0-16h0m2 107h0m0-34h0m0-45h0m1-6h0m0-59h0m1 85h0m0-107h0m2-16h0m1 80h0m1 19h0m0 4h0m1-126h0m0 112h0m0 68h0m0-144h0m1 30h0m3 25h0m1-76h0m0 252h0m0-140h0m2-279h0m2 80h0m1-75h0m0 166h0m3-113h0m2-7h0m0 46h0m2-82h0m0-48h0m2 59h0m1-54h0m0 34h0m0 60h0m2-55h0m0 0h0m1-6h0m1 38h0m2-94h0m1 160h0m0-109h0m0-107h0m1 67h0m2 55h0m0 54h0m2-89h0m0 39h0m2-37h0m1 49h0m0 29h0m1-90h0m1 3h0m0 119h0m1-72h0m0-85h0m0 143h0m0 3h0m0-195h0m0 113h0m1 41h0m2-34h0m1 31h0m3-5h0m2 49h0m0-84h0m4 50h0m1 21h0m3-88h0m1 121h0m0-105h0m1-13h0m1 92h0m1-47h0m0 6h0m1-29h0m2 57h0m1-29h0m2-80h0m0 7h0m0 90h0m0-13h0m1-9h0m0 42h0m0 17h0m0-113h0m3 18h0m0 86h0m1 46h0m0 7h0m4 15h0m1-76h0m1 20h0m0-142h0m2 117h0m0-27h0m1-65h0m1 141h0m0-45h0m1 10h0m1 49h0m0-62h0m2-93h0m1 96h0m1-41h0m3-101h0m0 60h0m0-43h0m2 100h0m2 47h0m0-13h0m1 11h0m0-113h0m1 69h0m2-27h0m0-10h0m0 46h0m3-41h0m1 114h0m6-69h0m2 25h0m0-37h0m2-78h0m1 94h0m2-99h0m1 11h0m0 46h0m1-72h0m0 3h0m1 24h0m0 26h0m0-22h0m2 92h0m0-109h0m1 23h0m1 48h0m1 70h0m1 0h0m3-110h0m0 0h0m1-5h0m0 44h0m1-78h0m1 39h0m0-12h0m0 44h0m2 61h0m1-53h0m0-25h0m0 109h0m3-89h0m0-79h0m2 45h0m0 0h0m1-51h0m1 15h0m0 78h0m3-2h0m4-40h0m2 66h0m1-58h0m1 4h0m1 58h0m6-171h0m1 171h0m0 7h0m0-1h0m5-100h0m0 89h0m1-9h0m0-71h0m2-39h0m1 59h0m1 64h0m1-5h0m1-31h0m1-48h0m2 15h0m2 50h0m0-7h0m3-25h0m1 2h0m2-7h0m1 5h0m1 70h0m2 10h0m1-14h0m3-126h0m0 29h0m2 20h0m2 42h0m1-87h0m0 20h0m2-30h0m1 12h0m1 37h0m2-45h0m1 37h0m0-45h0m1 79h0m0-25h0m2-1h0m0 42h0m2-26h0m0-61h0m1 2h0m1 53h0m0-29h0m2 2h0m2 184h0m3-30h0m1-19h0m0 20h0m0-7h0m2 59h0m2-55h0m2 12h0m0-1h0m0 26h0m1 47h0m1-116h0m0 70h0m2 17h0m0 56h0m0-247h0m1 146h0m0 1h0m0-61h0m0 35h0m3-1h0m1 49h0m0-18h0m0 23h0m1-19h0m0 21h0m0-43h0m0-44h0m1 87h0m3-36h0m6 26h0m3 5h0m3 37h0m2-100h0m0 64h0m1-33h0m1-15h0m0-12h0m1-45h0m1 154h0m1-103h0m0 86h0m3-6h0m1-137h0m2 184h0m1-21h0m1-112h0m4 26h0m1 11h0m1 16h0m3-2h0m3-163h0m3 66h0m1 111h0m1 7h0m1-9h0m0 16h0m1-56h0m0 34h0m1 9h0m1 31h0m4-70h0m0 108h0m2-144h0m1 60h0m1-142h0m1 24h0m0 48h0m2 7h0m0 23h0m0-44h0m0 6h0m0-81h0m0 90h0m1 46h0m0-42h0m0-47h0m4 77h0m1-31h0m1 87h0m0 7h0m0 23h0m1 4h0m2-83h0m4 25h0m1-70h0m1-8h0m1 129h0m1-2h0m1-79h0m0-32h0m3-27h0m2-7h0m1 73h0m2-3h0m0-134h0m2 245h0m0-75h0m2-6h0m3 18h0m1 24h0m0 5h0m1-35h0m0 31h0m0-133h0m3 57h0m1-68h0m1 179h0m1-104h0m2 9h0m0-85h0m1 110h0m1 28h0m0-17h0m5-80h0m1 108h0m0-50h0m1-57h0m0 40h0m1 58h0m1 10h0m3-174h0m1 143h0m1-94h0m3-11h0m1 106h0m1-10h0m0-102h0m2-79h0m1 299h0m0-79h0m1-44h0m1 95h0m1-130h0m0 51h0m1-66h0m1 120h0m2-122h0m0 154h0m1-229h0m0 187h0m0-28h0m1-63h0m0 14h0m0 37h0m0-34h0m1 122h0m1-102h0m1-58h0m1 11h0m0 42h0m0-73h0m1 26h0m0 40h0m0-89h0m1 26h0m1 44h0m3-3h0m1-25h0m7 126h0m0-135h0m0 14h0m0 102h0m1 20h0m0-114h0m2 27h0m0 6h0m0-16h0m0-37h0m2 14h0m3 31h0m3-133h0m0 22h0m0 30h0m2 182h0m3 11h0m4-240h0m3 282h0m1-47h0m0-150h0m30-160h0m1 35h0m3 43h0m0 78h0m1-79h0m6 27h0m0-140h0m1 10h0m1 73h0m3-41h0m5 47h0m0 75h0m1-5h0m2 3h0m1-16h0m0-14h0m1 85h0m0-127h0m1 146h0m0-120h0m2-29h0m1-22h0m0 67h0m2-160h0m0 176h0m4-20h0m1-43h0m2 50h0m0-41h0m1 0h0m6 77h0m1 44h0m2-93h0m1 64h0m0-43h0m3 39h0m0-75h0m2-56h0m0 25h0m1 0h0m6 477h0m2-92h0m11-21h0m1 64h0m5-50h0m0 69h0m7-14h0m3-86h0m0 89h0m1 76h0m1-160h0m0 98h0m1-14h0m1-61h0m7 11h0m2 67h0m1 35h0m3-57h0m3 101h0m2-54h0m1-57h0m0-368h0m1-25h0m1 12h0m4-115h0m2 71h0m3-58h0m4 44h0m4 115h0m0 5h0m1-66h0m1 9h0m0-67h0m2 153h0m0-184h0m0 178h0m1-96h0m1-74h0m2 123h0m1-50h0m1-51h0m2 142h0m32-109h0m1-158h0m1-114h0m3 91h0m0-200h0m1 92h0m0 113h0m5 150h0m5-49h0m1-178h0m0 97h0m6 67h0m1-90h0m1-13h0m0-4h0m0 26h0m0-20h0m2 41h0m1-11h0m0 52h0m5 30h0m2-202h0m6 72h0m0 16h0m2-27h0m1 76h0m2 74h0m1-17h0m0-118h0m0 85h0m1-15h0m3 66h0m0-34h0m1-10h0m1-131h0m1 101h0m2 72h0m3 46h0m0-65h0m4 56h0m1-126h0m1 59h0m0 12h0m1-45h0m0-107h0m1 109h0m1 28h0m1-46h0m1-54h0m1 25h0m1-13h0m1 20h0m0 18h0m2 12h0m1 85h0m0-201h0m0 149h0m1 13h0m0-54h0m0 17h0m1 30h0m0-7h0m1-33h0m2 29h0m0-107h0m1 37h0m2-14h0m0 47h0m2 186h0m0-152h0m1-34h0m0 129h0m1-184h0m0 106h0m2-114h0m0 133h0m3 13h0m1-99h0m0 49h0m1 19h0m4-178h0m1 204h0m1-216h0m0 156h0m1-117h0m2 132h0m2-63h0m0-4h0m0-68h0m0 69h0m1 10h0m0 106h0m1-240h0m2 304h0m0-128h0m2-148h0m0 122h0m2-36h0m1 14h0m2 124h0m1-202h0m2 105h0m1-132h0m1 263h0m3-51h0m1-142h0m0 39h0m1-34h0m0 134h0m0-29h0m2-32h0m1-74h0m2 62h0m0 85h0m0-66h0m1-58h0m0-166h0m0 124h0m2 175h0m30 436h0m0-195h0m1 22h0m1-32h0m0 126h0m2 110h0m0-181h0m1 18h0m0-53h0m4 79h0m0-100h0m1 27h0m1 122h0m0-121h0m1 57h0m4-45h0m2 38h0m0-17h0m0-35h0m1 0h0m4 102h0m0-111h0m2 51h0m3 34h0m1-131h0m1 119h0m0-13h0m1 76h0m0-132h0m1-40h0m0 50h0m1 185h0m3-130h0m2-66h0m2 51h0m3 31h0m0 36h0m5-107h0m1 138h0m1-72h0m1-11h0m0 58h0m0-38h0m0-22h0m1-34h0m1-18h0m1 145h0m2-198h0m0 297h0m1-259h0m0 50h0m3 53h0m2 49h0m1-93h0m1 9h0m1 34h0m1-150h0m1-38h0m1 54h0m3 7h0m3-22h0m1-13h0m0-62h0m2 88h0m0-2h0m0 9h0m2 39h0m0-21h0m0 1h0m2-7h0m7-20h0m1-97h0m1 33h0m6 40h0m2 126h0m0-54h0m0-96h0m2-259h0m2-43h0m0 204h0m2-113h0m3-22h0m1 42h0m0 121h0m2-137h0m0 57h0m1-25h0m1-52h0m1 119h0m0-45h0m6 63h0m0-98h0m0 22h0m5 36h0m1-123h0m4 329h0m1-19h0m1 17h0m1-129h0m1 76h0m0 52h0m1-41h0m1 66h0m1-96h0m1 43h0m3-21h0m1 13h0m0 5h0m2-64h0m0 51h0m1-37h0m4 76h0m1 3h0m0 20h0m2-98h0m0 26h0m2 117h0m0-134h0m0 87h0m0 17h0m0-239h0m1 47h0m1 164h0m1 47h0m3-73h0m0 74h0m1-216h0m1 202h0m0-66h0m1-16h0m0 39h0m2 59h0m1-10h0m0-232h0m1-8h0m1 179h0m0-52h0m0 47h0m4 9h0m0-9h0m1-18h0m0-18h0m1-23h0m0 30h0m1 21h0m2 14h0m3 42h0m0-73h0m0 40h0m1-10h0m0-113h0m11-169h0m2 158h0m1 64h0m0-186h0m0 46h0m1 29h0m1 17h0m1-13h0m3-31h0m0-77h0m3 68h0m1 3h0m1 37h0m0 26h0m1-67h0m1 39h0m2 68h0m0-72h0m1 7h0m3-64h0m0 83h0m3-10h0m1 100h0m0-98h0m0-13h0m1-171h0m0 181h0m5 40h0m1-48h0m2 56h0m3-90h0m1-35h0m1-1h0m1-89h0m0 134h0m3 49h0m1-141h0m1 181h0m1-24h0m1-31h0m0-34h0m0 0h0m4-35h0m1 68h0m0-50h0m2-21h0m1-6h0m1 36h0m2-88h0m1 141h0m5-32h0m0-7h0m2-64h0m0-15h0m0-61h0m1 1h0m0 173h0m5-37h0m3 334h0m0-98h0m1 145h0m0-57h0m3-87h0m5 77h0m1-2h0m0-32h0m6 29h0m1-22h0m1-59h0m2-26h0m1 75h0m2-93h0m1 81h0m3-22h0m3-118h0m2-14h0m0 25h0m1 1h0m0 48h0m2-101h0m1-35h0m2 101h0m0-33h0m1 39h0m0-1h0m1-21h0m4-21h0m1-34h0m2-17h0m0 63h0m3-42h0m2 89h0m0-122h0m0 30h0m0 33h0m1-105h0m0 148h0m3-52h0m2-4h0m2-17h0m2 21h0m0 8h0m1-25h0m2-107h0m1 11h0m0 67h0m1 30h0m1 7h0m0-57h0m1 92h0m0-95h0m4 80h0m3-71h0m1 43h0m1-9h0m1-56h0m0-28h0m1-56h0m3 116h0m1-82h0m6 101h0m0-10h0m2 65h0m0-18h0m3-41h0m0 61h0m1-53h0m1-12h0m2 57h0m1-85h0m0-62h0m1 67h0m6-15h0m1 15h0m3 25h0m1-19h0m2 86h0m1-75h0m1-18h0m2 76h0m1-35h0m0 1h0m0 10h0m0-65h0m1 47h0m1 38h0m2-33h0m1 78h0m0-65h0m2 2h0m1 167h0m0-78h0m1-141h0m1 125h0m0-11h0m1 75h0m1-42h0m0-129h0m0 75h0m0 136h0m2-261h0m3 140h0m3 29h0m2 12h0m0-50h0m4-56h0m0 69h0m0-39h0m0-3h0m5-63h0m2 78h0m0 70h0m0-153h0m6 40h0m0 74h0m3-28h0m0 74h0m0-37h0m1 46h0m0 46h0m1-76h0m0 58h0m1-77h0m0 53h0m1-29h0m0 9h0m10-57h0m1 26h0m0-104h0m0 75h0m1-64h0m0 8h0m0 21h0m3 96h0m5-48h0m3 31h0m0-61h0m1-32h0m2 100h0m3 44h0m1-203h0m1 74h0m0 44h0m1 25h0m0-8h0m0-74h0m1 12h0m0 94h0m1-98h0m0 88h0m1 56h0m1-25h0m1-86h0m0 21h0m3 31h0m1 27h0m5-75h0m0 64h0m1-173h0m0 136h0m3-64h0m0 9h0m0 113h0m2-119h0m1-62h0m0 109h0m2-3h0m0 99h0m1-70h0m3-90h0m0 109h0m0-34h0m6-41h0m1-17h0m1-8h0m0 84h0m2 49h0m1-108h0m2 25h0m0-86h0m1 101h0m1-26h0m0-123h0m1 127h0m5 70h0m1-59h0m4 6h0m2 66h0m0-81h0m0-16h0m1 106h0m1-151h0m0 190h0m0-71h0m4-53h0m0 120h0m2-18h0m1-140h0m4 85h0m2 30h0m0 12h0m1-43h0m5-100h0m0 170h0m1-67h0m0-14h0m4 0h0m2 89h0m4-65h0m0 29h0m1 86h0m0-87h0m0 34h0m1 2h0m2-32h0m1 27h0m1 11h0m1-49h0m1 29h0m0-33h0m1 28h0m0-98h0m3 92h0m2-60h0m0 43h0m2 10h0m2 32h0m5-76h0m0 16h0m0 21h0m0 36h0m1 4h0m0-50h0m1 64h0m5-68h0m1-15h0m3 92h0m4-2h0m0-11h0m3-16h0m0-60h0m1 72h0m0-13h0m0-115h0m3 121h0m2 14h0m3-457h0m1 198h0m0-137h0m1 9h0m1 17h0m0-96h0m1 59h0m1 107h0m0 75h0m3-168h0m0-11h0m1 53h0m1-64h0m0-11h0m0 21h0m1 99h0m0-153h0m1 93h0m0-77h0m5 150h0m0-151h0m4 109h0m0 19h0m2-153h0m5 115h0m0-37h0m0-35h0m1-20h0m0 42h0m1 61h0m0 2h0m1-202h0m0 137h0m1 44h0m2 34h0m0 57h0m0-57h0m0-140h0m2 58h0m1 112h0m0-152h0m0 10h0m0 118h0m1-202h0m2 162h0m0 27h0m0-25h0m1 31h0m1-12h0m0-12h0m1 39h0m0 9h0m0-109h0m0 124h0m0-105h0m2 19h0m1 46h0m2 75h0m1-121h0m1-157h0m0 141h0m2-11h0m0-41h0m1-24h0m1 58h0m1 144h0m1-244h0m0 82h0m2 30h0m0-134h0m0 145h0m3 7h0m0-42h0m2 25h0m0-55h0m0 118h0m3 51h0m0-151h0m3 142h0m1 28h0m2-56h0m0-130h0m1 41h0m1 115h0m0-38h0m1 46h0m0-141h0m2-13h0m0 66h0m0-9h0m0-11h0m2 11h0m0 112h0m0-38h0m1-80h0m0-94h0m1 228h0m0-40h0m2 26h0m0-39h0m1 55h0m0-33h0m1 33h0m0-44h0m0-111h0m1 24h0m0 13h0m1 25h0m1-89h0m0 100h0m1-204h0m1 175h0m2 74h0m0 17h0m19 141h0m0-15h0m3 158h0m1-105h0m0-32h0m3-25h0m1 71h0m1-84h0m1-55h0m0 59h0m6 56h0m1 75h0m2-18h0m2 4h0m0-62h0m1 17h0m0 43h0m0-65h0m1 70h0m0-78h0m0-16h0m0 95h0m1-48h0m0-45h0m1 23h0m0 16h0m1-11h0m0 109h0m0-137h0m7-12h0m1 71h0m3 1h0m5-31h0m1 101h0m2-273h0m0 142h0m2-31h0m0-4h0m0-12h0m0 130h0m0-38h0m1-39h0m2-5h0m4-2h0m0 33h0m0 9h0m19-30h0m2 68h0m3 15h0m0-46h0m1 49h0m3-31h0m3 112h0m1-136h0m2 5h0m0-2h0m2-49h0m0 110h0m2 37h0m1-76h0m1-121h0m2 194h0m0 6h0m1-106h0m0 39h0m0 65h0m0-68h0m3-15h0m3-36h0m1 141h0m1-120h0m1-28h0m1 161h0m1-133h0m14 14h0m2-28h0m1-96h0m0 213h0m0-118h0m2 96h0m2-184h0m1 56h0m1 14h0m0 51h0m12-200h0m2 26h0m0 97h0m2-151h0m2 14h0m1 28h0m1 70h0m1-64h0m0 30h0m2 47h0m2-13h0m0 57h0m3-118h0m2 93h0m0-148h0m3 50h0m1 20h0m2 16h0m0-63h0m0 32h0m2 49h0m2-5h0m1 48h0m1-78h0m0 39h0m3 9h0m4 4h0m1-36h0m0 45h0m2-54h0m1 6h0m0-60h0m1 36h0m2 61h0m4 20h0m0-66h0m4 58h0m0-60h0m1-95h0m3 148h0m0-18h0m2-6h0m3-51h0m2 13h0m1 47h0m1 63h0m2-26h0m1-140h0m1 77h0m1-68h0m1 168h0m1-155h0m5 24h0m1 96h0m0-44h0m1-36h0m1 9h0m0 61h0m5-300h0m4-183h0m0 149h0m4 18h0m1-7h0m0 41h0m2-59h0m1-23h0m5 142h0m3-42h0m2-167h0m7 99h0m0-18h0m1-86h0m4 100h0m1 32h0m4-140h0m0 90h0m5 6h0m3 327h0m1 29h0m0-26h0m1 38h0m4-26h0m3 35h0m0 33h0m10-84h0m1 66h0m4-105h0m0 113h0m1 26h0m2-44h0m0-19h0m2 4h0m1 13h0m4-49h0m2 74h0m0-44h0m2 68h0m1-68h0m1 106h0m1 16h0m1-163h0m1 115h0m2-187h0m0 141h0m1 60h0m0-36h0m0 6h0m0-49h0m1-174h0m2 115h0m1 137h0m5-48h0m1-46h0m0-12h0m0 4h0m4 76h0m1 23h0m3-1h0m0-79h0m0 5h0m1-4h0m1-23h0m3 111h0m3-189h0m5 113h0m1-74h0m3 24h0m1 10h0m0 116h0m1-35h0m2-7h0m2 84h0m2-130h0m2-30h0m1 71h0m2 65h0m2-70h0m0-144h0"/><path stroke-width="8" d="M0 0m247 1095h0m0-9h0m0 143h0m4 87h0m0-59h0m0-149h0m1 17h0m1 137h0m0 34h0m0-298h0m1 91h0m0 176h0m0 0h0m1-38h0m0 15h0m2-132h0m0 142h0m1-70h0m3 58h0m0 47h0m1 19h0m1-51h0m0 11h0m0 72h0m1-67h0m1 86h0m0-34h0m3-89h0m1-43h0m3 37h0m1-28h0m0 68h0m1 53h0m1-69h0m2 61h0m0-14h0m0 51h0m1-58h0m1-26h0m0 59h0m1-183h0m1 35h0m3 131h0m1-67h0m0-45h0m0 104h0m1-92h0m2 237h0m0 152h0m2-364h0m2-87h0m0 16h0m1 145h0m0-161h0m0 30h0m1-40h0m0 40h0m1 99h0m0-104h0m3 1h0m3-24h0m1 114h0m0-111h0m2 120h0m0 13h0m1-86h0m0-157h0m1 85h0m1 145h0m2-172h0m0 61h0m0-16h0m2 44h0m0-88h0m1-17h0m0 125h0m2-54h0m1-7h0m0 53h0m1-77h0m0 20h0m1 90h0m2-102h0m7 101h0m0-49h0m2-101h0m0 161h0m2-81h0m0-79h0m1 147h0m0-95h0m0-52h0m1 177h0m2 17h0m1 11h0m2-219h0m1 388h0m0 27h0m0 17h0m0 20h0m0 73h0m0 11h0m1-335h0m0 377h0m0-361h0m1 206h0m2-231h0m1-243h0m0 85h0m1-37h0m2 212h0m0-163h0m0 149h0m0 2h0m2-164h0m0 176h0m1 23h0m2-171h0m2-52h0m1 78h0m1-63h0m1 88h0m2-40h0m1 101h0m1-50h0m0-21h0m2 55h0m1-19h0m1 79h0m0-70h0m0-146h0m0 17h0m0 219h0m1-46h0m0 67h0m0-104h0m1 67h0m0-67h0m1-130h0m0 172h0m1 18h0m0-177h0m0-29h0m3-5h0m0 147h0m0-13h0m1-58h0m2 194h0m2-123h0m1 59h0m0-18h0m1-88h0m0 60h0m0-29h0m0-41h0m2 6h0m1-77h0m0 144h0m1-26h0m0 80h0m1-97h0m1 10h0m4 8h0m1 95h0m0-48h0m0 86h0m2-184h0m1 185h0m2-143h0m1-102h0m1 72h0m0 64h0m1-50h0m0 48h0m1 26h0m1-38h0m1-60h0m1 43h0m0-7h0m1-22h0m1-12h0m2-32h0m1 32h0m5 38h0m1 109h0m0 59h0m1-40h0m1-48h0m1-22h0m1-76h0m0 21h0m1 10h0m1 107h0m0-113h0m1 28h0m0-57h0m2 20h0m1-39h0m0 126h0m0-111h0m1-98h0m1 155h0m0-130h0m2 54h0m2 197h0m1-109h0m1-98h0m1 93h0m0-84h0m1-26h0m1 60h0m1 112h0m1-134h0m29 109h0m1-32h0m3-56h0m0 49h0m1-60h0m0-26h0m6 2h0m0 14h0m3-43h0m1 30h0m0 98h0m2 31h0m2-259h0m0 137h0m0-27h0m1 25h0m0 23h0m0-1h0m1 185h0m2-106h0m2-36h0m0 40h0m2-11h0m2-135h0m0 78h0m5-37h0m2 98h0m3-105h0m1-17h0m1-77h0m1 214h0m4-169h0m2 45h0m2 71h0m2 9h0m1-28h0m4 56h0m4-109h0m0-130h0m1 26h0m0 136h0m0-100h0m1-37h0m1 18h0m0 70h0m3-20h0m2 90h0m2 49h0m1 74h0m2-147h0m0 18h0m3-57h0m2-103h0m1-96h0m4 164h0m0 5h0m1-79h0m4 136h0m0-50h0m1-40h0m1-27h0m2 49h0m0 53h0m1-170h0m1 118h0m0-27h0m1 139h0m2-144h0m0-58h0m1 28h0m1-1h0m0 61h0m1 142h0m1-64h0m2-72h0m1-15h0m0 9h0m1-59h0m4 22h0m1 43h0m2 106h0m2-70h0m4 69h0m2-158h0m0 36h0m2 54h0m0-82h0m2-50h0m0 101h0m1-73h0m5-5h0m3 74h0m2-13h0m0-48h0m1 105h0m0-82h0m0-70h0m1-76h0m0 217h0m1-240h0m1 163h0m0 98h0m2-147h0m1 122h0m1-11h0m3 20h0m1-123h0m0 188h0m1-117h0m1-13h0m0 27h0m3 15h0m0-39h0m0-66h0m2-40h0m1 97h0m1-69h0m1 75h0m2-100h0m0 85h0m0 74h0m8 78h0m7 27h0m0 29h0m1-54h0m3 125h0m2-67h0m0 52h0m2 43h0m1-202h0m3 116h0m1-73h0m0-56h0m1 89h0m0 11h0m1 18h0m2-112h0m0 97h0m1-9h0m0-43h0m0 75h0m1 39h0m1-160h0m0-48h0m1 138h0m1-34h0m2 84h0m1-18h0m0-79h0m2 8h0m0 15h0m1 106h0m4-56h0m0-74h0m1-59h0m0 126h0m0 93h0m1-129h0m1 16h0m1-20h0m0 88h0m1-70h0m2 59h0m1-225h0m0 204h0m1-10h0m1-18h0m2-102h0m2 138h0m0-113h0m5 12h0m0 159h0m2-60h0m1-73h0m0 100h0m1-21h0m1-84h0m2-7h0m1-72h0m0 105h0m1-22h0m1 139h0m0-60h0m1-490h0m1 336h0m1 146h0m0-556h0m0 12h0m0 21h0m1 462h0m1-348h0m1-73h0m0 387h0m1-236h0m0 149h0m1-143h0m0 25h0m1 83h0m1 79h0m0-225h0m2 272h0m1-50h0m0-132h0m1 131h0m0-52h0m2-78h0m0-50h0m0 64h0m0 169h0m0-295h0m2 261h0m1-147h0m0 104h0m1-81h0m0 58h0m2-163h0m0 233h0m1-64h0m3-2h0m0 37h0m0-185h0m0 239h0m1-125h0m0-1h0m1 40h0m2-17h0m1-4h0m1 9h0m1-184h0m4 58h0m3 4h0m0 8h0m0 84h0m0-24h0m1-71h0m0 77h0m1-74h0m0-101h0m1 282h0m5 2h0m0-38h0m7-178h0m2 65h0m0-79h0m1 169h0m1 55h0m1 84h0m2-58h0m1-34h0m0 120h0m2-268h0m0 226h0m1-99h0m3-88h0m0 34h0m1-98h0m0 221h0m0-196h0m1 60h0m0 82h0m1 40h0m1 89h0m1-37h0m0-98h0m0-24h0m0-23h0m1 121h0m0-169h0m1 48h0m0 81h0m0-20h0m1 41h0m0-119h0m1 57h0m0 18h0m0-35h0m3 69h0m0 77h0m0-131h0m1-53h0m2 164h0m0-285h0m0 153h0m3 15h0m0-141h0m1 170h0m1-63h0m0-97h0m2 158h0m0-125h0m1 148h0m0-43h0m0 118h0m2-33h0m2 24h0m0-24h0m0-37h0m1-224h0m1 100h0m0-42h0m1 132h0m1-145h0m0 43h0m2 137h0m2-102h0m1 31h0m0-44h0m2-79h0m1 195h0m2-165h0m2 248h0m0-144h0m1 150h0m0-214h0m1 49h0m1 57h0m0 80h0m1-8h0m0-82h0m1-84h0m0-14h0m1 55h0m1-3h0m0 34h0m1 34h0m0-132h0m1-106h0m1 140h0m2 3h0m1 113h0m1-146h0m0 214h0m0-201h0m0 76h0m1-18h0m0 113h0m0 17h0m0-213h0m1 56h0m2 162h0m1-37h0m1 20h0m2-88h0m1 65h0m1 0h0m0-74h0m2-114h0m0-39h0m0 207h0m1-10h0m1-105h0m1 168h0m1-56h0m1-34h0m1-40h0m2 30h0m2 0h0m3-1h0m2-156h0m1 140h0m1 34h0m0-67h0m1 20h0m0 126h0m0-77h0m1 52h0m0-83h0m1-20h0m0 50h0m2-134h0m4 154h0m1-115h0m1 131h0m3-8h0m1 29h0m1-200h0m0 197h0m2-6h0m1-80h0m0 109h0m0-281h0m1 238h0m0-128h0m1-2h0m2 105h0m1-42h0m0-32h0m1-142h0m1 148h0m1-45h0m0-17h0m2 99h0m0 6h0m2 83h0m0-165h0m0-77h0m1 118h0m1 21h0m0-141h0m2 42h0m2 107h0m0-19h0m2 1h0m0-131h0m2-27h0m2 93h0m2 48h0m1 12h0m0-58h0m1 64h0m2-102h0m1 5h0m1 3h0m0 216h0m3-136h0m0-35h0m0 160h0m0-51h0m2-148h0m0 265h0m0-232h0m1-14h0m4 42h0m1 25h0m0 31h0m0 0h0m1 51h0m0-85h0m2 26h0m0-39h0m1 60h0m0-100h0m1-26h0m3-7h0m0 32h0m2-4h0m4-10h0m1 62h0m0 143h0m0-162h0m1 168h0m0-41h0m0-88h0m0-122h0m0 69h0m2 52h0m0 4h0m1-151h0m1 108h0m0 53h0m1 52h0m1-221h0m1 189h0m2-170h0m2 276h0m3-112h0m0-61h0m2 114h0m0-5h0m0 38h0m2 31h0m1-215h0m0-98h0m0 263h0m0-233h0m0 190h0m0-85h0m1 87h0m0-33h0m0-120h0m2 12h0m0 92h0m0 33h0m1-199h0m1 130h0m0-81h0m0 232h0m2-80h0m1-204h0m0 51h0m2 132h0m1 62h0m0-163h0m1 88h0m0-27h0m0 62h0m0-6h0m1-188h0m2 89h0m0 61h0m0-59h0m2-26h0m0 154h0m1-94h0m0-154h0m3 146h0m2 168h0m1-154h0m1 56h0m0-118h0m0 188h0m1-157h0m2-81h0m1 132h0m0-41h0m1 89h0m0-46h0m2 32h0m2-85h0m2 24h0m0-38h0m1 87h0m1 12h0m0 23h0m1-139h0m0 59h0m1-72h0m1 120h0m1-191h0m0 278h0m0-170h0m1-2h0m0 29h0m1 50h0m2-173h0m3 405h0m1-47h0m0 21h0m2-66h0m1 72h0m0-52h0m1 29h0m2-20h0m0-65h0m0 139h0m2-70h0m1 47h0m0-29h0m2 3h0m0-73h0m3 55h0m1 62h0m0-44h0m2 7h0m1-71h0m1 45h0m0 17h0m2 90h0m1-61h0m0-66h0m1 15h0m2 48h0m2-27h0m2-47h0m5 70h0m2-82h0m1 36h0m2-55h0m1 57h0m1-46h0m1 64h0m0 1h0m0-62h0m2 23h0m0-45h0m1 68h0m1 36h0m2-16h0m0 8h0m2 42h0m1-4h0m5 11h0m1-123h0m1 111h0m0-9h0m2 42h0m1-95h0m0-10h0m2 25h0m0 16h0m1 34h0m0-101h0m1 116h0m1-40h0m1-107h0m2 80h0m0-24h0m1-89h0m1 82h0m2 22h0m2-48h0m0-23h0m0 139h0m1-69h0m1 63h0m0-81h0m1 1h0m3 43h0m0-47h0m2 91h0m0 37h0m1 8h0m2-63h0m0 81h0m0-72h0m1-58h0m0 121h0m1-142h0m1 113h0m0 7h0m3 123h0m0-209h0m2 142h0m0 25h0m0 55h0m2 4h0m1 67h0m1-139h0m2 92h0m4-84h0m1 77h0m0-64h0m1-3h0m2-12h0m2 48h0m4 60h0m1-56h0m0-28h0m0 20h0m6-48h0m0 23h0m2 32h0m17-579h0m5 90h0m2-10h0m2-5h0m1 70h0m1-89h0m0 94h0m2-19h0m0-37h0m1-44h0m2 127h0m2-134h0m5 42h0m0 102h0m0-45h0m6-57h0m8 35h0m0-149h0m0 178h0m2 16h0m1-77h0m2-41h0m2 90h0m1-30h0m2-14h0m0 81h0m2-103h0m0-42h0m0 62h0m1 127h0m4-150h0m2-87h0m2 169h0m2 75h0m2-31h0m1-7h0m0-32h0m0-74h0m3 57h0m1-49h0m3 119h0m0-70h0m0-138h0m1 119h0m1-28h0m2 8h0m0 51h0m3-20h0m0-28h0m0-48h0m0 56h0m2 76h0m1-69h0m0-119h0m4 127h0m0-71h0m1 35h0m0 85h0m0-41h0m2-58h0m1-9h0m3 128h0m1-157h0m3 98h0m1 21h0m1 24h0m0-132h0m3 254h0m3-252h0m0 119h0m1-115h0m0 168h0m1-201h0m3-66h0m0 170h0m1-74h0m2-21h0m0 54h0m2-17h0m4 124h0m0-251h0m1 119h0m0 218h0m0-99h0m0-84h0m2 83h0m1-45h0m1 34h0m0-44h0m0-7h0m3 34h0m1 17h0m0-10h0m0-9h0m1-82h0m0-39h0m6 169h0m0-43h0m1-64h0m1-37h0m0 49h0m3 40h0m0-112h0m1-3h0m2 48h0m1 30h0m1-100h0m0 106h0m0 160h0m2-267h0m0 170h0m2-104h0m0-23h0m0 12h0m4 78h0m1-78h0m1 66h0m1-109h0m0 74h0m1-70h0m0 77h0m1-32h0m1 125h0m1 164h0m2-53h0m2-47h0m0 127h0m2-7h0m0-23h0m1 87h0m1-95h0m2-107h0m1 107h0m1-37h0m0 14h0m0 38h0m0-41h0m1 90h0m1-45h0m0-133h0m0 140h0m2-16h0m1-13h0m0 20h0m1-136h0m2 246h0m0-128h0m3-108h0m0 24h0m1 75h0m1-70h0m1-3h0m1 114h0m1 63h0m1-29h0m4-75h0m3 73h0m1-90h0m0-67h0m1-9h0m1 29h0m2 61h0m1 14h0m2 102h0m0-176h0m1-121h0m2 90h0m0-94h0m4 128h0m1 21h0m1 69h0m0-157h0m1 75h0m3-84h0m2 73h0m1-30h0m1 22h0m0-98h0m0 58h0m1 68h0m4 58h0m1-116h0m0 66h0m1 68h0m5-242h0m0 201h0m5-161h0m1 7h0m1 64h0m0 56h0m2 12h0m1-40h0m0 90h0m2-138h0m0-111h0m0-15h0m1 286h0m0-138h0m1 45h0m3 27h0m0 27h0m0 8h0m3-11h0m2-96h0m0 112h0m2-88h0m1-70h0m0 8h0m0 42h0m1 131h0m1-101h0m2-59h0m3 55h0m1 47h0m0-9h0m1-3h0m1 53h0m0-138h0m2 109h0m1-150h0m0 107h0m2-178h0m1-18h0m0 205h0m1 49h0m1-21h0m1-184h0m0-39h0m1 147h0m3 38h0m2 95h0m1-85h0m0-157h0m0 55h0m1 28h0m0 39h0m1-106h0m0-76h0m1 73h0m0 144h0m1-12h0m1-198h0m2 142h0m2 54h0m0 14h0m1 26h0m1 45h0m1-101h0m0 11h0m1 47h0m3-12h0m3-61h0m0 56h0m6-175h0m4 125h0m0 28h0m1 35h0m0-41h0m2-102h0m1 121h0m1-99h0m0 52h0m1 73h0m1 53h0m0-24h0m0-123h0m0 84h0m0-181h0m1 67h0m1 44h0m5 51h0m1-35h0m1-147h0m1 72h0m2 185h0m1-188h0m0 26h0m3 105h0m0-28h0m0-161h0m3 251h0m2-133h0m1 84h0m3-116h0m1-122h0m0 131h0m1 155h0m1-140h0m0-150h0m1 148h0m0-13h0m0-61h0m1 178h0m0 39h0m0-141h0m3 17h0m0-42h0m0 0h0m1 109h0m0-91h0m1 115h0m0-54h0m1-83h0m4 181h0m0-130h0m0-101h0m0 102h0m1-29h0m0-32h0m1-124h0m1 187h0m0 24h0m2-50h0m4 17h0m0-32h0m0-58h0m0 64h0m2-62h0m3 150h0m0-51h0m1 13h0m1 62h0m1-173h0m1 85h0m0 18h0m2-125h0m0-81h0m0 305h0m0 0h0m0-187h0m1 78h0m1 15h0m1-78h0m4 38h0m1 47h0m0-81h0m1-44h0m0 34h0m6 67h0m1-130h0m1 170h0m2 38h0m0-69h0m1-58h0m2-6h0m1 15h0m1 42h0m1-183h0m2 286h0m0-80h0m0-80h0m1-22h0m1 67h0m2-146h0m0 133h0m0-44h0m1 154h0m1-217h0m1 255h0m3-159h0m0 143h0m1-160h0m1 130h0m0-19h0m0 51h0m1-113h0m1 32h0m1-104h0m1 3h0m2 102h0m0-103h0m1 67h0m2-68h0m3 41h0m2 32h0m0-84h0m2 91h0m1-31h0m0 8h0m2-38h0m6 51h0m1-172h0m1 130h0m0 6h0m1 43h0m0-151h0m1 169h0m3 1h0m5-146h0m1 108h0m0-48h0m2-12h0m3-52h0m0-27h0m0 0h0m0 143h0m1-82h0m1-356h0m0 335h0m1 1h0m1-27h0m0-3h0m0 35h0m0 81h0m2-63h0m3-304h0m2 242h0m1 63h0m0-111h0m0-127h0m1 180h0m0 55h0m1 23h0m2-33h0m1-44h0m1-279h0m2 352h0m0 43h0m1-359h0m7 189h0m2-256h0m9 331h0m0-8h0m0 58h0m2-220h0m3 252h0m1-280h0m0 246h0m1 37h0m1-114h0m0 2h0m2 77h0m2-160h0m0-127h0m0 354h0m0-73h0m2-60h0m2 94h0m3-116h0m1 82h0m3-97h0m1 135h0m4 73h0m0 41h0m3-3h0m2 69h0m1-53h0m1-42h0m0 45h0m2 86h0m1-87h0m0 44h0m1-60h0m0-27h0m0-5h0m0-7h0m2-82h0m0 140h0m1-32h0m2-168h0m0 157h0m2 29h0m0 108h0m0-166h0m0 88h0m2-60h0m3-19h0m1-141h0m0 191h0m1 37h0m1 3h0m5-60h0m1-50h0m1 95h0m1-71h0m1 9h0m2 49h0m1 16h0m0-31h0m4 33h0m1 16h0m2 41h0m1-110h0m2 44h0m1-47h0m0 30h0m2 27h0m1-36h0m1-135h0m0 237h0m0-143h0m2 135h0m2-104h0m2-97h0m1 115h0m3-102h0m0 180h0m0-43h0m4-100h0m1-56h0m1 115h0m0-79h0m0-33h0m3 107h0m0 59h0m0-73h0m3 46h0m0-40h0m1-49h0m1 83h0m0-86h0m2 82h0m4-68h0m1-12h0m0 10h0m0 66h0m2 11h0m1 55h0m1-97h0m0 93h0m3-132h0m2 119h0m1-101h0m0-6h0m1 59h0m2-35h0m1-92h0m0 32h0m0 68h0m1 33h0m2-49h0m1 8h0m0-37h0m1 11h0m0-12h0m2 17h0m1-19h0m1 144h0m1-149h0m1-14h0m1 95h0m1 17h0m0-96h0m1-33h0m2 126h0m0-64h0m2-78h0m0 70h0m2-12h0m0-49h0m1 13h0m2-43h0m2 215h0m0-110h0m1-19h0m0-18h0m1 95h0m2 30h0m0-211h0m2 66h0m1 79h0m1 49h0m3-73h0m1 88h0m1-87h0m1-9h0m0 40h0m1-4h0m0-34h0m1-3h0m0 108h0m1-71h0m0 9h0m0-43h0m0 49h0m3-72h0m0-50h0m3 163h0m0-37h0m1-21h0m1-107h0m1 212h0m4-143h0m1 76h0m0 29h0m2-35h0m3-221h0m0 195h0m1 27h0m1-211h0m7 146h0m0 59h0m2 2h0m3-167h0m2 51h0m0 32h0m1 97h0m2-80h0m1-29h0m1 52h0m3 0h0m0-22h0m1-8h0m0 28h0m0 72h0m1-73h0m0 0h0m2 71h0m0-4h0m0 69h0m0-39h0m1 52h0m2-88h0m3-137h0m1 51h0m2 23h0m0-47h0m0 201h0m2-53h0m0 3h0m3-245h0m2 54h0m0 60h0m1-167h0m1-25h0m2 94h0m1 133h0m0-198h0m1 32h0m4-34h0m1 135h0m1-215h0m1 147h0m1-152h0m0 208h0m3-81h0m1-94h0m1 12h0m0 125h0m1-69h0m1 103h0m4-112h0m0-11h0m2 12h0m1-23h0m2 243h0m0-162h0m1 118h0m0-112h0m1 60h0m1-19h0m2-5h0m1-24h0m1 21h0m0 89h0m0-131h0m1 78h0m2 0h0m0 9h0m0-6h0m1-20h0m1-40h0m0 19h0m0-29h0m0 46h0m1-56h0m2 60h0m1-89h0m0 117h0m1-59h0m2 3h0m1-44h0m1-33h0m0-21h0m1 110h0m2-31h0m0 53h0m1-180h0m0 152h0m3-22h0m0 31h0m0-73h0m1-3h0m1 70h0m0 66h0m0-24h0m1-40h0m0-86h0m2 24h0m1-12h0m2-43h0m3 14h0m5 37h0m5 186h0m1-244h0m2 13h0m0-32h0m1 281h0m0-39h0m0 12h0m8-83h0m1 143h0m0-80h0m2-53h0m1 113h0m1-35h0m3-31h0m0 26h0m0 5h0m0 45h0m3 22h0m1-57h0m2-84h0m4-70h0m2 148h0m2-42h0m1 9h0m2-101h0m0 41h0m0 58h0m1-10h0m2 71h0m0-67h0m1-41h0m0 123h0m1-17h0m1-116h0m0 71h0m1-103h0m0 154h0m0-129h0m1 50h0m2-28h0m2 47h0m0-32h0m1 37h0m1 13h0m0 31h0m1 25h0m1-79h0m2 53h0m1 23h0m0-233h0m1 75h0m0-16h0m1 98h0m2 27h0m0-82h0m1-48h0m0 126h0m1-99h0m2 79h0m0 31h0m3-154h0m0 113h0m1-26h0m0 9h0m0 79h0m0 7h0m1-98h0m0-5h0m1 56h0m0-35h0m1 21h0m0 68h0m1-117h0m3 3h0m3 6h0m1-17h0m1 2h0m0 108h0m1 4h0m4-49h0m0 27h0m1 23h0m1-40h0m3 103h0m2-93h0m1-25h0m0-70h0m2-26h0m1-6h0m0-49h0m1 91h0m0 70h0m0-10h0m1 81h0m0-41h0m2-69h0m0 85h0m1-30h0m1-81h0m0 64h0m1-7h0m0 0h0m1 17h0m1 15h0m1-133h0m1 68h0m0 58h0m1-17h0m2-2h0m2 23h0m4-44h0m0 95h0m0-96h0m1-19h0m1 119h0m1-150h0m0-23h0m0 82h0m3-1h0m0-57h0m3 8h0m2 33h0m0 13h0m0 112h0m0-120h0m1 79h0m1-2h0m1 106h0m1-189h0m2-27h0m0 159h0m1-105h0m2-21h0m0 69h0m1 88h0m2-38h0m1-127h0m0 13h0m0-29h0m1 8h0m1 23h0m0 8h0m0 16h0m2-65h0m2 170h0m4-204h0m4 132h0m3-88h0m1-31h0m1 49h0m1-16h0m1-78h0m1 63h0m1 48h0m1 59h0m0-84h0m2 123h0m0-85h0m1-23h0m1 56h0m1-45h0m1 22h0m1 25h0m1-96h0m3 149h0m3-106h0m4-192h0m4 33h0m1-84h0m0 109h0m0-105h0m3 49h0m2-61h0m0 1h0m3-20h0m1 47h0m0-83h0m1 176h0m0-96h0m1 40h0m0 90h0m1-244h0m2 85h0m0-121h0m2 231h0m0-33h0m1-109h0m1 95h0m0-233h0m1 169h0m0-171h0m1 310h0m1-179h0m1 98h0m2-78h0m2 58h0m0-84h0m1 147h0m2 22h0m1-120h0m0 166h0m2-371h0m0 279h0m0-17h0m1-55h0m2 124h0m0-226h0m1 13h0m1 102h0m0 88h0m0-105h0m1 48h0m1-107h0m1 186h0m0-220h0m2-40h0m1 16h0m0 124h0m0-110h0m0 49h0m1 23h0m1 1h0m0 45h0m2-120h0m5 61h0m0 106h0m3-76h0m0 156h0m0-115h0m1 115h0m1 4h0m1-11h0m2-313h0m1 181h0m2 91h0m0-236h0m1-65h0m1 241h0m1-70h0m1 59h0m2 22h0m0-10h0m1 29h0m0-72h0m3 11h0m0 132h0m0-290h0m2 199h0m1-54h0m0 98h0m2-54h0m1-80h0m0-35h0m2 101h0m0-64h0m2 110h0m2 69h0m1-94h0m1 13h0m0-136h0m2 229h0m0-82h0m0-43h0m1-26h0m1-101h0m1 151h0m0-86h0m2 13h0m2 32h0m0-126h0m0-32h0m1 280h0m0-45h0m2-19h0m3-55h0m1-53h0m0 36h0m3-119h0m1 24h0m1 301h0m0-215h0m0 3h0m1-8h0m0-139h0m1 78h0m0-93h0m0 138h0m1 145h0m4-165h0m0 93h0m0 88h0m1-131h0m1 28h0m0-29h0m0 46h0m1-61h0m2-103h0m0 158h0m1-66h0m0 121h0m1-49h0m2 11h0m0 21h0m0 113h0m0-169h0m2 158h0m1-192h0m0 49h0m0 46h0m1 14h0m2-120h0m3-36h0m1 52h0m3-117h0m1 166h0m2-176h0m1 171h0m1-38h0m1 15h0m1 132h0m0-191h0m3 9h0m1 65h0m3-115h0m0 189h0m1-59h0m1-9h0m1 63h0m0 6h0m1-81h0m2 25h0m1-65h0m1 48h0m2-223h0m3 224h0m0-12h0m1 73h0m0 14h0m0-61h0m4-31h0m0 34h0m1 22h0m2-110h0m6-138h0m1 114h0m1 172h0m1-52h0m0-34h0m4-4h0m0 57h0m2-26h0m3-94h0m0-92h0m3 238h0m0-102h0m1-38h0m0-4h0m3 95h0m0-217h0m0 315h0m2-91h0m1-45h0m1-18h0m0 90h0m0-126h0m3 73h0m0-39h0m4 78h0m1-52h0m0-79h0m1 0h0m0 98h0m1 15h0m2 187h0m2-321h0m3 27h0m1-120h0m3 125h0m0 29h0m3-3h0m1-41h0m1 64h0m0-48h0m1 42h0m1 19h0m1 33h0m2 104h0m5-53h0m0-38h0m0-13h0m3 46h0m3 29h0m0 47h0m0-32h0m3 112h0m1-171h0m1 185h0m1-45h0m2-145h0m1-25h0m0 140h0m1 41h0m1-83h0m1-158h0m0 97h0m1 7h0m0 118h0m2-9h0m2 93h0m1-208h0m2-230h0m0 309h0m2-95h0m0 214h0m0-276h0m1 153h0m0-52h0m1-13h0m1 89h0m0 27h0m1-26h0m0-206h0m0 219h0m2-78h0m0-16h0m2-118h0m2 168h0m1-64h0m0-39h0m0 87h0m1 84h0m2-127h0m0 16h0m1 78h0m0-91h0m2-47h0m2 99h0m0 6h0m2-94h0m1-8h0m1-13h0m1 43h0m0 39h0m2 97h0m1-96h0m1 13h0m0-55h0m0 170h0m0-83h0m3-82h0m1 72h0m1-25h0m0-25h0m1-25h0m1 14h0m1-16h0m0 104h0m1-116h0m1 27h0m0-92h0m1 24h0m1 12h0m1 106h0m0 89h0m1-26h0m3-129h0m1 129h0m1-70h0m1-49h0m0 136h0m1-238h0m0 179h0m3-9h0m0-84h0m0 86h0m1-188h0m0 20h0m0 191h0m1-79h0m1 63h0m0-72h0m0-28h0m0-1h0m0-73h0m1 229h0m1-94h0m0 63h0m1-235h0m1 133h0m0 76h0m2-200h0m0 297h0m0-124h0m1-59h0m3 105h0m2-87h0m2 141h0m1-78h0m1 2h0m0 14h0m1-158h0m3 78h0m0 84h0m0 1h0m1 162h0m4-222h0m1 14h0m3 30h0m1 98h0m0-79h0m0-206h0m3 105h0m1 241h0m1-129h0m3-60h0m1 172h0m0-74h0m0-82h0m0-54h0m1-31h0m2 98h0m0-117h0m2-1h0m3 109h0m0 34h0m1 32h0m1-153h0m1 124h0m1-34h0m1-52h0m1-13h0m2 78h0m1-152h0m1 160h0m1 76h0m0-166h0m1 154h0m2-126h0m0 123h0m0-60h0m0-36h0m1-3h0m1-8h0m1-98h0m1 82h0m0-3h0m0 28h0m1-110h0m0-103h0m1 104h0m1 141h0m2-55h0m2-165h0m1 209h0m0-52h0m1 56h0m1-117h0m0-14h0m0 110h0m3-45h0m2 93h0m1-189h0m0 54h0m2 48h0m2 144h0m1-78h0m1 51h0m3-58h0m2-35h0m0-192h0m2 107h0m1 219h0m2-180h0m0 93h0m0-159h0m1 81h0m0 68h0m1 25h0m0-157h0m1 141h0m0 59h0m2-139h0m0-136h0m1-4h0m1 147h0m0 19h0m3-71h0m1 20h0m0 65h0m1-27h0m0 62h0m0-133h0m1 30h0m0 169h0m0-106h0m6 24h0m0-177h0m1 275h0m1-88h0m2 5h0m2-52h0m0-5h0m0 85h0m3-117h0m0 0h0m3 179h0m0-29h0m1 44h0m0-98h0m0-174h0m0 84h0m0 38h0m2 12h0m2-7h0m0 52h0m1-81h0m2 5h0m0 50h0m5-62h0m0-119h0m0 217h0m4-84h0m0-27h0m1 138h0m0-108h0m2-41h0m1 42h0m2 133h0m0-72h0m1 58h0m0-65h0m1-62h0m0 20h0m0 4h0m1 32h0m1-45h0m0 116h0m0-137h0m1-73h0m1 23h0m1 81h0m2-158h0m0 315h0m1-17h0m1-249h0m3 89h0m2-64h0m1 71h0m0 29h0m0-103h0m1 58h0m0 47h0m1 35h0m0-137h0m0 196h0m0 10h0m2-178h0m5 60h0m1 6h0m1 57h0m0-10h0m1-157h0m1 189h0m0-148h0m1 281h0m0-365h0m1 100h0m1 26h0m1-87h0m0 157h0m3-20h0m0-100h0m1 29h0m1 18h0m2-96h0m0 112h0m1 115h0m1-38h0m0-40h0m1 0h0m2-72h0m1 25h0m1 7h0m1 164h0m1-228h0m1-34h0m1 22h0m1 118h0m2 3h0m1 107h0m0-187h0m2 112h0m0-119h0m1 30h0m1-5h0m0 105h0m29 43h0m0 147h0m1-47h0m2 44h0m3 8h0m1-35h0m1-54h0m3 103h0m0-93h0m2-9h0m0-23h0m3 50h0m2 146h0m1-99h0m3-62h0m1 11h0m1-27h0m0-93h0m1 116h0m1 97h0m1 24h0m2-83h0m1-11h0m0-9h0m0-10h0m0-26h0m0-55h0m0 58h0m0-2h0m1 32h0m2 24h0m2 10h0m1 41h0m1 89h0m1-136h0m0 4h0m3 5h0m1-133h0m0 68h0m1 34h0m1 33h0m2 9h0m0-26h0m1 6h0m0-9h0m1 28h0m0-47h0m4 127h0m1-156h0m1 28h0m1-145h0m3 57h0m1 157h0m0-207h0m1 165h0m1-371h0m1 322h0m0-213h0m1 213h0m0 61h0m4 87h0m1-281h0m0 181h0m3-162h0m0 43h0m1-171h0m8 153h0m1-93h0m0 24h0m3 11h0m1-175h0m1 37h0m3 216h0m0-128h0m1 170h0m0-103h0m2-142h0m1 64h0m0-16h0m1 13h0m0 75h0m1-200h0m0 221h0m2-202h0m1 188h0m1 75h0m1-58h0m0-43h0m1 41h0m3-92h0m0 125h0m2 87h0m0-287h0m0 121h0m0 22h0m3-60h0m0 29h0m0 163h0m2-113h0m0 17h0m1-38h0m1-72h0m1-14h0m0-12h0m2 61h0m1-30h0m2 76h0m0-93h0m1 143h0m0 6h0m1-107h0m1 75h0m1-59h0m1 74h0m0-70h0m0 46h0m3-112h0m0 92h0m1-8h0m0-129h0m0 109h0m1-44h0m1-33h0m2 128h0m1-195h0m2 128h0m0 26h0m2 107h0m4-126h0m2-14h0m6 46h0m1-36h0m4 45h0m3-45h0m2 35h0m3-7h0m0-43h0m1-36h0m0 127h0m0-73h0m1-31h0m1 194h0m1-165h0m2 47h0m1-14h0m0-63h0m1 105h0m0 14h0m2-29h0m0-21h0m1-63h0m1 9h0m1 146h0m0-74h0m1-39h0m3-10h0m1-19h0m1 67h0m1-177h0m2 286h0m1-42h0m1 81h0m1 57h0m0-84h0m1 18h0m0-124h0m0 81h0m0 68h0m1-86h0m0 48h0m1-73h0m0 122h0m0-110h0m1 70h0m0-97h0m3 54h0m1 31h0m0-88h0m1 77h0m3 31h0m2 24h0m2-30h0m3-49h0m1 97h0m1-110h0m0 83h0m1-153h0m2 117h0m1 33h0m0 68h0m1-103h0m0 49h0m1-16h0m1-108h0m0 58h0m2-61h0m3 278h0m0-207h0m0-1h0m1 220h0m0-272h0m0 26h0m0 5h0m1 1h0m0-45h0m3-38h0m0 80h0m2 52h0m0 141h0m0-94h0m0-6h0m1-10h0m1 164h0m1-239h0m0-16h0m1 216h0m2-258h0m1 90h0m1 73h0m0-121h0m1 33h0m2-48h0m0 80h0m3-27h0m2 157h0m1-123h0m1-35h0m1 70h0m0-79h0m1 118h0m4-149h0m0-38h0m1 83h0m0 41h0m1-8h0m0-12h0m2-43h0m1 90h0m0-35h0m3-108h0m2-30h0m0 133h0m0 64h0m2 78h0m4-198h0m0 52h0m4-65h0m4 162h0m0-139h0m1 131h0m2 53h0m1-258h0m3 53h0m0-46h0m1 126h0m1 119h0m1-180h0m2 68h0m1-13h0m2-22h0m0 70h0m0-78h0m1 128h0m1 43h0m0-146h0m0 111h0m1-155h0m2 10h0m1 104h0m0-83h0m1 170h0m0-44h0m1-249h0m0 105h0m1 0h0m2-18h0m1 113h0m1-151h0m0 101h0m2-77h0m2 127h0m1-207h0m1 131h0m0-48h0m0-58h0m1 286h0m2-203h0m0-15h0m1 35h0m1 58h0m1-42h0m1 33h0m1-81h0m2-52h0m0 83h0m1 23h0m1 33h0m2-296h0m1 125h0m0 14h0m1-67h0m1 74h0m0-28h0m1-61h0m2-10h0m0 38h0m1-92h0m4-22h0m0 133h0m1-78h0m0 78h0m2 28h0m0-112h0m1 37h0m1 80h0m1-80h0m1-97h0m4 101h0m2 42h0m0-104h0m0 29h0m3 6h0m0-22h0m1 52h0m1-100h0m1 89h0m0 27h0m0-4h0m0-143h0m1-57h0m1 102h0m1 166h0m1-33h0m1-72h0m1-36h0m3 16h0m1 25h0m1-14h0m0-45h0m1 64h0m1-41h0m2 55h0m1-10h0m3 49h0m0-56h0m1 78h0m1-95h0m1 36h0m0 6h0m0 7h0m3-174h0m1-42h0m0 111h0m0 85h0m1-34h0m0-108h0m2 160h0m0-118h0m0 24h0m1-32h0m1 44h0m0 79h0m1-93h0m1 78h0m1 88h0m3 59h0m1-53h0m2 5h0m1-188h0m2 116h0m0-33h0m0-4h0m2-63h0m1 192h0m2-114h0m1 103h0m0-105h0m1-1h0m0 16h0m1 55h0m0-171h0m1 129h0m1-27h0m1 117h0m0-44h0m3-43h0m1 31h0m2-231h0m0 258h0m2-173h0m1 137h0m2-86h0m1-3h0m1 185h0m0-156h0m0-18h0m1 64h0m0-38h0m0-52h0m2 50h0m1-57h0m0 18h0m1-43h0m0-20h0m2 86h0m0 39h0m1-43h0m2-49h0m1 108h0m1-107h0m1 9h0m0 94h0m1-131h0m1 36h0m5 47h0m1-80h0m1 105h0m1-57h0m1 37h0m1-22h0m1 76h0m0-122h0m1 83h0m0-120h0m1 114h0m0-16h0m1-106h0m1 51h0m1-38h0m0 48h0m4 30h0m3-39h0m0-1h0m0 2h0m1-46h0m1 78h0m1 48h0m1-19h0m1-73h0m0 142h0m4-150h0m1-27h0m0 19h0m3 45h0m0-28h0m0-16h0m1 232h0m0-252h0m0 19h0m0-13h0m1-7h0m1 106h0m1-4h0m1-57h0m0-123h0m2 226h0m4 53h0m1-78h0m1-29h0m0-35h0m1 75h0m1 68h0m1-148h0m0-1h0m1 60h0m2 41h0m0 26h0m1-37h0m0-42h0m1 35h0m1-80h0m1 87h0m0 48h0m3-119h0m0-72h0m2 71h0m0 80h0m0-46h0m1-38h0m1-15h0m0 1h0m2 130h0m2-163h0m1-9h0m1 71h0m0-14h0m1 17h0m1-26h0m2 45h0m5-2h0m0-56h0m1-3h0m1 19h0m0 112h0m3-115h0m1-20h0m2 133h0m0-143h0m0-7h0m1 31h0m0-34h0m1-37h0m1 40h0m0-93h0m0 154h0m3 40h0m0 20h0m7 47h0m0 43h0m1-52h0m1-10h0m0 88h0m0 35h0m6-3h0m3-89h0m0-53h0m1 1h0m1 10h0m0 51h0m5 2h0m1-134h0m0 161h0m2 88h0m0-226h0m1 67h0m1 17h0m0-24h0m0-37h0m1 108h0m0-181h0m0 163h0m2-42h0m0-71h0m0 152h0m2 14h0m0-143h0m0 8h0m1-57h0m1 174h0m1-41h0m0-30h0m1 80h0m0 33h0m3-109h0m0 55h0m1-90h0m7 24h0m1 10h0m1-89h0m1 130h0m0-85h0m1-65h0m0 54h0m0 30h0m1 92h0m1-109h0m0 77h0m2-97h0m2-10h0m2-29h0m0 57h0m0 5h0m1 150h0m0-66h0m3 67h0m1-81h0m1 22h0m1-97h0m1 60h0m1 67h0m4-158h0m1 60h0m0-15h0m1-8h0m1 74h0m1-120h0m1 95h0m0-74h0m2 80h0m0 12h0m0-88h0m0 23h0m5 28h0m0-15h0m0 73h0m3-146h0m1 107h0m1-22h0m3-36h0m0-25h0m1 36h0m0 80h0m0-73h0m0 88h0m1-146h0m1 48h0m1 48h0m1-48h0m2 34h0m0-6h0m1 28h0m0 24h0m1-84h0m0 43h0m1 110h0m2-41h0m1-42h0m2-67h0m0 118h0m2-139h0m1 57h0m1 107h0m0-106h0m1-117h0m0 160h0m0-102h0m1 108h0m0-122h0m0 125h0m2-16h0m0-14h0m1 59h0m0-116h0m1 12h0m2 106h0m1 8h0m1-33h0m0-66h0m2 41h0m4 147h0m2-142h0m1 51h0m1-39h0m1-99h0m2 36h0m2 104h0m0-30h0m2-50h0m0 19h0m2-72h0m1 15h0m0 89h0m1-50h0m0-78h0m1 183h0m1-119h0m0 12h0m1 93h0m0-70h0m1-189h0m2 209h0m0-53h0m1 108h0m0-166h0m1 64h0m1-136h0m0 184h0m1-52h0m0-70h0m0 134h0m1 26h0m3-94h0m0 23h0m1-7h0m0-38h0m0 22h0m2-101h0m2 127h0m3-115h0m2 43h0m1 8h0m1 60h0m1 112h0m3-69h0m0-5h0m2-79h0m1 231h0m1-236h0m0 112h0m0 46h0m1-157h0m1 205h0m0-228h0m3 73h0m1 32h0m0-44h0m0-53h0m0-61h0m4 156h0m1-96h0m0 131h0m0-25h0m1-101h0m1 42h0m0 82h0m0-10h0m1-38h0m2 44h0m1-4h0m5 25h0m0-27h0m1-11h0m29-196h0m0 12h0m2 18h0m0 47h0m3-1h0m0-11h0m3 45h0m2-102h0m0-31h0m3 153h0m1-107h0m0 16h0m4 40h0m1-45h0m1-80h0m1 133h0m0-88h0m1 52h0m3 33h0m4 84h0m0-165h0m3-1h0m2 9h0m2 54h0m3-46h0m2 0h0m0 21h0m1 60h0m0 14h0m1-42h0m1-66h0m0-62h0m1 126h0m0-139h0m1 90h0m2 19h0m0-49h0m1 28h0m0 187h0m1-95h0m1-169h0m1 16h0m0 163h0m1 13h0m2-222h0m9 351h0m1 122h0m1-9h0m4 195h0m0-220h0m4 228h0m0-122h0m1-9h0m3-30h0m1-26h0m2 213h0m0-184h0m7 7h0m2 23h0m1-22h0m1 131h0m9-176h0m1-24h0m5 52h0m1 68h0m0-212h0m5-126h0m1-160h0m4-45h0m1 129h0m1-69h0m0 24h0m1 7h0m0-26h0m0-11h0m1 20h0m3-47h0m1 78h0m0-92h0m1 2h0m0 0h0m2 33h0m0-20h0m1 46h0m0-36h0m1-27h0m1 48h0m0 109h0m2-64h0m1-127h0m2 131h0m2-21h0m0 52h0m0 10h0m1 13h0m3-256h0m0 135h0m3-3h0m31-337h0m3 244h0m1 18h0m5 24h0m3-132h0m3 143h0m0-191h0m5 231h0m2-215h0m0 187h0m1-263h0m1 118h0m3-124h0m1 220h0m5-66h0m5 52h0m1-83h0m1 91h0m6 12h0m0-114h0m0 104h0m3-156h0m1 193h0m1-131h0m0 124h0m1 44h0m0-225h0m1 133h0m0-100h0m0-132h0m1 174h0m0-173h0m2 229h0m0-61h0m1 9h0m0 85h0m1-32h0m3-29h0m0 51h0m1-35h0m0 5h0m2 57h0m0-220h0m1 164h0m0 60h0m0-59h0m1-124h0m1 108h0m0-16h0m1 95h0m0 10h0m0-66h0m2 62h0m1-159h0m1 158h0m0 17h0m0-92h0m1-38h0m0-4h0m1-65h0m3 174h0m1 15h0m0-70h0m0 70h0m0-151h0m3 16h0m0-96h0m1 116h0m2-66h0m3 186h0m0-5h0m0-74h0m2 17h0m1-24h0m1 51h0m1-211h0m2 175h0m2-46h0m1 39h0m0-32h0m1 102h0m0-232h0m2 198h0m0-33h0m0-71h0m1-13h0m1 209h0m3-91h0m2 80h0m1-196h0m1 49h0m0 8h0m0 74h0m0-23h0m3-176h0m0 57h0m0 88h0m0-40h0m1-10h0m1-109h0m0 123h0m2 114h0m0-219h0m0 81h0m2-22h0m0 11h0m0 83h0m1-61h0m1-144h0m2 223h0m1-106h0m1-44h0m1 251h0m1-176h0m0-25h0m1 63h0m1 57h0m0-123h0m1 44h0m1-7h0m3 115h0m0-20h0m1-13h0m31 500h0m0-223h0m2 29h0m2 83h0m2-63h0m2-41h0m0 267h0m0-231h0m1 70h0m0-88h0m0 48h0m1 9h0m2-41h0m2-59h0m1 16h0m1 176h0m0-119h0m0-79h0m0 147h0m4-91h0m3 186h0m1-82h0m1-98h0m2 36h0m0-51h0m4 45h0m1-9h0m0 204h0m1-167h0m1 101h0m1-74h0m0-100h0m0 107h0m1-167h0m2 146h0m0-26h0m1-5h0m0 7h0m0 71h0m4-99h0m0 58h0m3-32h0m2-1h0m2-113h0m4 106h0m1-72h0m1 27h0m0-19h0m3 81h0m0 106h0m1-115h0m2-84h0m1 104h0m1-29h0m4-48h0m3-31h0m0-95h0m0 81h0m0-29h0m1 94h0m1-172h0m0 0h0m2 41h0m0 85h0m1-38h0m1-55h0m0 89h0m5-129h0m0 125h0m1 19h0m0-86h0m0 167h0m1-87h0m1-86h0m5-42h0m3 34h0m5 104h0m2-342h0m1-38h0m2 67h0m2 175h0m2-84h0m3-25h0m2 28h0m4-89h0m2 9h0m4-38h0m1 72h0m1 81h0m4 93h0m3 88h0m1-61h0m5-23h0m1 66h0m0 77h0m1-65h0m0 3h0m2-119h0m1 86h0m0-37h0m3 47h0m0 19h0m3-127h0m2 30h0m0 175h0m2-250h0m0 182h0m1-14h0m2 20h0m1-41h0m2-223h0m0 61h0m1 174h0m1 14h0m1-66h0m1-118h0m0 207h0m1-52h0m1-16h0m1 0h0m0-72h0m1 63h0m2 76h0m1-209h0m1 164h0m0-133h0m0-33h0m0 182h0m2-9h0m0 38h0m2-42h0m1 2h0m0-31h0m3 17h0m0-116h0m0 87h0m1 38h0m13-121h0m1-65h0m1-104h0m0 94h0m1 97h0m0-124h0m4-69h0m1 105h0m3 64h0m0-129h0m0 98h0m3 10h0m2-8h0m1-149h0m2 181h0m4-23h0m0 9h0m0-35h0m1 146h0m0-152h0m0 78h0m4-124h0m0 97h0m2-60h0m0 100h0m1 19h0m1-80h0m1-76h0m0 45h0m1 48h0m3-36h0m1 17h0m1-233h0m1 72h0m2 199h0m2-202h0m0 141h0m1 95h0m1-161h0m0-99h0m1 172h0m1 28h0m3-18h0m0 13h0m3-33h0m1-59h0m2 116h0m2 35h0m1-104h0m3-34h0m1 62h0m4-46h0m3-42h0m0 81h0m2 173h0m1-27h0m0 37h0m3 195h0m0-89h0m1 80h0m1-138h0m1 38h0m2 16h0m1-39h0m7 151h0m1-216h0m1-19h0m2 170h0m1 23h0m1-156h0m0 30h0m3 15h0m1-3h0m3-140h0m1 26h0m8-48h0m1-41h0m0 137h0m1-114h0m3 6h0m0 26h0m2-8h0m0 9h0m1 15h0m3-15h0m1-114h0m0 106h0m2 4h0m1-26h0m1 67h0m0-91h0m2 113h0m1-23h0m1-19h0m2-21h0m1 67h0m1-70h0m1 25h0m1-76h0m1-49h0m0 57h0m2-72h0m0 127h0m0-170h0m1 77h0m1-16h0m4 94h0m0-41h0m1 3h0m1-3h0m2-38h0m0 0h0m0 4h0m0 119h0m1-184h0m3 97h0m0-85h0m2 97h0m1-33h0m0 60h0m0-4h0m5-34h0m1-13h0m0-100h0m1 65h0m1 78h0m1-102h0m3-42h0m2 164h0m1-28h0m1-62h0m2 119h0m0-91h0m3-28h0m1 62h0m0 37h0m1 5h0m0-92h0m0 51h0m1 36h0m3-69h0m3-81h0m1 55h0m0 55h0m0-54h0m2-1h0m0-17h0m8 247h0m0-138h0m4 63h0m3 39h0m1-46h0m0-37h0m0 142h0m1-34h0m1-97h0m2 64h0m0-59h0m0-40h0m1 44h0m0 57h0m3-87h0m3-112h0m1-4h0m2 144h0m4-20h0m1 30h0m1-71h0m3 103h0m1-17h0m1 48h0m0-121h0m1 45h0m1-38h0m1 102h0m0 28h0m2-5h0m0-22h0m1-200h0m1 206h0m1-63h0m0 66h0m1-19h0m2 36h0m1-191h0m0 89h0m1-28h0m1 161h0m1-187h0m1-23h0m0-8h0m1 68h0m2-60h0m0 54h0m0 51h0m1-150h0m1 241h0m1-110h0m2-50h0m6 31h0m0 15h0m1-35h0m0 55h0m2-35h0m0-54h0m2 149h0m0-107h0m1 151h0m1-106h0m1 25h0m1-87h0m2 110h0m0-150h0m0-31h0m1 214h0m1-219h0m2 48h0m1-44h0m2 19h0m2 68h0m1-88h0m1 125h0m2 84h0m1-32h0m2-74h0m1 107h0m1-87h0m0-44h0m2 9h0m1-85h0m0-29h0m1 212h0m3-56h0m0-128h0m1 214h0m2-148h0m1-16h0m1-56h0m0-6h0m1 161h0m2 11h0m1 82h0m1-75h0m1 11h0m1-2h0m1-111h0m2-5h0m0 30h0m1 70h0m0-130h0m0 50h0m1-62h0m3 79h0m1 132h0m1-145h0m1 106h0m1-75h0m2 11h0m1 13h0m1 34h0m1-30h0m1 113h0m1-171h0m1 96h0m0-41h0m1-31h0m0 97h0m3 40h0m0-99h0m0 9h0m1 49h0m1-94h0m1 99h0m2-16h0m1 14h0m1-20h0m2-22h0m1-141h0m2 45h0m0 118h0m0-67h0m0 54h0m0 8h0m2-99h0m2 103h0m1-36h0m2 51h0m2-160h0m2 155h0m1-34h0m0 55h0m0-44h0m0 42h0m3-17h0m1-63h0m1 165h0m0-110h0m2-65h0m2 72h0m1-20h0m1 141h0m2-3h0m0-175h0m0 98h0m1-67h0m1 30h0m1 111h0m1-176h0m1 44h0m2 43h0m1-169h0m3 111h0m1 11h0m2 61h0m2-14h0m3-89h0m2-72h0m3 127h0m0-50h0m1-8h0m0 110h0m0-115h0m1 53h0m1-8h0m2 37h0m1-61h0m0 71h0m1 16h0m2-45h0m3-378h0m5-72h0m1 179h0m2 18h0m1-134h0m1 19h0m1-4h0m1 124h0m1-166h0m0-15h0m0 17h0m0 140h0m1-90h0m1-23h0m3-104h0m0 127h0m0-210h0m1 255h0m1-66h0m0 60h0m0-66h0m1 137h0m1-58h0m0-109h0m0 71h0m1 24h0m1 55h0m0-100h0m1 118h0m0-126h0m1-7h0m2 35h0m0 67h0m1-122h0m1 68h0m0-26h0m1 56h0m0 12h0m0-51h0m1 174h0m0-34h0m2-163h0m4 144h0m1-77h0m1-49h0m0 0h0m0 145h0m6-24h0m1 17h0m2-56h0m0-73h0m0 69h0m1-8h0m0 5h0m0-96h0m1 154h0m0-146h0m1 152h0m0 13h0m2-87h0m1-24h0m0-73h0m0 111h0m2-152h0m0 19h0m2 26h0m0 156h0m0-73h0m0-100h0m1 44h0m1 75h0m1 3h0m1-72h0m0 192h0m1-86h0m0 8h0m1-103h0m1 80h0m0 83h0m0-277h0m0 180h0m1-40h0m1 23h0m1 54h0m2 14h0m2-264h0m0 193h0m1-124h0m1 70h0m1-37h0m0 6h0m1 57h0m0-157h0m2 201h0m0-109h0m1 150h0m5-64h0m0-179h0m1 110h0m2-105h0m0-20h0m2 208h0m0-209h0m2 147h0m0 24h0m20 79h0m1 156h0m1-32h0m3 144h0m1-172h0m0 34h0m0-114h0m0 243h0m0-51h0m1 44h0m1-30h0m0-70h0m1 7h0m0-55h0m0 100h0m0-153h0m4 182h0m0-6h0m2-124h0m0 94h0m0 57h0m0-94h0m1-41h0m1 54h0m1-36h0m3 77h0m1-19h0m0-15h0m1 79h0m3-73h0m0 4h0m0-60h0m0 47h0m1 116h0m1-72h0m0 91h0m1-286h0m6 159h0m6 141h0m0-162h0m0-51h0m3 89h0m1 47h0m0-93h0m1 44h0m2-36h0m1-5h0m1 47h0m2 54h0m1-19h0m0 4h0m0-103h0m2 146h0m0 6h0m1-52h0m0 19h0m20 0h0m0-54h0m0-62h0m2 80h0m2-61h0m2 70h0m1-68h0m1-15h0m1 106h0m2-29h0m3 5h0m0-129h0m1 96h0m0-68h0m2 195h0m2-137h0m1 5h0m2 0h0m4 24h0m1-107h0m1 121h0m3-122h0m1 186h0m0-87h0m1 61h0m1 13h0m1-42h0m1-35h0m0-46h0m2 108h0m1-25h0m0-52h0m0 5h0m1 25h0m0 104h0m0-115h0m1-51h0m0-14h0m1-54h0m0 118h0m5-155h0m0 142h0m1-26h0m3 122h0m1-3h0m0-67h0m1-5h0m0-65h0m2 119h0m1 0h0m4-175h0m0-38h0m5 52h0m0-115h0m1 133h0m1 3h0m1-3h0m0-24h0m3 27h0m4-181h0m0 224h0m0-124h0m2 63h0m1-54h0m3 102h0m5-61h0m1 76h0m0-203h0m1 116h0m1-71h0m1 74h0m1 5h0m2-32h0m0-41h0m0 54h0m1-16h0m1 142h0m2-73h0m0-46h0m0-54h0m1-19h0m0 67h0m1 84h0m0-110h0m0-25h0m2 45h0m4-105h0m0 81h0m0 25h0m2 54h0m3-25h0m0-79h0m1-41h0m2 89h0m0-56h0m3 143h0m0-101h0m1-27h0m1-34h0m1 70h0m3 161h0m1-44h0m4-43h0m1-161h0m1 77h0m0-40h0m1 39h0m2-6h0m3-13h0m1 83h0m0 67h0m0-105h0m2-73h0m1 70h0m3 3h0m1 51h0m1 29h0m2 28h0m2-71h0m0 20h0m1 28h0m0-146h0m0 44h0m0 10h0m5-331h0m3-55h0m3 14h0m3 91h0m2-147h0m1 69h0m2 95h0m2-139h0m1 184h0m1 19h0m2-16h0m5-89h0m3 53h0m1 21h0m2-82h0m1-25h0m9-70h0m4 544h0m0-65h0m1 29h0m3-112h0m1 181h0m0-25h0m2-49h0m0 13h0m4 94h0m1-26h0m0-59h0m0-148h0m1 130h0m0-56h0m1 68h0m4-168h0m0 85h0m1 83h0m0-70h0m1 5h0m0 4h0m3-67h0m0 140h0m0 105h0m5-29h0m0-90h0m0-59h0m1 61h0m0 18h0m1-61h0m0 31h0m1 89h0m0-212h0m1 65h0m0 24h0m1-87h0m1 151h0m0-95h0m1 56h0m0-25h0m2 6h0m1 26h0m2-20h0m1-15h0m1 12h0m1 43h0m2-92h0m0 133h0m1-119h0m0 24h0m4 28h0m1-41h0m2-67h0m6-31h0m1 224h0m2-78h0m1-129h0m1 186h0m1-84h0m0 9h0m0-93h0m2 40h0m1 135h0m0-92h0m1-7h0m2 56h0m3-84h0m1 31h0m1-31h0m2 19h0m1 10h0m1 9h0m2-72h0m1 126h0m1-182h0m1 28h0m0 72h0m4 115h0m0-89h0m2 83h0m2-72h0m2-5h0"/><path stroke-width="6" d="M0 0m246 1178h0m1-108h0m0 279h0m0-244h0m0-58h0m1 293h0m0-104h0m1-29h0m1 16h0m0 123h0m0-178h0m1 83h0m0-196h0m1 173h0m1-24h0m0-157h0m1 158h0m1-94h0m4 133h0m0 73h0m1-3h0m0-66h0m1 15h0m1-45h0m1 140h0m1-183h0m2 127h0m0-28h0m0-67h0m1 41h0m0 5h0m1 102h0m0 33h0m0-8h0m1-201h0m1 91h0m1 33h0m1-67h0m3 16h0m1 10h0m4-33h0m0-15h0m5 63h0m0-24h0m2-58h0m0 43h0m1 239h0m0 91h0m0 18h0m0 21h0m0-288h0m2 14h0m1-192h0m1 78h0m0-116h0m0 159h0m1-134h0m0 127h0m1-179h0m0 107h0m0 12h0m1-33h0m2 77h0m0 87h0m4-211h0m2 69h0m1 15h0m0-10h0m1-150h0m1 114h0m0 66h0m3 48h0m1-239h0m1 175h0m0-29h0m1 36h0m1-105h0m3 70h0m1-118h0m2 142h0m1-40h0m1 13h0m0 40h0m1-89h0m3-20h0m2 264h0m2-254h0m0 161h0m3-82h0m0-49h0m1 147h0m0-6h0m1-254h0m0 245h0m3-237h0m0 59h0m1 482h0m2-390h0m1-167h0m1-11h0m1 271h0m1-134h0m1 46h0m1-65h0m0-47h0m1 213h0m0-235h0m2 110h0m1 95h0m2 29h0m0-157h0m0-27h0m0 35h0m7 15h0m0-29h0m0-3h0m1 143h0m0-134h0m1 71h0m0 42h0m1 6h0m0-179h0m0 181h0m2-77h0m1-63h0m2-32h0m1 143h0m0-151h0m3 56h0m0 173h0m0 47h0m1-129h0m1 0h0m4 5h0m1-92h0m1 64h0m1-54h0m3 82h0m0 34h0m1-93h0m1 3h0m2-101h0m0 66h0m1 22h0m0-64h0m2 132h0m1-31h0m0 18h0m0 36h0m1-13h0m1-159h0m1 4h0m3-14h0m0 242h0m2-78h0m3-16h0m1-10h0m1 76h0m2-108h0m0 29h0m1-7h0m0 41h0m1-121h0m4 153h0m0-152h0m1 170h0m3-42h0m0-54h0m0 20h0m3-4h0m1 38h0m1 76h0m0-245h0m0 176h0m1-30h0m2-27h0m2 150h0m0-184h0m0-36h0m1 69h0m2 76h0m1-7h0m1-33h0m0 22h0m2 17h0m2-27h0m30-25h0m1 31h0m1-127h0m0 137h0m0-157h0m1 55h0m1-27h0m1 113h0m0-176h0m1 241h0m3-149h0m0-100h0m1 80h0m0 55h0m0 46h0m1-64h0m1 49h0m1-83h0m1 5h0m1-53h0m1 206h0m0-34h0m2-25h0m0-74h0m1 38h0m1 45h0m1 59h0m1-193h0m1-54h0m1 201h0m1-24h0m1-83h0m3 402h0m3-525h0m2 111h0m0 61h0m1 83h0m2-203h0m0 181h0m0-133h0m1 8h0m2 84h0m0 57h0m0-223h0m2 110h0m2-46h0m0 98h0m2-81h0m2 91h0m1 43h0m3-108h0m1 125h0m0-46h0m1 5h0m1-126h0m0 71h0m1 41h0m0 66h0m2-25h0m0-120h0m1 43h0m1-9h0m1-68h0m0 1h0m0 80h0m6-182h0m1 254h0m2-63h0m1 20h0m1-143h0m0 33h0m1 147h0m1-52h0m0 57h0m1-137h0m0 89h0m0-41h0m1-58h0m1 72h0m0-274h0m0 65h0m2 165h0m0-55h0m1-45h0m2-72h0m0 89h0m1 29h0m0 43h0m3-76h0m0 25h0m0 57h0m1-83h0m1 70h0m2 13h0m1-61h0m1 26h0m0-79h0m1 165h0m1-85h0m0-53h0m1 25h0m1 24h0m0 3h0m1 103h0m0-207h0m0 104h0m1-133h0m0 151h0m1-100h0m1 63h0m3-41h0m2 56h0m2 15h0m1-28h0m0 6h0m1 98h0m0-18h0m0-221h0m0 126h0m0-13h0m1 37h0m2 19h0m1-49h0m1 30h0m1-57h0m0 28h0m1-69h0m0 131h0m0-52h0m0-59h0m1 75h0m0-95h0m0 29h0m1 25h0m0 57h0m0 85h0m2-92h0m5-65h0m2-86h0m0 150h0m6-68h0m0-48h0m0 89h0m1 90h0m2-98h0m1 13h0m0-67h0m0 52h0m0 93h0m0-63h0m3-105h0m2 108h0m0-75h0m0 81h0m1-70h0m3-38h0m5-10h0m0 33h0m2-64h0m0 167h0m1-182h0m3 66h0m1 5h0m0 149h0m0-24h0m1-215h0m2 108h0m2 216h0m1-32h0m1 12h0m5 56h0m2-26h0m1 9h0m3-87h0m0 69h0m1 56h0m0-55h0m4-83h0m2 61h0m0-64h0m1 76h0m1-13h0m0-19h0m2 2h0m0-12h0m1 40h0m1-5h0m0 29h0m1-1h0m1-25h0m0-92h0m2 144h0m0-68h0m0-12h0m0 23h0m0 21h0m1-73h0m3 59h0m1 16h0m1 58h0m1-223h0m1 115h0m0 72h0m1 15h0m0-21h0m4-191h0m0 178h0m1-87h0m0 70h0m1-3h0m0-144h0m1 192h0m0-14h0m0-6h0m0-51h0m1 5h0m1 18h0m2 10h0m1-135h0m2 97h0m0-78h0m0 1h0m1 130h0m1-121h0m1 40h0m0-14h0m2 41h0m1 39h0m1-3h0m0 24h0m1-173h0m0 144h0m4 100h0m0-31h0m4-204h0m0 133h0m1 117h0m0-65h0m3 34h0m0-101h0m2-9h0m3-183h0m0 73h0m0 32h0m1-58h0m0-8h0m0-55h0m0 3h0m5 172h0m0-149h0m0 74h0m2-60h0m0 162h0m0-319h0m0 137h0m0-22h0m1 152h0m0-190h0m0 37h0m1 22h0m1 62h0m0-142h0m1-10h0m1 119h0m0 20h0m2-113h0m1-95h0m0 36h0m1 227h0m1-62h0m1 46h0m1-255h0m0 230h0m0-1h0m1 32h0m0-207h0m1 223h0m0-133h0m0 70h0m1 1h0m0 36h0m1-63h0m0-28h0m0 152h0m1-151h0m1-127h0m2 181h0m1-80h0m0 18h0m1 28h0m0 10h0m1-96h0m1-1h0m0 90h0m1 18h0m1-32h0m0 79h0m1-25h0m3-193h0m1 57h0m4 182h0m8 5h0m1-179h0m1 114h0m0-26h0m1-18h0m1 63h0m1-88h0m0 86h0m0 102h0m2-52h0m0-94h0m0 82h0m1-79h0m0 104h0m3-12h0m0-118h0m1 4h0m2 104h0m0-42h0m1-57h0m1 179h0m1-160h0m2-28h0m0-13h0m0 200h0m1-90h0m1 62h0m1-112h0m0 26h0m0-17h0m1-64h0m2 70h0m0-42h0m0 93h0m1-192h0m0 291h0m1-101h0m0 94h0m0-114h0m1 4h0m0 1h0m2-34h0m3-143h0m0 271h0m3-98h0m1 44h0m1-142h0m0-100h0m1 17h0m1 141h0m1-28h0m0 19h0m1 77h0m0 23h0m1-124h0m0 26h0m0 13h0m1-94h0m0 96h0m2 102h0m0-13h0m0 40h0m1-195h0m0 9h0m1 77h0m0 13h0m0-42h0m0-47h0m1 63h0m0 168h0m2-43h0m0-69h0m0 122h0m1-280h0m2 125h0m1-3h0m0-32h0m1-117h0m1 78h0m0 13h0m1-17h0m0 35h0m0 180h0m1-94h0m1-128h0m2 122h0m1 22h0m1 64h0m1-105h0m2 24h0m1-167h0m1 124h0m1 42h0m0-86h0m1-40h0m1 77h0m1 14h0m2-171h0m2 118h0m0-143h0m0 232h0m1-30h0m0-111h0m0 234h0m3-127h0m1 75h0m0-113h0m0 65h0m0-125h0m1 85h0m0 41h0m1-15h0m0 28h0m1-217h0m0 127h0m0-36h0m0 53h0m3-67h0m0 35h0m0 135h0m1-82h0m0-105h0m0 78h0m1 100h0m0 24h0m1-162h0m0 152h0m2 44h0m1-128h0m1-10h0m0 85h0m2 27h0m0-220h0m1 56h0m0-105h0m1 158h0m0 141h0m0-310h0m1 39h0m1 125h0m0 79h0m1-223h0m2 98h0m1 140h0m0 44h0m0-292h0m2 138h0m2-129h0m0 187h0m1-71h0m0-75h0m0 64h0m1-3h0m0 168h0m0-268h0m3 147h0m1-42h0m1-28h0m1 47h0m1-152h0m0 184h0m1-19h0m0 22h0m2-163h0m1 244h0m0-257h0m1 203h0m0-88h0m2 107h0m1 108h0m0-214h0m1-26h0m0 52h0m1 108h0m0-120h0m1-28h0m0-55h0m0 223h0m0-269h0m1 255h0m4-80h0m0 93h0m2-61h0m2-86h0m2 145h0m0-248h0m1 179h0m1 66h0m0-34h0m1-214h0m0 274h0m1-166h0m2 175h0m0-296h0m1 5h0m1 245h0m0-65h0m1-66h0m1-24h0m0 178h0m2-99h0m0-108h0m0 24h0m1 90h0m0-15h0m0-12h0m0 115h0m1-126h0m2 76h0m1 72h0m0-46h0m1-49h0m0 42h0m1-194h0m1 226h0m1-157h0m0-67h0m1-5h0m0 250h0m0-119h0m1 49h0m1-164h0m0 96h0m0 115h0m2-127h0m0 114h0m2-127h0m0-30h0m3 172h0m0 12h0m2-122h0m1-28h0m1 3h0m0-122h0m1 110h0m1-7h0m1 150h0m1 16h0m0-169h0m0-143h0m1 85h0m1-45h0m0 113h0m1-105h0m1 276h0m0-92h0m0-54h0m1 117h0m0-95h0m1-175h0m1 216h0m0-183h0m1 13h0m0 154h0m2-24h0m0-159h0m2 164h0m0-101h0m2 20h0m0 17h0m3 174h0m5-162h0m0-75h0m1 157h0m0 102h0m1-224h0m0 106h0m1-22h0m1-32h0m1 75h0m0-45h0m0 123h0m4-212h0m1 194h0m0-34h0m1-36h0m0-180h0m2 156h0m0 66h0m0-235h0m2 244h0m0-99h0m1-60h0m1 80h0m1-25h0m2-65h0m0-60h0m1 97h0m0-66h0m0-52h0m1 146h0m2-119h0m1 37h0m0 110h0m1-77h0m1 139h0m0-174h0m1 143h0m0-48h0m1 40h0m1-89h0m0 87h0m0 19h0m3-34h0m0 17h0m0-146h0m0 159h0m0-84h0m7-12h0m0-761h0m4 973h0m2 8h0m0 76h0m2-113h0m1-33h0m0 49h0m1 16h0m1-61h0m1 178h0m0-137h0m1-27h0m1 31h0m0 68h0m1-53h0m1 12h0m1-5h0m0 69h0m2-93h0m0-64h0m1 155h0m0 37h0m1-91h0m1-28h0m1 2h0m0 29h0m1 107h0m0-135h0m0 100h0m3-30h0m1-26h0m0 28h0m0-83h0m0 75h0m1-14h0m0 3h0m0 45h0m0-87h0m0 35h0m3 84h0m0-151h0m1 189h0m1-140h0m1 8h0m0-29h0m1-31h0m0-20h0m1 81h0m1-30h0m1 86h0m1-5h0m2-104h0m2 106h0m0-68h0m0-17h0m1 14h0m2 38h0m2-62h0m0 71h0m0-19h0m1 88h0m0-20h0m2-42h0m1-96h0m1 91h0m0-39h0m7-61h0m0 61h0m2 15h0m1 70h0m2-119h0m1 66h0m2 55h0m0-100h0m1-14h0m0-22h0m0 43h0m0-26h0m4-12h0m0 45h0m1 34h0m0-44h0m1 15h0m3 39h0m2-66h0m1 55h0m0-14h0m1-10h0m2 34h0m1-18h0m0 13h0m0-34h0m2 11h0m1 16h0m0 9h0m0-110h0m1 126h0m0 68h0m0-36h0m1-19h0m0-124h0m1 217h0m0-100h0m1 124h0m1-96h0m0-123h0m1 71h0m0 43h0m0-88h0m0 116h0m2 92h0m1-49h0m0 174h0m2-159h0m3-42h0m0 52h0m1 181h0m1-238h0m0 32h0m1-14h0m3 49h0m0 24h0m1 23h0m1-56h0m2-1h0m0-41h0m0 113h0m3-1h0m0-100h0m0 63h0m1 47h0m0 65h0m2-130h0m4 44h0m1-27h0m1 4h0m3 24h0m0-13h0m0 26h0m0-20h0m3 150h0m1-164h0m0 49h0m1 30h0m2-102h0m4 126h0m4-744h0m2 107h0m0 144h0m0 9h0m1-184h0m0 25h0m1 92h0m0-138h0m0 128h0m1-189h0m3 137h0m1 5h0m0-7h0m0-93h0m2 139h0m0-137h0m0 104h0m1-34h0m0 29h0m1 66h0m0-23h0m0-56h0m1 24h0m0 76h0m0-90h0m0 38h0m1 4h0m0-113h0m1-56h0m2 246h0m1-160h0m1 180h0m0-131h0m0-6h0m2 34h0m0-72h0m1 176h0m1-52h0m0-144h0m2-32h0m2 269h0m1 25h0m0-189h0m1 104h0m0 110h0m0-172h0m1 115h0m1-179h0m1 68h0m1 7h0m2-78h0m0 24h0m1 23h0m1-75h0m1 111h0m1 122h0m0-309h0m0 145h0m1 39h0m2 70h0m2-20h0m1-155h0m1 119h0m0 84h0m0-96h0m1 56h0m1-68h0m0-1h0m0-50h0m0 19h0m1 98h0m3-128h0m0 118h0m3-29h0m1-19h0m4 59h0m1 73h0m0-108h0m0-114h0m1 26h0m1 40h0m0 75h0m1-44h0m2-47h0m4-21h0m0 52h0m1-40h0m1 107h0m1-120h0m1 128h0m0-163h0m3 15h0m0 73h0m1-35h0m0 35h0m1-110h0m2 96h0m0 76h0m1-78h0m0-23h0m2-4h0m0 54h0m0-44h0m0-46h0m2 176h0m0 5h0m2-132h0m0 22h0m1-102h0m1 120h0m0-69h0m1 103h0m4-60h0m1 52h0m1 9h0m0-158h0m2 12h0m1 123h0m1 16h0m2-8h0m0-137h0m3 256h0m0-176h0m1-2h0m1-33h0m1-7h0m0 51h0m1 51h0m1-7h0m1-37h0m0 32h0m1 79h0m1-83h0m1-81h0m0 240h0m1-160h0m0 79h0m2-77h0m0 85h0m1-136h0m0-88h0m1 126h0m1 33h0m0 18h0m2-86h0m0 80h0m2 48h0m0-48h0m1-61h0m1 36h0m0-71h0m1 2h0m1-16h0m0 77h0m0-63h0m1 128h0m4-102h0m0 19h0m1 39h0m1-20h0m0 21h0m0 11h0m2-48h0m1-21h0m1 148h0m0-226h0m1 91h0m3 16h0m2 65h0m2-44h0m1-114h0m1-56h0m1 236h0m0-257h0m1 151h0m0-66h0m1 162h0m0-22h0m1-54h0m1 18h0m1-60h0m1 72h0m0-39h0m1 65h0m1 105h0m0 34h0m1 32h0m3-30h0m0 16h0m1 11h0m0 19h0m0-99h0m1 38h0m0 35h0m1-45h0m2 114h0m0-74h0m1 1h0m1-81h0m0 84h0m2-30h0m0-103h0m1 143h0m0-97h0m2-9h0m0 100h0m2-40h0m1 66h0m0-58h0m1 136h0m0-147h0m1 79h0m1-12h0m0 11h0m3-131h0m0 129h0m0-87h0m2 66h0m0-94h0m2 91h0m0-38h0m1 110h0m5-98h0m0-24h0m1-110h0m0 124h0m1-105h0m2 79h0m0 8h0m1-44h0m2 115h0m1-120h0m0-155h0m1 204h0m1-27h0m1-7h0m1 11h0m2 48h0m2-287h0m1 272h0m0-46h0m0 66h0m1 9h0m1-209h0m0 123h0m2-164h0m0 206h0m1-19h0m1-129h0m1-58h0m1 156h0m0-150h0m0 162h0m0-50h0m2 71h0m0 52h0m0-174h0m1 20h0m0 48h0m1-113h0m1 49h0m0 67h0m0 21h0m1-68h0m1 122h0m1-12h0m0-49h0m1-33h0m0-6h0m0 6h0m1-47h0m0 129h0m1-43h0m1-168h0m4 164h0m1 24h0m0-27h0m1-9h0m0-12h0m1-27h0m3 0h0m0 29h0m0 0h0m1 8h0m1-109h0m1 201h0m4-113h0m1 50h0m2-60h0m0-47h0m2 41h0m1 97h0m0 89h0m0-165h0m4-53h0m0 31h0m0 155h0m1-45h0m1-65h0m1 96h0m0-115h0m2-45h0m0 29h0m0-26h0m0-37h0m2 119h0m1-126h0m0 98h0m0-113h0m3 121h0m0-124h0m1 125h0m0-85h0m1 68h0m0 56h0m1-47h0m0 42h0m0-48h0m5 94h0m0-9h0m1-86h0m0-73h0m1 202h0m0-55h0m0-48h0m1-6h0m0 15h0m2-75h0m0-10h0m1-22h0m3 72h0m1 52h0m1-145h0m0 140h0m2-170h0m0 68h0m4-97h0m0 125h0m1 141h0m1-59h0m0-16h0m1-13h0m0 0h0m2-98h0m1 126h0m2-48h0m0-188h0m1 237h0m1-114h0m1 141h0m0-168h0m2 78h0m0 16h0m3 105h0m0-280h0m2 255h0m0 30h0m1-114h0m0-77h0m0 52h0m0 100h0m1-65h0m0-42h0m1-15h0m1 101h0m0-79h0m0 135h0m1-188h0m2 62h0m2 70h0m1-21h0m1-48h0m1 86h0m3-70h0m1-60h0m0 101h0m0-50h0m6 46h0m2-14h0m0-137h0m1 102h0m1 15h0m0-33h0m0 132h0m2-178h0m2 157h0m0-55h0m0 92h0m0-73h0m1 16h0m2-81h0m2 151h0m1-160h0m1-111h0m0 211h0m1-51h0m0-115h0m1 123h0m1-18h0m1-90h0m0 62h0m0-104h0m0 150h0m1-91h0m0 76h0m1-123h0m0 109h0m0-52h0m1-1h0m0-76h0m1 175h0m4-52h0m1-44h0m1-52h0m1 140h0m0 9h0m0 75h0m3-22h0m0-127h0m2 93h0m0-96h0m2 95h0m2-65h0m0 0h0m1 18h0m1-89h0m1-64h0m0 90h0m1-50h0m2 168h0m0-92h0m2 54h0m1-63h0m0 45h0m0-69h0m3 67h0m0-17h0m1-66h0m1 26h0m0 7h0m0 92h0m0-32h0m1-88h0m0-120h0m0 131h0m1 53h0m1-13h0m0-119h0m1 147h0m1-70h0m0-5h0m1-42h0m1 63h0m2-28h0m0-26h0m1 168h0m1-126h0m0 12h0m1 83h0m2-109h0m1 128h0m0 66h0m0-121h0m1-59h0m0-55h0m2-44h0m0 243h0m1-225h0m1 116h0m2-103h0m1-26h0m2 172h0m0-113h0m0 167h0m0-105h0m1-52h0m0 114h0m2-71h0m0 54h0m1 33h0m3-102h0m1 107h0m0-124h0m0 111h0m1-86h0m3 66h0m0-73h0m3 58h0m0-40h0m3 2h0m5-31h0m5 113h0m0-90h0m2-30h0m1 89h0m1 70h0m1-53h0m1-71h0m1 10h0m1-18h0m0 131h0m0 17h0m0-157h0m1 82h0m1-159h0m6 51h0m2-65h0m2 64h0m1-19h0m0-286h0m0 379h0m1-79h0m0-131h0m1 56h0m0 76h0m2-397h0m1 459h0m0-256h0m1 180h0m0-316h0m0 357h0m1-64h0m1 109h0m0-17h0m0-400h0m0 212h0m0-149h0m5 389h0m1-41h0m2-25h0m0 72h0m1-115h0m1-285h0m1 324h0m1-315h0m0 240h0m1 53h0m7-396h0m0 173h0m3-115h0m2 57h0m4 25h0m2-127h0m0 415h0m0-12h0m1-29h0m0-288h0m0-26h0m0 338h0m1-409h0m1 353h0m1 75h0m1-23h0m0-35h0m1 4h0m1-284h0m0 208h0m1-19h0m0 106h0m2-83h0m3-8h0m0 77h0m2 38h0m1-62h0m1 4h0m0 36h0m1-16h0m0-52h0m1 28h0m3-5h0m2 85h0m2 157h0m4-57h0m1 52h0m0-21h0m0-35h0m1 45h0m1-68h0m1 82h0m0-34h0m1-98h0m3 69h0m1 7h0m0-29h0m1 41h0m0 16h0m0-10h0m1 34h0m0-59h0m0 54h0m2-9h0m0-70h0m1-26h0m1 11h0m0 17h0m1 113h0m0-115h0m1 110h0m2-107h0m1 56h0m1-26h0m2 61h0m2-122h0m1 69h0m0 41h0m2 5h0m1-120h0m0 76h0m3 116h0m0-308h0m1 211h0m0 18h0m0-80h0m3 46h0m1-32h0m1 6h0m0 4h0m0-15h0m1-8h0m1 127h0m1-3h0m1-160h0m0 82h0m0-61h0m0 40h0m1 13h0m0 17h0m0-65h0m1 60h0m0-28h0m1-72h0m0 162h0m1-223h0m1 252h0m1-154h0m1 72h0m1 48h0m3-93h0m1 49h0m0-51h0m1-28h0m0 54h0m0 54h0m0 18h0m1-106h0m1 116h0m2-95h0m0 56h0m1 5h0m1-18h0m1-53h0m1 53h0m0-2h0m1-22h0m1 12h0m1 3h0m1-14h0m0-77h0m1 105h0m1-87h0m0 27h0m1 6h0m1-26h0m0 40h0m2 6h0m0-19h0m1 76h0m0-84h0m2 57h0m1-79h0m1 11h0m2 13h0m2-62h0m0 91h0m1-29h0m0 44h0m0-34h0m2-31h0m3-32h0m0 164h0m1-119h0m0-82h0m1 60h0m0-46h0m1 84h0m0-34h0m4-14h0m0 70h0m0 45h0m0-44h0m1-13h0m0-118h0m1 19h0m2 74h0m0 7h0m1-18h0m0-47h0m2 124h0m0-79h0m0 73h0m0-50h0m1-53h0m0 181h0m2-141h0m1 25h0m1 30h0m1-10h0m1-29h0m0-14h0m3 120h0m0-100h0m3-59h0m1 50h0m1-26h0m0 14h0m0 8h0m2 106h0m2-127h0m3 24h0m0-4h0m0 79h0m1-136h0m1 181h0m1-303h0m0 183h0m2 149h0m1-82h0m0-183h0m1 122h0m2 34h0m0 63h0m2-158h0m1 107h0m0 2h0m0-102h0m1 78h0m1 21h0m1-69h0m2 56h0m0-161h0m0 150h0m1-28h0m0 57h0m2 3h0m1-66h0m6 69h0m0 39h0m1-39h0m1-177h0m2 37h0m0 33h0m0 95h0m2 63h0m3-27h0m0-124h0m1 83h0m0-58h0m1-102h0m0 152h0m0 20h0m1-52h0m2-5h0m0-112h0m0-16h0m0 149h0m1 3h0m1 94h0m2-140h0m0-33h0m1-31h0m0 130h0m0 82h0m2-238h0m1 109h0m1-161h0m1 144h0m0 82h0m0-83h0m1 79h0m1 9h0m0 45h0m4-263h0m1 296h0m1-95h0m1-140h0m1 122h0m0 105h0m0-68h0m1-34h0m0-70h0m1 60h0m2 112h0m1 30h0m0-92h0m0-132h0m0 99h0m1-61h0m0-59h0m1 60h0m3 56h0m0 54h0m0-166h0m5-66h0m1-8h0m3-63h0m0 78h0m4-20h0m1 20h0m1-187h0m2 93h0m1-49h0m0-40h0m1 211h0m1-79h0m1 57h0m0-58h0m2 35h0m0 36h0m1 18h0m1-2h0m1 18h0m0-26h0m0 25h0m1-74h0m1-145h0m1 198h0m1-52h0m0-59h0m2-33h0m2 108h0m1 37h0m1-3h0m1 50h0m0-21h0m3 29h0m3-33h0m1-52h0m0 0h0m0 74h0m1-131h0m0 99h0m1-2h0m0 20h0m1-60h0m1 33h0m1-75h0m0 116h0m0-68h0m1 100h0m0-50h0m1-50h0m2 85h0m0-62h0m1 40h0m1 36h0m0-63h0m0 11h0m0-53h0m1 7h0m2 53h0m0-104h0m3 74h0m3-30h0m0-61h0m2 110h0m0 5h0m1 14h0m0-66h0m0 30h0m2 124h0m1-292h0m1 105h0m0-21h0m0 97h0m2-6h0m1-40h0m0-53h0m2-6h0m1 213h0m1-262h0m1 63h0m1-14h0m4 18h0m0 10h0m0 208h0m2-29h0m1-313h0m1 121h0m0-50h0m1 250h0m1-178h0m6 184h0m0-17h0m0 75h0m2-120h0m1 31h0m1-43h0m1 11h0m3-12h0m1 78h0m2 39h0m0-142h0m1 119h0m3-94h0m1 14h0m2 99h0m2-275h0m1 301h0m1-150h0m0 15h0m1 51h0m0-82h0m2 189h0m0-201h0m1 71h0m1-12h0m2 139h0m2-106h0m2-45h0m1-38h0m0 88h0m5-200h0m3 237h0m0-32h0m1-40h0m1-58h0m1 122h0m0-37h0m2 56h0m1-15h0m0-70h0m0 44h0m0 90h0m2-119h0m1-64h0m2 193h0m0-103h0m1-12h0m1 43h0m0-67h0m0 112h0m1-149h0m1 101h0m2 25h0m1-58h0m0-82h0m1 162h0m1 54h0m2-136h0m0 2h0m1-17h0m1 45h0m1-37h0m0-36h0m0 39h0m0 2h0m1 59h0m1-219h0m0 154h0m0 28h0m4 33h0m2-70h0m2 106h0m1-89h0m1 34h0m0-20h0m3-57h0m1 59h0m2-130h0m2 187h0m0-46h0m3-19h0m0 114h0m1-148h0m2-71h0m0 142h0m0-83h0m0 3h0m1 17h0m1-49h0m1 89h0m2 35h0m5-116h0m0 53h0m3-71h0m0 87h0m2-53h0m0 79h0m1-89h0m1 197h0m0-149h0m0-1h0m2-195h0m2 191h0m2-23h0m2 66h0m0-111h0m3 128h0m0-33h0m0 11h0m3 66h0m2 20h0m1-128h0m1-8h0m2 70h0m0-72h0m1 26h0m0 47h0m0-69h0m1 0h0m0-54h0m1 100h0m0-85h0m2-9h0m1 69h0m1-3h0m1 21h0m1-27h0m0 15h0m1 93h0m1-99h0m0 9h0m2-111h0m1 133h0m1-88h0m1 105h0m1-127h0m2-6h0m1 57h0m1 53h0m1-70h0m0 71h0m0-81h0m3 41h0m2 59h0m1 37h0m0 29h0m1-100h0m0-79h0m1 23h0m0-5h0m1-87h0m1 191h0m0-81h0m0-95h0m0 61h0m2-6h0m1 103h0m1-1h0m0-152h0m0 236h0m1-277h0m0 10h0m2 22h0m1-116h0m0-19h0m2 123h0m0-34h0m1-62h0m3 45h0m2 106h0m1-211h0m2-44h0m0 14h0m1 124h0m0 2h0m0 92h0m0-206h0m1 33h0m0-84h0m1 39h0m0 245h0m1-131h0m0-54h0m1 106h0m1-207h0m1 228h0m0-323h0m1 112h0m1 124h0m0-262h0m0 105h0m4 81h0m1 73h0m2 74h0m1-179h0m0-108h0m0 138h0m1 36h0m2-13h0m0 43h0m1 70h0m0-30h0m1-99h0m1 76h0m0 77h0m1 15h0m0-244h0m0 204h0m1-90h0m1 94h0m2 76h0m2-92h0m0-41h0m0-42h0m1-14h0m3 20h0m1 95h0m0-241h0m1 111h0m0 91h0m2 19h0m2 55h0m2-166h0m1-8h0m3 7h0m0 77h0m1 2h0m0-230h0m2 159h0m0 20h0m0-214h0m1 210h0m1-21h0m2 24h0m0-42h0m1 119h0m2-229h0m0 133h0m1-4h0m2 95h0m0-133h0m0 38h0m0 15h0m1-34h0m0 51h0m2 57h0m1-102h0m1 118h0m0 74h0m1-319h0m0 222h0m1-20h0m0-110h0m0 27h0m2 173h0m0 11h0m1-7h0m0-113h0m0 89h0m1-101h0m1 110h0m0-29h0m1-25h0m1 4h0m1-80h0m1 68h0m0-154h0m1 0h0m0 176h0m1-80h0m2-210h0m1 121h0m1 206h0m0-87h0m1 91h0m0-21h0m1-55h0m1-130h0m0 80h0m0-11h0m1-12h0m1 59h0m1-44h0m0-67h0m1 203h0m3-242h0m1 186h0m1 57h0m1-149h0m0 7h0m1 2h0m0 148h0m0-150h0m1 86h0m0-36h0m1-17h0m0 98h0m1 60h0m1-192h0m1-108h0m0 176h0m1-140h0m1-79h0m0 232h0m2-57h0m0 40h0m2 52h0m1-43h0m1 7h0m0-44h0m1-61h0m1 132h0m0-70h0m1 127h0m1-182h0m1-146h0m2 33h0m2 127h0m1 185h0m0-139h0m1-57h0m0 171h0m0-164h0m2 40h0m0 31h0m0 5h0m1-17h0m1 35h0m1-127h0m0 108h0m1-86h0m1 195h0m0-148h0m1 73h0m1-142h0m0 156h0m3-23h0m1-100h0m2 43h0m0 14h0m1-117h0m1 49h0m0 8h0m2 35h0m1-18h0m0 0h0m2 77h0m1-190h0m1 20h0m0-7h0m2-65h0m1-26h0m1 174h0m0 2h0m0 74h0m0-76h0m1-26h0m4 126h0m0-85h0m0 120h0m1-136h0m2-169h0m0 406h0m0-90h0m1-72h0m1 16h0m0-37h0m2-61h0m1-48h0m0 166h0m1 5h0m0-101h0m2 185h0m1-136h0m0-78h0m0 77h0m0-84h0m2 225h0m1-96h0m0-181h0m0 143h0m1-32h0m1 44h0m0-26h0m1 39h0m0-121h0m0 17h0m1 29h0m0 99h0m0-108h0m2 16h0m1-52h0m1 103h0m1 47h0m0-3h0m0-214h0m0 168h0m0 62h0m1-67h0m2-26h0m5-182h0m2 167h0m0 32h0m3 14h0m1 51h0m0-52h0m0 24h0m2-173h0m1 119h0m1-137h0m0 139h0m2 103h0m0-147h0m1 83h0m1-11h0m0 19h0m0-120h0m1 52h0m2 59h0m1-20h0m0 11h0m1 135h0m0-123h0m1-26h0m0 1h0m2 57h0m0-79h0m4-157h0m0 269h0m1-117h0m1-37h0m0-27h0m1 83h0m1 67h0m1-124h0m2-69h0m1-20h0m0 81h0m0 102h0m1-33h0m1-176h0m0 145h0m0 75h0m1-111h0m2 186h0m1-156h0m0 119h0m1-96h0m1-33h0m1 77h0m0-50h0m0-59h0m0 8h0m1-105h0m2 254h0m3-24h0m4-108h0m1 196h0m1-63h0m1-44h0m2-66h0m0 188h0m0-66h0m2-2h0m1-57h0m0 172h0m1-139h0m0 51h0m2-106h0m0 22h0m1-3h0m0 11h0m0 145h0m0-101h0m1-41h0m4-80h0m0 162h0m1-76h0m0 88h0m1-271h0m0 261h0m1-62h0m1 124h0m1 5h0m0-130h0m0-87h0m1 182h0m1-39h0m1-239h0m0 306h0m2-210h0m2 130h0m0-122h0m2 190h0m0 25h0m1-51h0m0-195h0m0 120h0m1 40h0m1-33h0m1 92h0m0-131h0m1 38h0m1-16h0m0 24h0m2 2h0m1 4h0m1 5h0m1 41h0m0-23h0m1 48h0m1 24h0m1-79h0m2-89h0m1 42h0m1 145h0m2-47h0m0-75h0m0-111h0m2 145h0m0 48h0m1-116h0m1 114h0m1-1h0m3-27h0m1 54h0m1-152h0m1 175h0m0-154h0m0 45h0m0 10h0m1-44h0m1 154h0m0-9h0m1-133h0m0-95h0m1 159h0m1-38h0m1 60h0m0-78h0m1 130h0m0-49h0m1-109h0m0 21h0m2-140h0m0 193h0m1 16h0m1 35h0m0-151h0m0 63h0m0-40h0m1 84h0m0-24h0m0 60h0m1-113h0m0-24h0m1 63h0m0-52h0m1-64h0m0 172h0m0-65h0m0-88h0m2 92h0m0-153h0m0 211h0m1-240h0m0 160h0m3 17h0m0 95h0m1-77h0m1-91h0m1 26h0m1 81h0m0-71h0m1-24h0m2 74h0m1-49h0m0 173h0m1-114h0m0-156h0m1 97h0m0 186h0m1-131h0m0 78h0m0-58h0m3-190h0m0 174h0m0-4h0m0-216h0m0 159h0m2 24h0m0-211h0m0 234h0m0 6h0m0 30h0m1-42h0m0-3h0m2 18h0m1 73h0m0-117h0m1-82h0m0 223h0m2-169h0m2-54h0m0 206h0m0-64h0m1-18h0m1-44h0m1-64h0m1 57h0m1 8h0m1-57h0m0 176h0m1-247h0m1 68h0m3 44h0m0-16h0m0 99h0m1 0h0m0-61h0m1-78h0m1 73h0m1 1h0m0-83h0m0 177h0m2-110h0m0 93h0m0 57h0m0-108h0m1-52h0m2 79h0m0 0h0m1 79h0m2-1h0m0-140h0m1 62h0m0 72h0m0 34h0m1-67h0m1-63h0m3-99h0m1 60h0m2 166h0m2-113h0m1-90h0m0 138h0m0-94h0m1-69h0m0 106h0m0 3h0m1 58h0m2-137h0m0-54h0m0 48h0m3-29h0m3 131h0m0-54h0m1-17h0m0 173h0m1-84h0m3 54h0m0-215h0m1 53h0m4 176h0m0-145h0m1 58h0m1 87h0m2-21h0m0-93h0m0 58h0m1-140h0m0 173h0m1-38h0m0-20h0m0-166h0m2 137h0m2-4h0m0-63h0m1 95h0m0 100h0m0-106h0m2-121h0m1 80h0m1 150h0m4-254h0m1 117h0m1 41h0m3-101h0m0 97h0m1-141h0m1 69h0m1-127h0m0 222h0m1-62h0m2 73h0m1 22h0m1-57h0m0 43h0m1-162h0m0 21h0m1 71h0m1-125h0m1 122h0m4 129h0m0-213h0m1 73h0m1-128h0m1 58h0m1-57h0m1 141h0m0-75h0m1 88h0m1-32h0m0-116h0m1 67h0m0 66h0m0-68h0m3 4h0m2 161h0m1-181h0m5 21h0m2 6h0m1-53h0m0 24h0m0 149h0m2-140h0m1-41h0m1-20h0m0 147h0m0 19h0m1-38h0m1-15h0m1 40h0m2-136h0m1 241h0m1-199h0m1 36h0m0 11h0m0 57h0m1-18h0m1-28h0m0-88h0m1 66h0m0-63h0m1-10h0m2 82h0m1-12h0m0 44h0m1 15h0m1-12h0m0-117h0m3 165h0m2-63h0m4 3h0m0-73h0m1 89h0m0-11h0m1 67h0m4-170h0m0-20h0m1 102h0m1 174h0m1-169h0m2 44h0m1 44h0m2-17h0m1-186h0m1 97h0m1-21h0m2 61h0m0 35h0m1 103h0m2-64h0m2-152h0m2-64h0m1 192h0m2-113h0m0 28h0m33 195h0m0-21h0m1 123h0m0-46h0m2 99h0m6-133h0m0 40h0m0-21h0m1 120h0m0-225h0m1 181h0m0 84h0m1-74h0m5-206h0m2 126h0m3-95h0m3 120h0m1 29h0m2-242h0m1 170h0m3 8h0m2 124h0m1 16h0m0-107h0m2 19h0m0 45h0m2-35h0m0-82h0m3 41h0m3 136h0m1-284h0m0 102h0m1 64h0m1 118h0m1-98h0m0-29h0m0 32h0m1-19h0m1-86h0m1-15h0m0 4h0m1 64h0m0-3h0m3 9h0m0-3h0m2 128h0m0-97h0m0 94h0m2-322h0m1 220h0m1 84h0m0-119h0m0 24h0m0-170h0m0 212h0m0-147h0m1 106h0m0-239h0m1 47h0m0-17h0m1-9h0m1 150h0m1-208h0m1-6h0m0 173h0m1-131h0m3 20h0m5 107h0m2-78h0m1 67h0m1 87h0m0-197h0m2-72h0m6 143h0m3-15h0m2 35h0m1 74h0m1-232h0m0 79h0m2 50h0m0 42h0m1-33h0m1-23h0m1-79h0m0 11h0m0-87h0m1 176h0m1-137h0m1 130h0m1-97h0m0 39h0m3-56h0m0 94h0m0 87h0m2-98h0m3 35h0m2-66h0m0 42h0m1 49h0m2-223h0m1 183h0m1-97h0m0 37h0m2 27h0m1-88h0m3 20h0m0 150h0m1 14h0m0-173h0m1-5h0m0 183h0m1-144h0m1-83h0m0 142h0m1-7h0m0-135h0m1 115h0m1-54h0m0 141h0m3-41h0m0-117h0m1 24h0m1 79h0m1 48h0m2-8h0m0-113h0m3-97h0m0 257h0m0-45h0m1-92h0m1-18h0m1 150h0m2-94h0m1-52h0m3 9h0m0 63h0m0-133h0m0 50h0m1-14h0m0 64h0m1 76h0m0-238h0m1 111h0m2 72h0m1-36h0m1 66h0m1-68h0m3 15h0m1 45h0m0 73h0m1-162h0m1 65h0m0-4h0m1 37h0m2-15h0m0 31h0m0 34h0m1-80h0m1-6h0m1 77h0m0-184h0m4 160h0m1-96h0m0 49h0m1-42h0m7 223h0m1-57h0m0 3h0m0 70h0m1-170h0m1 62h0m0 159h0m0-99h0m2-95h0m1 151h0m1-77h0m0 194h0m0-179h0m1-46h0m3 178h0m0-35h0m1-92h0m0 141h0m4-10h0m1-105h0m5 60h0m0-106h0m2 75h0m0 68h0m1 9h0m1-69h0m1-40h0m0 143h0m0-204h0m0 121h0m0-48h0m0 70h0m1-45h0m0 10h0m0 155h0m1-169h0m0 11h0m3 22h0m2-18h0m3-69h0m0 3h0m2 230h0m0-208h0m0 215h0m0-161h0m1-90h0m1-39h0m2 36h0m0 174h0m1-69h0m0-33h0m1 32h0m2-118h0m0 105h0m1 56h0m2-199h0m0 228h0m2-136h0m0 53h0m0-100h0m1 147h0m2-200h0m1 69h0m2-43h0m1 44h0m0 68h0m2-28h0m1-93h0m1 115h0m1-32h0m1 76h0m3 98h0m1-194h0m1 8h0m1-7h0m3 65h0m1 52h0m1 11h0m0-68h0m1-44h0m1-15h0m0-33h0m1-61h0m1 21h0m1 125h0m1-76h0m0-27h0m0 186h0m5-111h0m0 84h0m1 27h0m0-151h0m0 15h0m0 75h0m1-78h0m2 146h0m1-201h0m2 6h0m0 143h0m3-141h0m1 154h0m0-115h0m1 67h0m1-5h0m0 50h0m1-90h0m1-46h0m0 171h0m1-22h0m0-217h0m1 91h0m2 17h0m0-39h0m0 33h0m3 3h0m2 106h0m0-146h0m1 4h0m0 53h0m1 68h0m2-165h0m0 71h0m1 66h0m1-33h0m0-66h0m2 196h0m1-86h0m0 10h0m1-180h0m0 221h0m1-104h0m0 136h0m1-26h0m0 34h0m2-109h0m1-68h0m1 129h0m2-47h0m1-56h0m0 63h0m1-107h0m1 63h0m0 63h0m1 48h0m1-47h0m1-149h0m2 9h0m1-17h0m2-120h0m2 34h0m0-56h0m1 3h0m0 111h0m0-141h0m0 74h0m1-77h0m0 27h0m1 5h0m0 70h0m1-48h0m0-111h0m1 19h0m1 153h0m0-100h0m1 50h0m0 3h0m1 11h0m1-37h0m0 59h0m0-82h0m1 34h0m1 17h0m0-22h0m1-50h0m0 122h0m0-44h0m2-20h0m0 57h0m1-41h0m1 28h0m0-47h0m0 113h0m1-92h0m1-14h0m0 41h0m1-87h0m1 67h0m0-39h0m1-3h0m1-64h0m3 77h0m1 0h0m1-40h0m1 25h0m0-7h0m0-27h0m3 38h0m2-39h0m0 78h0m0 51h0m2-159h0m0-20h0m0 89h0m0 65h0m1-60h0m1-4h0m1 13h0m0-55h0m1-9h0m0-131h0m3 157h0m2 89h0m0-23h0m0-122h0m2 99h0m4-81h0m2 76h0m0-12h0m0-8h0m1 104h0m0-6h0m1-143h0m1 48h0m0 44h0m0 40h0m1-11h0m0-114h0m0 126h0m1-30h0m0 127h0m2-274h0m1 164h0m0 119h0m1-150h0m1-67h0m1 2h0m0 209h0m1-24h0m2-144h0m0-118h0m1 161h0m0 75h0m0-74h0m0-13h0m0-45h0m1 25h0m1 124h0m1-154h0m1-29h0m2 114h0m1 8h0m0-119h0m0-73h0m2 212h0m1-213h0m2 38h0m1 230h0m0-121h0m1-216h0m2 57h0m3 101h0m0 105h0m0-95h0m0 97h0m2-7h0m2-118h0m3-55h0m0 90h0m1 117h0m0-104h0m1-80h0m0 141h0m0 2h0m1-93h0m0-106h0m1 100h0m2 6h0m2-6h0m0-100h0m1 207h0m1-186h0m0 192h0m1-113h0m1-36h0m2 0h0m0 17h0m0 33h0m1-3h0m0 11h0m1-34h0m1-17h0m1 61h0m1-86h0m1 56h0m2 12h0m0 19h0m1 60h0m0-180h0m2 81h0m1 8h0m1-5h0m0 21h0m1 38h0m0-168h0m1 54h0m1 9h0m0-15h0m1 29h0m2 71h0m0-136h0m1 104h0m1 139h0m0-223h0m2 194h0m1-130h0m1 0h0m1 2h0m1-29h0m1 25h0m2 119h0m2-122h0m0 24h0m1-57h0m2 229h0m0-275h0m1 114h0m0-64h0m0 11h0m2 60h0m1 94h0m0-109h0m2 128h0m2-194h0m0 152h0m0-28h0m0-39h0m1-15h0m0-99h0m1 99h0m2 106h0m0 15h0m1-209h0m0 41h0m1-98h0m0 211h0m0-165h0m0 105h0m1 56h0m1-49h0m0 79h0m1-65h0m1 17h0m1 13h0m2-29h0m0-104h0m1 76h0m1 102h0m0-137h0m2 22h0m0-7h0m3 38h0m1-30h0m0 24h0m2-53h0m0-4h0m2 116h0m0-112h0m2 126h0m0-243h0m0 63h0m1 86h0m2-77h0m1 1h0m1 122h0m0 30h0m1-108h0m0-55h0m0 82h0m2 84h0m0-119h0m1 70h0m2-18h0m1 6h0m1-40h0m0 36h0m0 15h0m1-42h0m0 34h0m0-31h0m1-59h0m2 35h0m1-24h0m1-6h0m1 42h0m0 59h0m0-77h0m3 158h0m1 42h0m0 16h0m1-15h0m2-20h0m1-32h0m1 92h0m3-185h0m0 160h0m1 130h0m2-35h0m1-77h0m2 49h0m0-82h0m0-64h0m1 45h0m1-36h0m2-5h0m0 17h0m1 29h0m0-50h0m2 19h0m2-20h0m1 11h0m1 133h0m1-74h0m1-67h0m1 55h0m0 37h0m0-61h0m1 24h0m0 56h0m1-7h0m0 1h0m1-137h0m0 87h0m1-60h0m2 46h0m0-71h0m1-21h0m2 165h0m2-162h0m2 129h0m2-9h0m0-47h0m1-38h0m1 105h0m0-114h0m2 12h0m1 46h0m0-57h0m1 117h0m0 34h0m1-48h0m1-51h0m0 95h0m0-23h0m1-58h0m0-25h0m1 44h0m1 57h0m0-121h0m1 94h0m2-11h0m0-63h0m1-88h0m1 119h0m0-70h0m0 188h0m1-128h0m1-148h0m1 149h0m1 29h0m0-33h0m1 39h0m0-33h0m1-37h0m1-1h0m0-1h0m0-5h0m1 51h0m1 30h0m3-88h0m1-10h0m1 87h0m1-105h0m0 56h0m1-44h0m2 39h0m1-29h0m1-38h0m0 71h0m1-7h0m1 41h0m0-101h0m0 87h0m2-127h0m5 63h0m1 31h0m1 45h0m3 19h0m1-39h0m0-26h0m1 68h0m1-97h0m0 12h0m1 26h0m0 15h0m1 77h0m0-113h0m1-67h0m2 171h0m1-98h0m1 4h0m1 70h0m1-66h0m0 8h0m2-84h0m1 116h0m0 60h0m1-95h0m0-31h0m2 74h0m0 45h0m1-61h0m0-27h0m1 94h0m1-45h0m1 69h0m0-102h0m1 114h0m1-212h0m1-35h0m1 12h0m0 253h0m0-30h0m1-201h0m0 129h0m2 39h0m1-100h0m1 88h0m1-170h0m0 131h0m2-8h0m1 72h0m2 57h0m1-164h0m0 86h0m1 11h0m0-54h0m0 46h0m0-35h0m1 100h0m2-108h0m2-37h0m4-27h0m1 53h0m1 3h0m2 27h0m2-90h0m1-71h0m1-4h0m1 31h0m0 188h0m0 27h0m0-57h0m1 104h0m0-192h0m4-39h0m1 88h0m0-7h0m1 8h0m0-13h0m0-47h0m1 15h0m0 83h0m0-188h0m1 31h0m1 240h0m1-116h0m0 107h0m2-32h0m2-164h0m1 28h0m1 3h0m0-9h0m0 80h0m1 10h0m0-20h0m4-99h0m0 141h0m1-15h0m2-55h0m0 25h0m0-98h0m0 245h0m1-314h0m1 165h0m0-58h0m1-56h0m1 135h0m1-170h0m2 125h0m0-52h0m0 21h0m1 40h0m0-130h0m0 162h0m1-144h0m1 133h0m2-73h0m5 85h0m4 8h0m1 119h0m0-259h0m0 101h0m0-140h0m1 133h0m0 107h0m1 81h0m1-268h0m30-38h0m1 4h0m0-83h0m0 133h0m2-89h0m0-4h0m0 23h0m0 55h0m2 6h0m3-50h0m2-53h0m3 100h0m1-91h0m0 73h0m1 91h0m0-18h0m0 10h0m1-167h0m1 111h0m1-91h0m0 57h0m1 45h0m1-86h0m1 43h0m1-56h0m0 129h0m2-118h0m0 83h0m1-3h0m2-130h0m2 95h0m0 27h0m1-162h0m0 129h0m1-37h0m4 12h0m0 9h0m0-39h0m0 39h0m1 6h0m0-3h0m2-23h0m2 7h0m0-83h0m1 129h0m3 6h0m2 1h0m1-118h0m1 156h0m1 69h0m0-74h0m1-24h0m0-91h0m0 122h0m1-99h0m0 31h0m1 48h0m0-68h0m0 55h0m0-25h0m2-35h0m0 55h0m1-157h0m0 79h0m0-95h0m7 572h0m1-163h0m4 60h0m5 69h0m0-13h0m2-19h0m1 60h0m0-69h0m1 54h0m2-62h0m1 87h0m2 76h0m3 11h0m2-272h0m3 116h0m0 41h0m4-196h0m1 205h0m1 107h0m2-111h0m5-17h0m8 3h0m1 3h0m1-13h0m1-6h0m1-444h0m1 11h0m1 102h0m0-176h0m1 178h0m2-79h0m1-6h0m1 4h0m1-36h0m2-23h0m1-40h0m0 124h0m2-49h0m0 10h0m1-103h0m3 230h0m1-126h0m0 14h0m1 2h0m1 14h0m2 54h0m2-17h0m2-4h0m0 57h0m1-90h0m2-113h0m3 81h0m1 1h0m0 27h0m1 82h0m28-209h0m0-40h0m4 0h0m1-160h0m1 136h0m4-3h0m1 68h0m0 71h0m1-197h0m0 61h0m1 104h0m1 2h0m0-20h0m3-89h0m3-85h0m2 86h0m3-159h0m0 116h0m1 214h0m1-174h0m0 92h0m1-37h0m2 21h0m1-174h0m3 272h0m1-88h0m0-142h0m0 51h0m2 48h0m0 13h0m3 62h0m0-72h0m1-56h0m0 100h0m0-73h0m1 26h0m0-86h0m0-92h0m1 283h0m2-72h0m0-26h0m2-35h0m0 68h0m1 31h0m1-6h0m1 18h0m0-130h0m0-18h0m0 180h0m1-79h0m1-101h0m1-65h0m1 157h0m1 51h0m0-235h0m1 149h0m1-50h0m2 40h0m1-28h0m0 34h0m1 155h0m0-320h0m1 201h0m1-165h0m0 137h0m1 131h0m1-202h0m1 61h0m1-118h0m1 192h0m5-174h0m1 145h0m0 66h0m1-165h0m0 131h0m1-41h0m1-122h0m0 127h0m0-147h0m1 86h0m1 23h0m0-29h0m1-41h0m0-16h0m1 127h0m1-140h0m0 68h0m3 60h0m0-16h0m2 144h0m1 64h0m0-240h0m0-159h0m0 245h0m1-23h0m0 11h0m0 24h0m0-107h0m1 53h0m0 95h0m0-172h0m1 161h0m0-121h0m0 86h0m3-77h0m0 91h0m0-91h0m0-38h0m2 118h0m2 2h0m1 24h0m2-53h0m0-46h0m0 31h0m0-176h0m0 41h0m1 176h0m0-228h0m1 116h0m0-59h0m1 88h0m0-76h0m2 228h0m1-135h0m0-98h0m0-12h0m1 41h0m0 139h0m3-26h0m1-90h0m1 175h0m0-45h0m2-104h0m0-119h0m2 127h0m0 9h0m1-119h0m1 74h0m1 257h0m1-301h0m1 124h0m2-84h0m0 163h0m4-55h0m0-108h0m0 75h0m0-7h0m1 80h0m1-1h0m0-44h0m1 60h0m0-332h0m2 285h0m0 31h0m2-30h0m0-25h0m32 264h0m1 191h0m1-228h0m4 115h0m1-140h0m1 213h0m0-97h0m0 55h0m1-91h0m0 73h0m2 162h0m1-262h0m0 30h0m4 98h0m1-55h0m1-193h0m0 198h0m1-78h0m0 192h0m0 47h0m1-253h0m1 220h0m0-140h0m3 114h0m0-104h0m1-60h0m2 52h0m2-45h0m1-45h0m0 99h0m0-4h0m1-40h0m2 12h0m1 91h0m0-118h0m2 164h0m1-22h0m0-70h0m0 144h0m1-100h0m0-89h0m0 214h0m0-222h0m1 169h0m0-213h0m0 284h0m3-261h0m2 76h0m0-11h0m2-7h0m1-41h0m2 16h0m3 106h0m2-23h0m0 42h0m1-60h0m0 139h0m1-116h0m1-11h0m0-153h0m1 51h0m0 23h0m1 83h0m2 66h0m1-87h0m0-9h0m0 24h0m1 10h0m0 24h0m0-101h0m2-52h0m1 37h0m0-82h0m1 53h0m0 33h0m0-7h0m2-88h0m1 63h0m2 28h0m0-152h0m2 119h0m0 40h0m0-32h0m1-75h0m1 117h0m0-47h0m1-32h0m0-54h0m1 66h0m1-7h0m3 101h0m0-73h0m1 41h0m1-79h0m1 62h0m0-52h0m1 88h0m0 39h0m1-93h0m0-61h0m0 56h0m1-5h0m0-25h0m4-25h0m2-33h0m0 64h0m1-38h0m1 9h0m0 45h0m2 64h0m2-276h0m3-95h0m2 143h0m1-445h0m1 454h0m2-78h0m0 2h0m1-57h0m1-18h0m1 97h0m1-118h0m0 39h0m1-44h0m2 191h0m0-64h0m2 16h0m0-104h0m0 39h0m2 66h0m0-112h0m1 47h0m2 30h0m1-55h0m0 31h0m3 159h0m1 117h0m1 66h0m2-114h0m2 35h0m0-27h0m1 50h0m0 113h0m0-132h0m2 83h0m0-140h0m1 54h0m3-55h0m0-16h0m2 36h0m0 71h0m0-57h0m1-25h0m0 6h0m2 56h0m1-73h0m2 41h0m1-88h0m1 122h0m2-88h0m0 128h0m0-78h0m0 30h0m2-170h0m0 145h0m1-177h0m1 159h0m0-22h0m0-110h0m0 219h0m0 3h0m1-85h0m0 20h0m1 115h0m2-92h0m1 11h0m1-196h0m1 238h0m0-78h0m0-213h0m1 90h0m0 175h0m0-238h0m1 35h0m1-51h0m0 70h0m0 124h0m1-105h0m0 218h0m1-69h0m0 10h0m1-197h0m0 126h0m1-161h0m5 180h0m1-39h0m0 13h0m1 1h0m1 64h0m0-50h0m4-89h0m8-108h0m0 15h0m0-56h0m1 59h0m1 31h0m0-71h0m1-73h0m1 199h0m2-152h0m0-16h0m4 99h0m0 65h0m1 9h0m2-119h0m1-16h0m1 118h0m1 50h0m0-4h0m1-190h0m0-59h0m1 127h0m1-82h0m0 106h0m1-51h0m0-7h0m1 79h0m1-54h0m0-44h0m2 82h0m0-84h0m1 100h0m3-73h0m0 63h0m0 126h0m1-198h0m2 52h0m4-81h0m1 38h0m2-56h0m1 63h0m1-12h0m0 257h0m1-171h0m1-169h0m3 138h0m0-31h0m2 32h0m1 89h0m2-147h0m0 151h0m0-35h0m1 11h0m0-134h0m0 1h0m1 47h0m1 68h0m1-185h0m1 212h0m0-196h0m1 140h0m0-39h0m0-106h0m1 181h0m0-167h0m1 166h0m0 2h0m1 90h0m0-152h0m0 6h0m0-22h0m1 49h0m2-226h0m1 225h0m0 7h0m1-105h0m1 51h0m1-102h0m1-7h0m0 61h0m0 66h0m2-160h0m0 114h0m1-26h0m0 80h0m1-176h0m6 530h0m1-97h0m1-21h0m1-44h0m1 22h0m2 130h0m1 64h0m2-147h0m0-17h0m2-18h0m0-78h0m1 84h0m1-25h0m2 74h0m1 48h0m1-83h0m2 1h0m0-114h0m0 100h0m2-7h0m0-64h0m1 78h0m2-75h0m0 113h0m1-136h0m0 88h0m2 28h0m0-19h0m1 17h0m0-152h0m1-39h0m1 27h0m1 0h0m0-75h0m0 149h0m0-100h0m1 35h0m3 19h0m0-64h0m1 10h0m0-44h0m2 90h0m1-25h0m0-60h0m1 43h0m0-18h0m2 42h0m1-48h0m2-4h0m2 50h0m1-18h0m0 23h0m2 3h0m0-27h0m5 63h0m0-161h0m1 188h0m0-7h0m0-98h0m1 8h0m0 43h0m4-8h0m0 45h0m0-161h0m1 127h0m3 1h0m1-23h0m2 14h0m0-78h0m0-18h0m0 41h0m1 11h0m1 35h0m1-10h0m1-66h0m2 51h0m1-94h0m1-50h0m0 125h0m2-21h0m0-14h0m1-6h0m0-33h0m1 68h0m1-16h0m0 23h0m2 9h0m2-23h0m0-56h0m1-38h0m2-3h0m1 65h0m0 6h0m1 5h0m2 38h0m1 17h0m0-16h0m3-31h0m1-31h0m0-56h0m0 71h0m0-18h0m0 88h0m2-18h0m0 38h0m0-52h0m0 35h0m1 5h0m3-42h0m1-77h0m1-1h0m0-36h0m1 80h0m2 27h0m2-45h0m1-46h0m0 157h0m5-94h0m1 88h0m1-133h0m1 36h0m5 264h0m4-42h0m1 4h0m0-185h0m0 59h0m0 42h0m1-97h0m2 56h0m1-66h0m1 88h0m0 45h0m0 19h0m2-77h0m1 15h0m0-103h0m1 214h0m0 68h0m2-268h0m0 269h0m0-249h0m1 133h0m0-68h0m0-10h0m0-122h0m0 213h0m1-46h0m1-16h0m0 49h0m0-119h0m1-2h0m2 116h0m0-11h0m0 11h0m2 0h0m0 10h0m1-43h0m1-72h0m1-67h0m1 54h0m1 27h0m2 107h0m1-86h0m0 100h0m0-117h0m2-13h0m0 39h0m2 149h0m0-140h0m0 80h0m1-5h0m1-64h0m1-50h0m2 40h0m0 39h0m1-60h0m1-48h0m2 44h0m0 48h0m0-38h0m0 107h0m1-226h0m0 268h0m2-260h0m0-23h0m0 260h0m0-193h0m1 27h0m0 146h0m0-221h0m0 116h0m0-52h0m1 0h0m1-11h0m1 111h0m1-74h0m1 136h0m1-87h0m1 53h0m2-114h0m2-76h0m0 71h0m0 44h0m1 45h0m0-55h0m1-40h0m4-17h0m1 51h0m0-41h0m3-56h0m0 91h0m0 70h0m1-72h0m1-30h0m1 112h0m0-54h0m0 122h0m3-69h0m0 43h0m1-137h0m6-50h0m0 71h0m2 74h0m1 46h0m0-113h0m1 9h0m0-45h0m0 108h0m1-76h0m1-47h0m1 60h0m3-32h0m1-16h0m0-13h0m1 21h0m0-13h0m1-111h0m0 152h0m1-12h0m4 89h0m1-172h0m0-7h0m0-16h0m0 129h0m2 150h0m3-199h0m0 106h0m1-43h0m5 40h0m0-60h0m6 118h0m1-121h0m2 105h0m2-59h0m1-32h0m3-27h0m0 121h0m1 29h0m0-73h0m0-6h0m1-52h0m1 61h0m0 34h0m1-47h0m1-88h0m1 24h0m0 118h0m2-46h0m1-12h0m2-80h0m0 69h0m0 109h0m1-85h0m0 3h0m3 66h0m1-75h0m0-111h0m3 112h0m1-17h0m0 59h0m0-88h0m1 54h0m0 117h0m0-88h0m0-33h0m1 15h0m1-98h0m1 105h0m1-129h0m0 95h0m1-23h0m1-65h0m0 248h0m0-239h0m2 176h0m1 3h0m0-32h0m1 82h0m3-208h0m0 101h0m2 17h0m0-57h0m1 6h0m0 0h0m1 44h0m0-103h0m1 216h0m6-139h0m1-23h0m1 81h0m1-25h0m1-61h0m0 51h0m1 33h0m1-118h0m1 189h0m3-71h0m1-31h0m0 141h0m0-189h0m0 107h0m1 59h0m1-134h0m2 38h0m2 7h0m0-48h0m1-88h0m1 117h0m0 23h0m0-81h0m1 10h0m0-15h0m1 166h0m0-82h0m0-184h0m1 163h0m1-46h0m2-50h0m0 187h0m0-138h0m1 19h0m0 123h0m1-202h0m1 52h0m1 55h0m2-25h0m0 71h0m1-125h0m0 119h0m4-576h0m1 199h0m0 15h0m1-118h0m0 47h0m1 48h0m0 40h0m1 136h0m1-130h0m1-98h0m0 103h0m0 25h0m0-60h0m2-101h0m1-82h0m3 109h0m2-45h0m0-61h0m1 134h0m0 101h0m1-46h0m0-8h0m0 174h0m0-222h0m1 80h0m1-114h0m2 15h0m2 42h0m2 3h0m2 98h0m1-52h0m1 100h0m1-106h0m1-35h0m1 127h0m1-165h0m0 132h0m3-67h0m2 67h0m0-40h0m1-19h0m1-158h0m1 152h0m0-115h0m0 140h0m1-5h0m0-68h0m0-21h0m1-2h0m1-25h0m0 55h0m0-140h0m2 193h0m1 136h0m0-216h0m1 78h0m1 51h0m1-119h0m0 209h0m0-320h0m1 7h0m1-13h0m0 226h0m1 14h0m0-156h0m1-55h0m0 196h0m1 50h0m1-159h0m0 15h0m1-95h0m0 43h0m2 8h0m1 25h0m0-68h0m1 8h0m1 72h0m0 75h0m0 76h0m0-196h0m1 66h0m0 20h0m2 92h0m1-50h0m0-81h0m0 67h0m2-39h0m1 59h0m0-58h0m1 9h0m0 63h0m1 68h0m2-149h0m0 133h0m1-45h0m1-132h0m0 88h0m1-45h0m1 13h0m0-29h0m0 81h0m4 16h0m0-17h0m3-161h0m0 264h0m1-26h0m1-69h0m2-10h0m0 11h0m0-19h0m1 17h0m1-61h0m0-3h0m1 22h0m0-181h0m0 159h0m0-19h0m1 37h0m0-148h0m0 60h0m0 114h0m1-73h0m0-144h0m0 206h0m1 50h0m0-29h0m17 229h0m0-23h0m1 39h0m0-46h0m1 60h0m0 61h0m0-140h0m1-78h0m0 102h0m1-12h0m0 30h0m1-98h0m1 51h0m1 84h0m1-123h0m0 51h0m1 36h0m0-40h0m0 91h0m1-172h0m1 110h0m1-127h0m1 124h0m0 45h0m0-38h0m0-66h0m6 42h0m1 144h0m1-51h0m1-45h0m1-108h0m1 188h0m0-127h0m0 35h0m0-8h0m2-46h0m0 25h0m1 25h0m0 19h0m1 19h0m0-43h0m1-56h0m2-135h0m1 181h0m2 117h0m1-147h0m6 5h0m0-52h0m1 142h0m2-80h0m0 59h0m1-104h0m1 72h0m2 76h0m0-24h0m1-106h0m0 67h0m0-169h0m3 115h0m1 7h0m2 16h0m1 82h0m1-110h0m17 69h0m2-47h0m1 62h0m1 95h0m0 8h0m0-143h0m0 57h0m1-140h0m1 24h0m1 83h0m0-49h0m2 67h0m1 92h0m0-101h0m2-83h0m0 48h0m2 172h0m1-147h0m0 98h0m1 22h0m1-111h0m1-55h0m0 12h0m1 81h0m1-37h0m1-39h0m1 99h0m1-147h0m1 185h0m3-183h0m0 126h0m0 66h0m1 1h0m0-96h0m1-57h0m3-108h0m0 140h0m0 33h0m1 47h0m1-135h0m2-50h0m1 134h0m0-50h0m0 61h0m3 76h0m2-98h0m0-116h0m1 78h0m1 66h0m0-55h0m2 14h0m0 0h0m3 1h0m0 6h0m1-82h0m0 5h0m0-30h0m1 48h0m1 85h0m5-106h0m0 16h0m0 165h0m1-164h0m5-109h0m1 42h0m1-106h0m2 204h0m0-56h0m1-108h0m1 88h0m0-80h0m1-77h0m1 118h0m2 15h0m3-80h0m1-64h0m1 232h0m0-128h0m1 115h0m3-58h0m1-34h0m0 125h0m0-72h0m2-26h0m0 12h0m0-78h0m0 143h0m2-124h0m0 87h0m0-18h0m1-112h0m4 71h0m2 55h0m1-79h0m1 22h0m2 26h0m1 28h0m0-123h0m0 85h0m1-50h0m1 152h0m2-71h0m1 32h0m0-12h0m1-59h0m0-76h0m1-37h0m0 104h0m2 109h0m0-136h0m2 27h0m0-86h0m1 109h0m0-48h0m1 48h0m2 26h0m0 26h0m0-23h0m2-74h0m0 125h0m2-38h0m0-19h0m1-96h0m1 15h0m1-33h0m0-5h0m1 78h0m2 41h0m0-131h0m0 120h0m2-99h0m1 80h0m0-87h0m4 215h0m1-110h0m0 20h0m1-100h0m0 103h0m1-52h0m0 33h0m0 6h0m1-3h0m3-13h0m0-39h0m3-78h0m0 141h0m0-9h0m4-8h0m2 57h0m1-185h0m0 45h0m0 12h0m2 82h0m0-37h0m0-18h0m1 53h0m1 21h0m1 3h0m3-316h0m5-40h0m4-137h0m1 86h0m0 113h0m1-20h0m1 10h0m3 1h0m3-108h0m3 86h0m0 16h0m0 59h0m1-79h0m2-11h0m1-46h0m0-89h0m5 101h0m6 49h0m1-84h0m1 28h0m0 89h0m2-79h0m0 62h0m1-39h0m4 304h0m1 90h0m0-84h0m1 61h0m1-33h0m2 43h0m1 7h0m1-39h0m5 21h0m0-111h0m2 173h0m1-77h0m4 9h0m1-41h0m4-61h0m0 9h0m0 114h0m0-144h0m3 68h0m1 130h0m1-117h0m4 64h0m1-149h0m1 137h0m2-42h0m0 119h0m0-133h0m3 101h0m0-123h0m3 3h0m1-33h0m0 102h0m1-67h0m0-65h0m2 148h0m1-12h0m3-142h0m0 104h0m4-11h0m0 108h0m1-53h0m2-3h0m2-6h0m0 9h0m0-16h0m1-32h0m2-58h0m2 17h0m1 210h0m0-126h0m0-83h0m0 64h0m5 57h0m0 42h0m1-28h0m1-9h0m0-66h0m0-74h0m1-19h0m2 1h0m1 108h0m1-71h0m3 56h0m0 52h0m1-186h0m1 37h0m2 158h0m2-14h0m2 74h0m1-108h0m0 8h0m3 110h0m0-27h0m1-203h0m0 31h0m1 51h0m0-58h0m1 26h0m1 72h0"/><path stroke-width="4" d="M0 0m248 1103h0m0 13h0m0-13h0m1 116h0m0-107h0m0 230h0m0-46h0m1-84h0m0-58h0m0 102h0m2-112h0m0-52h0m3 200h0m2-63h0m0 98h0m3-50h0m0-11h0m5-57h0m0 23h0m1-7h0m0 144h0m2-145h0m0 43h0m2 3h0m1 47h0m1-78h0m1 73h0m0-43h0m1 70h0m1 4h0m0-39h0m1-5h0m0 49h0m0 25h0m4-79h0m1-94h0m1 31h0m1 13h0m0 29h0m1 10h0m0 4h0m1-117h0m2 69h0m0 60h0m1-5h0m0 143h0m0 27h0m0 46h0m0 36h0m0 15h0m0 14h0m0 47h0m0 58h0m0 85h0m0-469h0m3-167h0m0 42h0m1 0h0m1 142h0m0-143h0m0-38h0m1-11h0m4 82h0m2 25h0m2 47h0m1-144h0m4 8h0m1-76h0m1 141h0m4 30h0m2 59h0m0-91h0m1-76h0m1 100h0m1-97h0m0 10h0m1 72h0m2 117h0m0 146h0m0 52h0m1-238h0m0-113h0m1 87h0m2-20h0m0-66h0m1 23h0m4-16h0m1-78h0m2 53h0m0 130h0m0-4h0m1-5h0m0-2h0m2-223h0m1 218h0m0-270h0m1 124h0m0 403h0m1-457h0m1 135h0m1-187h0m0-17h0m1 43h0m2 225h0m1-213h0m0-48h0m1-3h0m1 74h0m0-5h0m1-13h0m1 35h0m0 183h0m1-184h0m1 22h0m1 163h0m1-175h0m1 59h0m0-55h0m0 7h0m1 8h0m2 115h0m0 51h0m1-17h0m1-65h0m1 224h0m0 103h0m2-378h0m1-76h0m0-23h0m0 45h0m1 75h0m1-61h0m0-21h0m1-24h0m0 170h0m2 26h0m0-204h0m1 267h0m1-162h0m0 10h0m0 55h0m1-10h0m0 13h0m1-88h0m0 86h0m3-75h0m0 66h0m0-72h0m1 23h0m1-56h0m2 128h0m0-180h0m1 96h0m2-9h0m1-64h0m1 159h0m1-190h0m0 132h0m1-8h0m0 2h0m3 162h0m2-155h0m0 160h0m1-111h0m1-4h0m0-5h0m1-141h0m0-33h0m1 35h0m0 108h0m0-107h0m1 134h0m0-41h0m0-107h0m1 32h0m0 122h0m2-52h0m0 170h0m1-17h0m2-240h0m1 114h0m0-161h0m0 139h0m1-159h0m1 178h0m1 0h0m0-25h0m0-51h0m1 19h0m1 186h0m1-237h0m0 175h0m1-106h0m2 56h0m1-32h0m0 82h0m0-51h0m2-29h0m1-136h0m2 186h0m1-69h0m0 28h0m1-136h0m0-4h0m1 17h0m3-16h0m1 9h0m1-13h0m1 138h0m0 51h0m1 136h0m3-175h0m1 78h0m0-108h0m0 39h0m1 35h0m0-104h0m1 68h0m1-5h0m30-66h0m2 163h0m0-194h0m0 123h0m0-96h0m1-32h0m1 13h0m1 119h0m1-102h0m3 11h0m2 69h0m3-45h0m5 64h0m1-64h0m0-16h0m0-12h0m1 51h0m1-5h0m1 237h0m1-192h0m1-85h0m0-3h0m3 98h0m1-107h0m0 309h0m0 6h0m0 13h0m2-268h0m0 31h0m1-52h0m1 139h0m0-179h0m1-94h0m0 143h0m2 130h0m0-143h0m3 135h0m4-209h0m0 47h0m0 151h0m2-166h0m0 21h0m1-56h0m0 33h0m1-29h0m0 148h0m1-94h0m0-72h0m2 58h0m2 4h0m1 19h0m1 24h0m0 23h0m4 15h0m0-194h0m1 60h0m0 137h0m4-58h0m4 104h0m0-76h0m0-93h0m0 93h0m2 23h0m3-58h0m0-46h0m1 92h0m1 67h0m1-138h0m1 12h0m1-87h0m1 50h0m1-139h0m0 84h0m1 3h0m0 83h0m0-62h0m2-6h0m0 50h0m1 62h0m1-117h0m0 51h0m2-103h0m1 139h0m0-99h0m0 32h0m2-83h0m0 78h0m1 55h0m0-59h0m1 3h0m2-28h0m4 45h0m0-103h0m1 60h0m0 130h0m1-158h0m0 82h0m3 34h0m1 15h0m0-149h0m1 71h0m2-47h0m0 85h0m1 25h0m1-81h0m0-35h0m2 117h0m1-129h0m1 121h0m1-74h0m1 71h0m2-32h0m1 52h0m0-143h0m2 69h0m1 37h0m0 57h0m3-121h0m1-14h0m2-69h0m0 73h0m1 66h0m0-7h0m1-13h0m1-90h0m0 51h0m6-18h0m1 18h0m6 34h0m1-18h0m1-113h0m1 110h0m2-71h0m3 144h0m0-18h0m1-181h0m1 67h0m0-67h0m2 227h0m0-188h0m0 3h0m1 55h0m0-90h0m1 116h0m1 109h0m1-171h0m3-203h0m3 410h0m2 45h0m1-11h0m1-28h0m7 7h0m2 36h0m1-25h0m1 29h0m2-47h0m1 17h0m0-100h0m1-16h0m0 35h0m0 150h0m0-57h0m2 5h0m1-4h0m0-162h0m2 77h0m1 85h0m0 67h0m0-65h0m1-93h0m2 116h0m1-89h0m0-38h0m1 107h0m0-58h0m0 38h0m1 81h0m1-172h0m1-33h0m1-7h0m2 150h0m0 41h0m1-9h0m0-58h0m0 91h0m1-161h0m1-42h0m0 20h0m1 29h0m0 67h0m0-67h0m1-69h0m0 185h0m4-45h0m1-30h0m0-7h0m1 82h0m1-11h0m1-27h0m2-150h0m0 158h0m1-107h0m0 101h0m2-31h0m1-93h0m1 136h0m3-155h0m1-12h0m1 191h0m1 42h0m0-27h0m2 20h0m1-17h0m1 24h0m1-61h0m0 20h0m1-126h0m1 87h0m1-50h0m3-50h0m1 93h0m0-489h0m0 33h0m0 32h0m1 153h0m1-8h0m0-2h0m1 109h0m1 17h0m0-289h0m1 351h0m1-111h0m1-76h0m2 247h0m0-138h0m3-50h0m0 45h0m1-63h0m0 63h0m1 49h0m1-167h0m1-28h0m0-51h0m0 107h0m1-42h0m1 234h0m0-153h0m1 106h0m0-44h0m0 49h0m0-16h0m0-167h0m1 152h0m0-4h0m0 102h0m0-45h0m1-75h0m0-89h0m1 77h0m0 32h0m0-119h0m1 113h0m2-23h0m0 27h0m3-5h0m2-149h0m0 77h0m1 47h0m0-173h0m1 192h0m0 45h0m1 2h0m2 20h0m0-202h0m0-8h0m2 195h0m0-33h0m1-183h0m2 174h0m0-37h0m0 18h0m0-96h0m2-36h0m0 218h0m2 13h0m0-82h0m0-1h0m1-181h0m1 148h0m1-89h0m0-41h0m1 30h0m0 72h0m1 79h0m0-193h0m2 48h0m3 12h0m0 122h0m1 20h0m0 2h0m0-95h0m2 170h0m0 1h0m1 66h0m0-270h0m0 90h0m1-117h0m0 122h0m0-15h0m1 45h0m1-171h0m1 35h0m6 178h0m2 17h0m0 62h0m0-53h0m1-226h0m1 234h0m0 34h0m0-81h0m1 27h0m1 13h0m1-202h0m1 86h0m0 51h0m1-189h0m1 202h0m1 94h0m2-284h0m1 305h0m1-9h0m1-258h0m1-7h0m0-12h0m2 274h0m0-187h0m3 42h0m1 144h0m0-44h0m1-207h0m0 162h0m1-87h0m0 80h0m0-34h0m1 160h0m1-241h0m0-27h0m0-23h0m1 176h0m1-14h0m0-56h0m0 134h0m1 23h0m0-179h0m2 6h0m1-94h0m0 3h0m0 280h0m1-91h0m0-41h0m3 61h0m1-199h0m1 184h0m1-19h0m2 30h0m2 3h0m0 61h0m1-83h0m0-169h0m1 243h0m0-111h0m2 131h0m0-270h0m0 133h0m1-126h0m0-10h0m2 270h0m1-76h0m2-85h0m0 155h0m1-173h0m0 14h0m0 23h0m1 89h0m1 47h0m1-240h0m1 151h0m0 87h0m1 33h0m1-268h0m0 163h0m0-23h0m1-49h0m0-113h0m0 1h0m0 7h0m0 246h0m1-185h0m0 54h0m1-120h0m0 94h0m0 181h0m0-29h0m0 5h0m1 44h0m1-79h0m0-120h0m1 157h0m0-5h0m3-201h0m0 42h0m1 174h0m0-201h0m0 5h0m1 72h0m0-30h0m2-138h0m0 83h0m1 197h0m1-251h0m1-59h0m0 305h0m0-9h0m1-175h0m0 143h0m0-49h0m1-25h0m1-16h0m1 42h0m1-22h0m0 149h0m0-100h0m0 76h0m2 19h0m1-77h0m0-44h0m0-8h0m0-52h0m2-146h0m0 163h0m2 46h0m2 89h0m1-70h0m0-72h0m1 0h0m0-54h0m0 18h0m0 194h0m1-137h0m0-177h0m1 175h0m1-5h0m1 35h0m1-50h0m1 4h0m1-124h0m1 172h0m1-195h0m1 136h0m1-39h0m0-98h0m1 52h0m1 96h0m1 137h0m0-183h0m0 35h0m0-29h0m1-73h0m0 127h0m1 128h0m0-230h0m0 13h0m0 35h0m1 81h0m0-117h0m0 147h0m1-155h0m0 18h0m1-34h0m0 260h0m0-237h0m1 223h0m0-225h0m0 135h0m0-169h0m2-17h0m0 157h0m1-93h0m1 112h0m1-66h0m0 205h0m1-350h0m1 282h0m2-77h0m0-22h0m2-111h0m1 254h0m1-291h0m0 303h0m0-115h0m4-22h0m1 127h0m1-26h0m2-150h0m0 76h0m1-198h0m0 300h0m0-179h0m1 67h0m0-167h0m1 71h0m0-79h0m1 258h0m0 3h0m1-42h0m0-7h0m0-214h0m1 175h0m0-15h0m1-73h0m0-73h0m0 248h0m1-140h0m0-13h0m1 20h0m1 110h0m1-89h0m1 130h0m0-258h0m0 266h0m1-120h0m0-29h0m0 6h0m1-84h0m0-60h0m1 5h0m1 203h0m1-75h0m0-56h0m1 64h0m0 141h0m1-285h0m0 23h0m0 280h0m1-313h0m0 302h0m2-133h0m0-71h0m1 21h0m0-9h0m0 86h0m0-123h0m0 88h0m1-80h0m1-34h0m0 256h0m0-174h0m1-26h0m0 198h0m1-250h0m0 218h0m0 38h0m0-300h0m1 66h0m0 58h0m0-34h0m0 19h0m0-11h0m1 95h0m1 24h0m5-40h0m0 38h0m1-177h0m4 58h0m1 22h0m1-4h0m0 8h0m2 165h0m1-272h0m0 65h0m0 75h0m1 10h0m1-53h0m1-111h0m2 213h0m0-109h0m1 160h0m1-132h0m0-16h0m1 14h0m4-144h0m1 290h0m1-144h0m1 142h0m1-89h0m0-160h0m0 250h0m0-110h0m2-160h0m2 141h0m0 87h0m1-27h0m0-102h0m1 125h0m1-215h0m1 224h0m0 34h0m2-132h0m2-35h0m0 59h0m1-61h0m0 12h0m0 149h0m2-90h0m0-188h0m0 19h0m2 176h0m0 133h0m0-180h0m1-4h0m0 59h0m1-62h0m0-126h0m1 134h0m1 84h0m1-2h0m1-76h0m0 146h0m0-2h0m1-286h0m0 181h0m1 4h0m0-221h0m1 6h0m1 250h0m0-120h0m3 179h0m1-129h0m1-6h0m0 73h0m0-713h0m2 908h0m2-40h0m1-57h0m1 70h0m0-93h0m1 126h0m1-18h0m2-89h0m0 100h0m0 6h0m1-56h0m1 36h0m0 31h0m1-61h0m1-43h0m0 50h0m0-61h0m1 0h0m5 31h0m5-100h0m1 140h0m0-4h0m2-48h0m0-25h0m7 57h0m0-19h0m0 3h0m2-14h0m2 81h0m1 16h0m0-111h0m0-49h0m1 108h0m0-8h0m2-24h0m0-1h0m2-79h0m1 84h0m0 62h0m1-58h0m0-1h0m1 0h0m2-34h0m0 35h0m1-18h0m1-64h0m3 47h0m0 189h0m1-174h0m1 114h0m0-192h0m1 116h0m1 70h0m1-118h0m1 27h0m3 0h0m1 9h0m1 14h0m1-6h0m0-26h0m1 61h0m1-11h0m0-92h0m1 96h0m1-78h0m0 95h0m2-46h0m1-13h0m0-23h0m4 116h0m1-114h0m1-14h0m1 32h0m3 27h0m0 30h0m0-43h0m1-101h0m1 135h0m2-31h0m0 110h0m2-77h0m0 30h0m0 28h0m1-68h0m0-118h0m2 102h0m0 109h0m1-113h0m0-38h0m0 178h0m1-42h0m0 3h0m2 66h0m0-22h0m0-52h0m0 26h0m1-5h0m1 71h0m1-37h0m1 5h0m1 68h0m1-89h0m2 10h0m3 148h0m1-173h0m0 154h0m3-177h0m1 150h0m1-34h0m1 11h0m0-27h0m2-21h0m0-33h0m0 86h0m1-45h0m2 25h0m3 95h0m1-43h0m0-82h0m1 148h0m0-20h0m0-90h0m1-41h0m0 44h0m1 137h0m2-170h0m0 75h0m0-21h0m0-50h0m1 30h0m0 20h0m2-6h0m3 33h0m2-106h0m0 70h0m1 39h0m4-545h0m2-47h0m0 138h0m1-67h0m1-102h0m1-12h0m0-8h0m1 109h0m1-63h0m1-41h0m0 80h0m1-50h0m0 16h0m1 6h0m1 134h0m0-219h0m2 218h0m0-203h0m1 9h0m1 7h0m0 44h0m2 118h0m2-8h0m3-71h0m2-8h0m0-41h0m1 177h0m1-127h0m2-102h0m1 171h0m1 14h0m0-125h0m1 130h0m0 9h0m1-104h0m1-76h0m1 22h0m2 15h0m1 76h0m3 60h0m0-25h0m2-317h0m3 154h0m1 82h0m2 35h0m1 27h0m1-53h0m1 63h0m0 81h0m0-103h0m1-18h0m1-26h0m2 47h0m3 1h0m1-14h0m1-80h0m1 44h0m2 90h0m1-10h0m0 48h0m0 7h0m1-30h0m0-20h0m1 46h0m1-58h0m2-25h0m0 108h0m2-152h0m0 150h0m1-189h0m1 40h0m1-8h0m0 12h0m1 61h0m1-26h0m1-153h0m1 148h0m1-29h0m0-26h0m0 74h0m2-45h0m0-31h0m2-53h0m0 99h0m4 72h0m0-87h0m0 76h0m0 59h0m2-200h0m1 127h0m1-64h0m2 74h0m1-144h0m5 45h0m0 65h0m1 120h0m2-82h0m0-21h0m0 91h0m2-89h0m0-76h0m1 72h0m1-86h0m2 1h0m0 161h0m0-96h0m1-98h0m1-44h0m1 86h0m1-2h0m0 58h0m1-30h0m0-82h0m0 140h0m1-90h0m0-53h0m1 126h0m1-120h0m2 21h0m1 72h0m0 49h0m1-23h0m0-55h0m0-9h0m1 31h0m0 13h0m1 9h0m1 35h0m0-16h0m0-8h0m1-26h0m1 13h0m0 19h0m1-1h0m0-82h0m0 133h0m3-141h0m0 134h0m2-35h0m1 121h0m0-197h0m2 60h0m0 64h0m0 21h0m0 11h0m2-104h0m0-12h0m1 84h0m2-129h0m1 12h0m1 45h0m3-51h0m2 69h0m0-25h0m1 23h0m1-73h0m0-26h0m1 36h0m2-9h0m2 103h0m1 63h0m4 14h0m0-126h0m1 31h0m2 272h0m2-66h0m1-8h0m1-65h0m1 186h0m4-113h0m1-59h0m2 27h0m0 1h0m1 15h0m2 154h0m0-113h0m1-96h0m1-4h0m1 54h0m1 54h0m2-19h0m1-39h0m1-22h0m1 140h0m0-92h0m0 126h0m2-192h0m1 99h0m0-84h0m0 126h0m1-118h0m1 0h0m0-56h0m0 216h0m0-212h0m1 61h0m2 15h0m0 38h0m0 17h0m2-66h0m2 15h0m0-94h0m1 65h0m1 33h0m0-63h0m0 121h0m2-97h0m1 83h0m0-3h0m0 98h0m1-189h0m0 24h0m3-36h0m0 58h0m3-57h0m0-124h0m1 21h0m0 53h0m0 1h0m1-117h0m0 147h0m0-137h0m1 96h0m1-142h0m0 97h0m0 5h0m1 19h0m1 165h0m0-20h0m1-77h0m1-48h0m0-86h0m1 196h0m1-70h0m0-17h0m2 33h0m0 49h0m1-19h0m1-19h0m3-28h0m1-94h0m2 88h0m0 0h0m0 54h0m1-261h0m1 198h0m0-19h0m1 67h0m0-41h0m1 105h0m0-264h0m1-13h0m0 187h0m2-138h0m1 50h0m1 40h0m1-25h0m0-51h0m0 159h0m0 36h0m1-74h0m0 73h0m0-77h0m1-161h0m0 158h0m1 17h0m0-189h0m3 30h0m0 197h0m1-199h0m1 16h0m0 108h0m1-16h0m0 135h0m2-98h0m1-28h0m3-149h0m2 202h0m0-190h0m1 92h0m0 166h0m0-168h0m0-108h0m0 174h0m2-24h0m0 22h0m0 45h0m0 89h0m1-274h0m0 8h0m1 176h0m4-23h0m2-71h0m0 153h0m1-124h0m0 11h0m0 30h0m1-104h0m0 60h0m1 59h0m0 780h0m1-866h0m1 155h0m1-160h0m0-74h0m1 141h0m0-61h0m4 8h0m0-21h0m1 4h0m1 164h0m1-3h0m0-139h0m0-61h0m0 211h0m1-82h0m1 23h0m1 72h0m0-213h0m2 85h0m0 6h0m1-182h0m1 282h0m0-125h0m1-41h0m0-6h0m0 112h0m2-196h0m0 124h0m0 30h0m1 43h0m1-58h0m0 15h0m1-103h0m0 46h0m1 184h0m0-114h0m0-95h0m3 42h0m0-18h0m3 81h0m0 32h0m0 8h0m1-69h0m0 23h0m1-65h0m1 119h0m0 42h0m0-11h0m1-11h0m0-48h0m1-6h0m0-9h0m3-191h0m0 51h0m0 240h0m3-30h0m0-163h0m1 83h0m1 72h0m1 29h0m0-151h0m1-77h0m0 57h0m1 165h0m0-255h0m1 139h0m1-37h0m0 54h0m1-91h0m0-55h0m1 32h0m0 191h0m1-221h0m0 101h0m2 138h0m1-266h0m1 275h0m0-162h0m0-94h0m0-30h0m0 181h0m1 109h0m2-288h0m0 196h0m0-204h0m1 3h0m0 146h0m0-120h0m1 117h0m0-32h0m0-21h0m1 6h0m0-62h0m0 169h0m3-53h0m0-137h0m1 179h0m1 84h0m0-261h0m1 177h0m3-64h0m0-83h0m2 230h0m1-73h0m2-165h0m1 137h0m2 65h0m0 63h0m0-52h0m1 13h0m1-113h0m0-127h0m1 4h0m3 138h0m2 49h0m1 50h0m0-71h0m0-88h0m0 73h0m1 3h0m0-165h0m0 161h0m1-155h0m1 130h0m1 117h0m1-154h0m1 51h0m1 63h0m4 51h0m0 0h0m0-176h0m0 28h0m1 142h0m1-195h0m0 109h0m1-12h0m0-26h0m1-170h0m0 187h0m1 90h0m2 14h0m0-144h0m0 139h0m2-15h0m0-71h0m2 105h0m1-18h0m0-138h0m1-102h0m0 172h0m0-158h0m0 117h0m1-3h0m0 113h0m0-84h0m1-35h0m0-49h0m1 161h0m1-240h0m0 157h0m1-27h0m1 58h0m1-36h0m0-42h0m0 133h0m2 22h0m0-179h0m0 61h0m1 15h0m1-154h0m1 83h0m0-4h0m1 112h0m0-108h0m0-132h0m1 277h0m2 25h0m0-152h0m2-109h0m1 7h0m1-63h0m3 117h0m2 51h0m2-24h0m0 108h0m2-46h0m0-103h0m2 200h0m0-132h0m2-145h0m1 182h0m0-165h0m1 88h0m1-6h0m0-86h0m0 158h0m0-155h0m2 104h0m1 145h0m1-231h0m1 125h0m0-135h0m0 107h0m1-34h0m0 56h0m0-13h0m2-27h0m0 29h0m0 5h0m1 8h0m0-146h0m1 161h0m2-6h0m2-46h0m0 186h0m1-37h0m1-271h0m2 112h0m0 61h0m0-14h0m0 72h0m0-65h0m1-95h0m1 48h0m1 26h0m6-27h0m0 143h0m0 29h0m1-136h0m0 39h0m1-191h0m0 250h0m1-222h0m1 140h0m2-117h0m0 83h0m4-22h0m1-4h0m1 56h0m0 7h0m3-63h0m2-25h0m1 35h0m2-240h0m0 198h0m1-314h0m0 304h0m0-5h0m1-29h0m0-8h0m0 80h0m1 31h0m1-147h0m0-117h0m1 296h0m0-26h0m1-286h0m1-158h0m0 263h0m0 157h0m1-148h0m0 35h0m1 173h0m3-234h0m1 154h0m0 67h0m0-128h0m2 24h0m0 62h0m1-43h0m0-23h0m1 74h0m0 72h0m1 21h0m0-132h0m0-36h0m1-10h0m1-295h0m2 244h0m1-171h0m4 736h0m0 78h0m0 120h0m0-1025h0m2 39h0m0 57h0m0 114h0m1-203h0m1 29h0m3 69h0m0 22h0m2-79h0m0-49h0m0 328h0m0-366h0m1 412h0m1-305h0m1 297h0m0-12h0m0-40h0m1 68h0m0-100h0m1 107h0m0-404h0m1 425h0m0-65h0m2-207h0m0 207h0m3 7h0m0-292h0m1 77h0m0 201h0m2 2h0m1-44h0m0 15h0m0-53h0m4 42h0m0-21h0m1 56h0m2 21h0m0-83h0m1 88h0m9 177h0m0-93h0m1 126h0m0-78h0m1 69h0m0-122h0m1 59h0m0-70h0m1 50h0m1 43h0m2 33h0m0-106h0m0 12h0m3 65h0m0-96h0m0 37h0m0 3h0m1 102h0m2-1h0m0-36h0m1-97h0m1 97h0m0 22h0m1 84h0m0-87h0m1-80h0m0 175h0m2-37h0m0-294h0m0 172h0m1 33h0m2-202h0m0 229h0m0-27h0m1-84h0m1 58h0m0-73h0m1 134h0m1-40h0m1-39h0m0 82h0m1-50h0m1-88h0m0 126h0m0-16h0m0 65h0m1-100h0m0 1h0m1 103h0m0-84h0m1 19h0m1 52h0m0-15h0m1-53h0m0 40h0m1-96h0m2 56h0m0 66h0m1-59h0m1-45h0m1 81h0m0-84h0m1 74h0m1-44h0m2 40h0m0-70h0m1 141h0m1-65h0m1-24h0m1-44h0m0 12h0m2-20h0m0 34h0m1 69h0m1-10h0m0-15h0m0-117h0m0 94h0m1-2h0m6-45h0m0-1h0m0-93h0m1 105h0m1 1h0m1 60h0m0-62h0m0 55h0m0-68h0m1 111h0m0-78h0m1-96h0m0 158h0m0-278h0m1 205h0m4-65h0m0 65h0m1-70h0m1 118h0m0-23h0m1-54h0m0-8h0m2 12h0m1 64h0m1-149h0m3 143h0m2 9h0m0-20h0m1 9h0m1-78h0m1-14h0m0 64h0m3 55h0m1-256h0m0 274h0m1 6h0m1-137h0m0 110h0m2-39h0m1-46h0m1 84h0m1-122h0m0 57h0m1 17h0m2-14h0m0 76h0m3-23h0m2-10h0m1-126h0m1-22h0m2 225h0m1-63h0m1-45h0m1 115h0m0-107h0m0 19h0m0-18h0m1-114h0m1 90h0m0 106h0m1-77h0m0-91h0m5 75h0m1-16h0m0 327h0m0-348h0m1 103h0m0-73h0m1-23h0m3 98h0m0-98h0m1 184h0m2-99h0m0-52h0m1-47h0m1-74h0m0 186h0m1-33h0m0-145h0m2 93h0m1 3h0m0 155h0m1-110h0m0-4h0m2 40h0m2-101h0m1 128h0m2-162h0m1 154h0m0-162h0m0 53h0m0 106h0m1-39h0m0-7h0m1-45h0m0 0h0m2 2h0m0 17h0m1 34h0m1-11h0m1 81h0m0-116h0m3-111h0m2 154h0m0-36h0m1 62h0m0-111h0m4-63h0m1 45h0m0 47h0m1 25h0m1-27h0m1 40h0m0-47h0m1 5h0m1 24h0m1-15h0m1 50h0m1 60h0m2-99h0m0 139h0m1-152h0m0 51h0m1-115h0m0 117h0m1-29h0m0-31h0m0 107h0m1-124h0m2 30h0m1-69h0m0-103h0m1 120h0m2-4h0m0 113h0m1 80h0m0-133h0m3-48h0m1 168h0m1-64h0m1-28h0m1-7h0m2 46h0m1-26h0m1-18h0m3-89h0m2-494h0m2 361h0m0 65h0m1 77h0m0-145h0m0 34h0m0-71h0m2-62h0m0 178h0m0 68h0m1-98h0m0-28h0m0-42h0m3 119h0m0-19h0m0 17h0m0-224h0m1 224h0m1-80h0m0-33h0m2 103h0m0-163h0m0-28h0m2 118h0m1-54h0m2 125h0m0-16h0m1 1h0m1 14h0m1-161h0m1 153h0m2-104h0m3 91h0m0 5h0m2-22h0m0-60h0m1 167h0m1-162h0m1 134h0m4-31h0m2 6h0m0 40h0m0-13h0m4 21h0m1-165h0m1 158h0m0-66h0m3 95h0m2-124h0m1 52h0m1 45h0m1-30h0m2-46h0m0 7h0m1-35h0m2 54h0m0-82h0m2-79h0m1 166h0m0 44h0m2-96h0m3-29h0m0 1h0m0 16h0m1 173h0m0-12h0m3-94h0m3-105h0m0-3h0m0 101h0m1-22h0m3-31h0m1 14h0m0 142h0m0-58h0m0-134h0m2 82h0m0-38h0m0-124h0m1 126h0m1-58h0m0 26h0m2-34h0m0-49h0m2 130h0m0 157h0m1-274h0m0 268h0m1-269h0m0 131h0m0 7h0m0 145h0m1 31h0m5-110h0m2 73h0m1-33h0m0 7h0m0 24h0m2-85h0m1-68h0m4 100h0m2-191h0m1 71h0m1 189h0m3-100h0m3 104h0m1-52h0m1 67h0m7 77h0m1-166h0m0-162h0m1 248h0m3 33h0m1-143h0m1 86h0m0 1h0m2-210h0m0 212h0m0 8h0m1-90h0m3-147h0m1 173h0m1-11h0m0 34h0m0-22h0m1 1h0m2-156h0m1 186h0m0-9h0m2 24h0m1-3h0m0-6h0m2 29h0m0 8h0m0-26h0m1 1h0m1-138h0m1-50h0m0 220h0m0-212h0m0 152h0m2-54h0m1 89h0m0 6h0m1 17h0m0-86h0m1 184h0m3-168h0m2-11h0m1 0h0m1-179h0m0 159h0m2-12h0m1 168h0m1-181h0m1 75h0m0 14h0m0 92h0m1-155h0m1 88h0m0-47h0m1-71h0m1 76h0m0-77h0m3 90h0m1-99h0m1 7h0m2 104h0m3-41h0m1 48h0m1 10h0m1-65h0m2 87h0m0-66h0m1-110h0m4 220h0m1-194h0m1 59h0m0 48h0m0 66h0m0-110h0m0 109h0m1-106h0m1 86h0m4-93h0m0 84h0m1-129h0m0-25h0m3-40h0m0 114h0m1-20h0m0-58h0m0 66h0m0 45h0m0-104h0m1 67h0m2 8h0m0 2h0m1 119h0m2-32h0m4 25h0m0-220h0m4 58h0m4 54h0m0-35h0m1 99h0m0 16h0m1-66h0m0 159h0m0-237h0m1 54h0m0 112h0m1-74h0m1-10h0m2-190h0m0 190h0m3-2h0m0-47h0m1 55h0m0 46h0m1-84h0m2 72h0m0-13h0m0-26h0m2-170h0m0 26h0m1 0h0m1 153h0m3-36h0m1-62h0m0 28h0m1 8h0m0 55h0m1-56h0m1-141h0m0 92h0m0 55h0m0-16h0m1 149h0m0-136h0m4 155h0m0-35h0m4-88h0m0 2h0m1 9h0m0-20h0m0-60h0m0 200h0m1-117h0m2 47h0m0-21h0m1 53h0m4-360h0m0 27h0m0 141h0m1-102h0m1 4h0m1 46h0m2 46h0m0-79h0m0 13h0m1 18h0m1-65h0m0 53h0m1-98h0m1 119h0m0-91h0m1 51h0m2-11h0m1 89h0m1-147h0m2 198h0m0-263h0m1 109h0m2-51h0m2-160h0m2 232h0m2-109h0m0 130h0m1-289h0m0 51h0m0 75h0m1 22h0m0 28h0m1 79h0m0-139h0m2 118h0m1-74h0m1 93h0m0-98h0m1-37h0m1 54h0m2-47h0m2 128h0m1-39h0m0 78h0m2-130h0m1 136h0m2-75h0m2-28h0m0 29h0m1-61h0m1 59h0m2 32h0m0-77h0m2-7h0m1 142h0m0-32h0m3 73h0m0-346h0m1 262h0m1-264h0m1 301h0m1-195h0m1 96h0m2-88h0m0 120h0m1-120h0m1 79h0m1-161h0m0 88h0m0 97h0m2-62h0m1 80h0m0 12h0m0-113h0m1-136h0m1 155h0m1-118h0m1 168h0m1-26h0m0 67h0m1 64h0m2-328h0m0 7h0m0 220h0m1-61h0m2 206h0m3-272h0m3 5h0m1 221h0m2-185h0m1 88h0m1-113h0m0 250h0m1-268h0m0 140h0m2-134h0m0 225h0m0 3h0m1-48h0m1-38h0m1-29h0m3 77h0m1-36h0m0 101h0m2-55h0m0-144h0m1 113h0m1-20h0m1 80h0m1 21h0m0-36h0m0-152h0m0 77h0m2-177h0m1 184h0m0-53h0m1 87h0m2-58h0m0-72h0m0 44h0m1 58h0m1 121h0m0-241h0m1-115h0m0 343h0m1-101h0m0-65h0m2-110h0m0 83h0m0 32h0m0-13h0m1 100h0m0 55h0m4-127h0m1 26h0m5 77h0m0-69h0m1-90h0m6 19h0m1-37h0m0 137h0m1-61h0m0-98h0m3 87h0m1 49h0m0-69h0m2-52h0m0-27h0m0 64h0m1 173h0m1-151h0m0-98h0m1-30h0m0 198h0m0-19h0m1-91h0m0 163h0m1-97h0m2 136h0m1-340h0m1 306h0m3 38h0m1-133h0m3 57h0m1-100h0m1 83h0m1-60h0m0-98h0m4 117h0m1-133h0m0 125h0m1 2h0m3 72h0m0 23h0m1 21h0m0-181h0m0-85h0m1 93h0m0 96h0m0-118h0m0 86h0m0 17h0m1 85h0m0 3h0m0-62h0m0 41h0m1 64h0m2-174h0m0 110h0m1-20h0m1 40h0m0-109h0m1 10h0m0-26h0m2-94h0m1 33h0m2 110h0m0-218h0m0 123h0m3 72h0m1 25h0m1 52h0m0 51h0m0-246h0m0 130h0m1 19h0m0-140h0m2 86h0m0-98h0m2 112h0m2-206h0m2 174h0m1 38h0m4-40h0m1 100h0m0 138h0m1-379h0m0 168h0m1-19h0m0-70h0m2 89h0m0 163h0m0-53h0m1-73h0m0-107h0m0 49h0m3-28h0m0 76h0m1 38h0m0-89h0m0 0h0m1 205h0m2-61h0m2-125h0m0-14h0m0-93h0m0 120h0m1-34h0m0-7h0m5-195h0m0 191h0m2 71h0m0-229h0m4 216h0m1 22h0m0-8h0m1 26h0m0 0h0m1-106h0m4 184h0m1-40h0m1 4h0m2 63h0m2 41h0m1-4h0m1-82h0m0-70h0m1-90h0m1 222h0m0-99h0m0-53h0m1-29h0m1-30h0m2 101h0m0 52h0m2-165h0m0 42h0m0 97h0m0 26h0m1 7h0m1 1h0m1-145h0m0 13h0m0 204h0m1 8h0m1-87h0m1-23h0m0-30h0m1-19h0m1-71h0m0 231h0m1-117h0m2-219h0m1 240h0m3-175h0m0 211h0m1 52h0m1-222h0m1 156h0m0-77h0m0 63h0m2-106h0m1 56h0m2 82h0m0-20h0m2 44h0m1-105h0m1-93h0m0 186h0m1-98h0m0-83h0m2 106h0m3 38h0m0-19h0m2 45h0m0-18h0m1-34h0m0 26h0m0 47h0m1-210h0m1 36h0m0 91h0m1 149h0m1-130h0m0-153h0m2 239h0m2-167h0m1 103h0m0-3h0m1 102h0m1-57h0m1-86h0m4 34h0m1-33h0m1 64h0m0-93h0m0 89h0m3-119h0m1 138h0m0-102h0m0 46h0m0 173h0m0-138h0m1-211h0m1 146h0m2 9h0m0-92h0m1 130h0m1-59h0m2 71h0m1-118h0m1 219h0m1-170h0m0-120h0m0 104h0m1 96h0m2-84h0m1 178h0m0-64h0m1-179h0m1 207h0m0-146h0m2 91h0m1-91h0m0 85h0m0-27h0m2 151h0m0-165h0m0-22h0m2 11h0m2 20h0m2 26h0m1 19h0m2-118h0m1 207h0m1-82h0m1 42h0m1-186h0m1 147h0m1-176h0m1 22h0m0 87h0m0 26h0m1-18h0m0-37h0m1 94h0m1-143h0m0-15h0m1-30h0m2 165h0m1 27h0m0-145h0m0-101h0m0 145h0m2-61h0m1 168h0m1-55h0m1-109h0m0 0h0m1 93h0m0-51h0m1 62h0m0-151h0m2 140h0m0 43h0m3-146h0m2 73h0m0 16h0m3-4h0m3 18h0m0-76h0m0 52h0m0-116h0m0 224h0m2-87h0m0 131h0m1-171h0m3 26h0m2 11h0m1-5h0m1 17h0m0-54h0m0 134h0m1-261h0m0 132h0m1 140h0m1-76h0m0-67h0m1 155h0m1-167h0m2 129h0m0-33h0m1-183h0m0 129h0m0 23h0m2-47h0m1 53h0m1 61h0m3-142h0m3 32h0m1-26h0m0 16h0m0 87h0m1-44h0m1 40h0m2 44h0m1-47h0m0-78h0m0 192h0m0-212h0m1 200h0m0-202h0m2 27h0m1 170h0m0-130h0m6 69h0m1-160h0m1 74h0m0-14h0m1 3h0m2-15h0m1-20h0m3 16h0m0 97h0m1-75h0m2 5h0m4 17h0m4-143h0m0 128h0m0-34h0m1 21h0m1-77h0m0 107h0m1 0h0m0-12h0m1 13h0m2-120h0m0 118h0m0-164h0m1 85h0m1 49h0m3 127h0m0-62h0m5-7h0m0-26h0m1-29h0m1 132h0m1-146h0m3-36h0m2 74h0m0-68h0m0-9h0m1 61h0m0-33h0m1 158h0m5-126h0m2-26h0m0 61h0m1 21h0m0-33h0m2 72h0m2-61h0m0 49h0m1 80h0m2-109h0m5-91h0m1 6h0m4-110h0m2 120h0m3 123h0m0 2h0m2-151h0m0-5h0m1 89h0m1 34h0m0-40h0m0-22h0m0-35h0m1-53h0m0 175h0m2-49h0m1 184h0m0-261h0m1 159h0m3-214h0m1-45h0m2 202h0m0-207h0m2 121h0m3 76h0m1-12h0m0-101h0m1-17h0m0 72h0m1 19h0m0 20h0m1-120h0m1 85h0m1-31h0m0 101h0m2-56h0m0-11h0m1 86h0m2-92h0m0 60h0m1-30h0m1 70h0m0-177h0m2 26h0m1 188h0m0-275h0m0 199h0m30 271h0m1-166h0m3 243h0m0-119h0m1 69h0m1-87h0m0-33h0m1-14h0m3 64h0m0-40h0m1-73h0m0 24h0m0-34h0m1 110h0m1-8h0m0 119h0m1-181h0m0 11h0m2 140h0m3-161h0m0 166h0m0 22h0m2-343h0m0 330h0m0-77h0m2 94h0m1-225h0m0 180h0m0-103h0m1 68h0m1-98h0m0 94h0m2-121h0m2-53h0m0 179h0m1-44h0m0-63h0m1 93h0m0-186h0m1 85h0m0 48h0m1-9h0m1 101h0m1-23h0m0-35h0m1 118h0m2-73h0m0-158h0m1-21h0m1 104h0m0-61h0m1 26h0m0 175h0m1-199h0m0 141h0m2 56h0m1-190h0m1 82h0m2-42h0m0 17h0m1 54h0m0-85h0m2 26h0m0-72h0m1 69h0m2 135h0m1-4h0m2-107h0m1-300h0m0-72h0m0 328h0m2-32h0m1-131h0m1-31h0m3 133h0m0-338h0m1 131h0m2 137h0m2 77h0m0-234h0m3 215h0m0-73h0m1 68h0m1-91h0m0 41h0m1-59h0m0 61h0m1-41h0m0 63h0m0-55h0m1 25h0m0-40h0m2 39h0m1-99h0m0 18h0m2 60h0m1-10h0m0 30h0m0 64h0m3-28h0m0-89h0m0 147h0m1-113h0m0-44h0m1 146h0m1-130h0m6-87h0m0 59h0m1-60h0m1 141h0m1-30h0m1-33h0m0 59h0m1-5h0m1-133h0m0 116h0m1-31h0m4 13h0m2 17h0m0-76h0m2 123h0m1-193h0m2 118h0m1 24h0m1-54h0m0 1h0m2 52h0m0 73h0m0-79h0m4 14h0m2-7h0m1-37h0m1 26h0m1-44h0m1 4h0m1 98h0m0-48h0m0-139h0m1 194h0m0-24h0m1 50h0m1-132h0m0-71h0m0 44h0m0 145h0m2-107h0m0 102h0m1-112h0m2 132h0m0-252h0m2 214h0m0-54h0m2 15h0m0 37h0m0-175h0m1 180h0m4-15h0m0-186h0m2 148h0m0-24h0m1 42h0m2-151h0m1 215h0m1-122h0m4 43h0m1-23h0m0-14h0m0 34h0m1-26h0m0 79h0m1-54h0m0 5h0m2-35h0m2 0h0m0-114h0m0 102h0m1 29h0m1-111h0m0 202h0m1-15h0m1-124h0m1-78h0m3 0h0m0 90h0m1 42h0m2-127h0m1 99h0m1 14h0m1 63h0m0-137h0m1 126h0m4 88h0m0-9h0m1-69h0m0 56h0m0 72h0m1-10h0m1 133h0m1-215h0m0 96h0m0-145h0m1 250h0m1-213h0m0 7h0m0 16h0m1 112h0m1-60h0m0-25h0m1-18h0m1 107h0m0-30h0m3 36h0m1-72h0m0-48h0m0 236h0m1-186h0m0 150h0m3-199h0m1 191h0m0-147h0m1 17h0m0-82h0m1 76h0m1 161h0m0-144h0m2-89h0m0 112h0m2 8h0m2 46h0m1-45h0m0 22h0m1-83h0m2 48h0m0 112h0m1-55h0m1-14h0m0-81h0m1-58h0m0-6h0m1 4h0m0 306h0m2-282h0m0 146h0m0-14h0m1 63h0m2-86h0m2-3h0m0 200h0m0-252h0m0 139h0m1-179h0m0 98h0m0 97h0m1-25h0m1-210h0m0 167h0m2-132h0m2 112h0m1-37h0m0-8h0m0 145h0m0-33h0m1-168h0m0 61h0m1 7h0m0 90h0m0-123h0m3-20h0m1 114h0m0-48h0m1-49h0m1 182h0m0-81h0m2-72h0m1 100h0m5-102h0m0 143h0m0-117h0m0-54h0m4 45h0m0 88h0m1-230h0m2 218h0m3-159h0m0 193h0m4-113h0m1-14h0m0-60h0m1-35h0m0 290h0m1-186h0m1 28h0m1-62h0m0 159h0m1-289h0m1 46h0m1 157h0m0-8h0m0-26h0m1 17h0m1-144h0m1-13h0m1-31h0m0 3h0m1 306h0m0-45h0m0-32h0m2-224h0m0 92h0m0-11h0m0 97h0m0 96h0m2-230h0m0 95h0m0-137h0m1 43h0m0 71h0m1-19h0m0 37h0m0 27h0m1-3h0m0 130h0m1-100h0m0 121h0m1-71h0m0-211h0m0 321h0m4-254h0m1-2h0m1 7h0m2-25h0m0 167h0m1-193h0m0 134h0m1-15h0m1 8h0m1-21h0m0 0h0m0-32h0m4 92h0m3-36h0m2-82h0m0 66h0m1 69h0m1-29h0m1-191h0m1 258h0m1-243h0m1 102h0m0-6h0m1-4h0m0-83h0m1 5h0m0 8h0m2 33h0m2 76h0m1-15h0m3-157h0m1-11h0m0-33h0m0 104h0m1-46h0m0 2h0m1-47h0m0 81h0m0-6h0m2 9h0m1 20h0m0-182h0m1 11h0m1-41h0m0 96h0m1 49h0m1-47h0m0-20h0m0-68h0m2 89h0m0 17h0m1-46h0m0-37h0m0-106h0m1 146h0m2-16h0m1-8h0m0 148h0m0-171h0m2 114h0m1-47h0m1 20h0m0-35h0m1 20h0m1-121h0m0 136h0m0 21h0m4-49h0m0-15h0m1-31h0m0-95h0m1 72h0m1-117h0m0 136h0m2 56h0m0 77h0m2-18h0m1-131h0m0-128h0m1 193h0m1 26h0m1 56h0m0-27h0m1-23h0m0-19h0m1-4h0m0-84h0m1 155h0m0-11h0m1 5h0m1 8h0m2 3h0m2-26h0m4 65h0m0-128h0m1 79h0m1 14h0m2-129h0m0 13h0m1-37h0m1 26h0m0-44h0m0 171h0m0-203h0m1 18h0m1 217h0m0-188h0m0 101h0m2-124h0m0 6h0m0 184h0m1-111h0m2 49h0m0-188h0m3 296h0m0-186h0m1-99h0m1 159h0m1 37h0m0-38h0m0 19h0m2 54h0m2-58h0m0-88h0m2-14h0m0-2h0m2 56h0m1-170h0m0 26h0m0-204h0m1 420h0m0 52h0m1-57h0m1-128h0m1 95h0m0-145h0m0 142h0m1 42h0m0-54h0m1-12h0m1-55h0m0-22h0m2 94h0m0-32h0m0 21h0m1 164h0m1-88h0m1 6h0m1-160h0m0 221h0m1-120h0m1 64h0m0-20h0m2 63h0m1-210h0m1 146h0m1 43h0m2-63h0m1 41h0m2-159h0m0 17h0m0-4h0m0-73h0m3 147h0m0-114h0m1 197h0m0-20h0m0-54h0m0-77h0m0-16h0m0 69h0m1-114h0m0 95h0m1-7h0m1-21h0m0 63h0m0-27h0m0 13h0m2-56h0m1 44h0m1-52h0m1 40h0m2 51h0m0-172h0m0 107h0m1 42h0m2 74h0m0-225h0m1 118h0m1 59h0m1-187h0m1 283h0m0-298h0m0 267h0m1-1h0m1-92h0m0-5h0m0-97h0m1 78h0m1 2h0m0-45h0m0 52h0m2-81h0m1 46h0m0-28h0m0 181h0m1 2h0m1-97h0m1-71h0m0 126h0m1-9h0m0-86h0m0 66h0m1-91h0m0 96h0m1 8h0m0 45h0m1-271h0m0 212h0m1-69h0m0 97h0m1-100h0m0 5h0m0-106h0m3 163h0m1 36h0m1-164h0m1 84h0m1 129h0m2 4h0m0-88h0m3-42h0m1 47h0m2-38h0m2 92h0m1 26h0m0-59h0m0 47h0m1-154h0m2-130h0m0 287h0m0-90h0m1 37h0m0-132h0m1-93h0m0 120h0m2 95h0m1-46h0m1 76h0m0 73h0m1-282h0m5 19h0m1 90h0m1 96h0m0 0h0m1-69h0m0 26h0m1-99h0m0 189h0m0-178h0m1-3h0m2 560h0m2-523h0m0-76h0m2-45h0m2 68h0m1 57h0m0-47h0m1 40h0m0 44h0m2-29h0m0-11h0m1-43h0m0 165h0m1-113h0m0-16h0m1-47h0m1 83h0m0-61h0m2 34h0m0-51h0m3 200h0m1-164h0m2-34h0m1 118h0m0 5h0m2-23h0m0 72h0m0 2h0m1 18h0m0-5h0m0 76h0m1-132h0m0 218h0m1-215h0m0 81h0m1-27h0m0 2h0m2-35h0m2 0h0m1 42h0m1 45h0m0-31h0m0-37h0m1 138h0m1-45h0m0-158h0m1 44h0m1 127h0m1-10h0m1 36h0m1-104h0m1-111h0m0 68h0m0 81h0m1-134h0m1 60h0m2-111h0m1-2h0m1 89h0m3-39h0m1 55h0m2 178h0m1-200h0m0-18h0m0 1h0m1 123h0m0-150h0m0 199h0m0-25h0m2-56h0m0 14h0m1 49h0m1-43h0m1-93h0m1 28h0m0 16h0m1-6h0m2 3h0m0 68h0m1 49h0m0-133h0m1 120h0m0-166h0m2-62h0m0 129h0m0-117h0m1 32h0m0-4h0m0 100h0m1-22h0m0 40h0m0-131h0m5 17h0m1 119h0m0-80h0m2-13h0m1 95h0m0-38h0m1-95h0m3 51h0m0-16h0m3 75h0m1 116h0m0-159h0m1-13h0m2 102h0m0 21h0m1 22h0m0-93h0m1-82h0m2 88h0m0-59h0m1-18h0m0 104h0m2-179h0m2 141h0m0 53h0m1-111h0m4-67h0m1 69h0m3 23h0m2-18h0m2 32h0m0 72h0m0-53h0m0-16h0m1 26h0m1-14h0m0-113h0m0 64h0m0-1h0m1-87h0m1 81h0m1 63h0m2 78h0m1-127h0m1 67h0m0-21h0m0-130h0m3 101h0m1 45h0m0 5h0m0 30h0m0 27h0m2-54h0m0-46h0m0-110h0m1 67h0m0 81h0m1 41h0m1-9h0m1 7h0m2-73h0m1-83h0m1 2h0m1 96h0m1 28h0m0 6h0m2 43h0m0-134h0m2 126h0m0-197h0m0 41h0m1 1h0m2 13h0m0 61h0m0 44h0m1-46h0m1-62h0m0 95h0m0 62h0m2-67h0m0-108h0m2 103h0m0 56h0m1-142h0m1 207h0m2-102h0m0 122h0m2-64h0m1 7h0m0-88h0m1-88h0m0 55h0m1-68h0m1-64h0m0 201h0m1 19h0m0-75h0m0 41h0m1-41h0m0 23h0m0-49h0m2-31h0m1 46h0m0-6h0m1 5h0m0 67h0m0-28h0m1-12h0m1-49h0m0 151h0m0 48h0m1-150h0m0 31h0m2 107h0m2-171h0m1-30h0m1 100h0m0-96h0m2 66h0m0-34h0m3 70h0m1 4h0m0-111h0m0 178h0m0-128h0m1 137h0m3-67h0m1-200h0m1 106h0m0 82h0m1-83h0m0 175h0m1-220h0m0 88h0m3-154h0m2 12h0m0 185h0m0-37h0m0-157h0m0 284h0m1-283h0m1 122h0m0 50h0m1 33h0m2-84h0m0 26h0m1 38h0m0-77h0m1 152h0m0-3h0m3-87h0m0 3h0m2-69h0m1-41h0m2 66h0m1-55h0m0 43h0m2 157h0m1-208h0m0 6h0m4 112h0m2 23h0m2-182h0m1 162h0m30-156h0m0 18h0m2-20h0m0-84h0m1 39h0m2 124h0m0-115h0m1-26h0m0 68h0m0-82h0m6 30h0m1 31h0m0 66h0m1-113h0m0-33h0m5 95h0m0-20h0m1 44h0m0-59h0m0 81h0m1 41h0m1-218h0m1 144h0m1-53h0m0 83h0m1-49h0m2 96h0m2-49h0m0-147h0m1-31h0m1 134h0m0 51h0m1-95h0m1 129h0m2-126h0m1-66h0m0 187h0m1-35h0m1 5h0m1-121h0m0 78h0m1-65h0m5 14h0m3-111h0m1 212h0m1-94h0m0 2h0m2 60h0m1-18h0m0 24h0m1 78h0m0-11h0m1-46h0m0-131h0m0-51h0m8 517h0m3-134h0m1 183h0m0 76h0m3-182h0m1 90h0m2-61h0m0-139h0m1 170h0m4-128h0m1 112h0m0-1h0m4 172h0m1 22h0m1-120h0m4-50h0m1-71h0m0 199h0m1-137h0m2-33h0m2 9h0m2 170h0m3-227h0m3 103h0m3 20h0m0 136h0m1-85h0m0-235h0m4 112h0m1-25h0m1 89h0m1-29h0m2-456h0m0 54h0m0-191h0m3 158h0m0 63h0m1-69h0m3-56h0m2 10h0m0-2h0m0 22h0m2 62h0m1-155h0m1 102h0m0-22h0m1 53h0m6 64h0m1-100h0m0 85h0m4-63h0m1-41h0m0-37h0m1 20h0m0 83h0m0 13h0m0 119h0m1-154h0m3 230h0m0-303h0m0-14h0m29 60h0m1-236h0m0 77h0m3 87h0m1-97h0m1-224h0m0 36h0m1 90h0m2-25h0m1 13h0m1 105h0m7 183h0m0 57h0m1-205h0m2 56h0m1-10h0m1 92h0m1-14h0m1-44h0m0-22h0m0-113h0m1 250h0m0-213h0m1 103h0m3-123h0m1 146h0m3-272h0m0 166h0m1 129h0m0-101h0m1-74h0m1-1h0m2 44h0m2 57h0m0-58h0m1 20h0m1-23h0m1 71h0m0-127h0m2 134h0m0-34h0m1-132h0m0 184h0m2-48h0m0-34h0m1 99h0m2 59h0m0-133h0m1 76h0m1 71h0m0-85h0m0 81h0m1-109h0m0-18h0m1-61h0m0 120h0m1-104h0m2-56h0m0 137h0m0 54h0m0-47h0m3-193h0m0 150h0m0-115h0m1 71h0m1-68h0m0 164h0m0-55h0m0-104h0m2 61h0m0 155h0m1-85h0m2-71h0m0-29h0m1-27h0m0-1h0m2 14h0m0-118h0m0 284h0m1-114h0m1 75h0m2-32h0m2-127h0m0 189h0m0-59h0m1 84h0m0-40h0m1-190h0m0-43h0m2 321h0m0-291h0m0 263h0m1-114h0m0 97h0m1 56h0m0-242h0m0 133h0m3-238h0m3 271h0m1 42h0m0-339h0m1 195h0m5-83h0m0 146h0m1-19h0m0-116h0m0 102h0m0 34h0m1-23h0m0-130h0m0 39h0m0-38h0m0 24h0m1 89h0m0 156h0m3-204h0m0 71h0m1 79h0m2-74h0m1 48h0m0-137h0m1 186h0m1-116h0m0 8h0m1-169h0m0 167h0m0 4h0m0 24h0m1-83h0m1-20h0m1 57h0m0-210h0m1 254h0m0 1h0m1-33h0m0-58h0m1-162h0m0 277h0m1-29h0m0-9h0m0-120h0m1-93h0m0 253h0m0-66h0m0-24h0m0-4h0m0 63h0m0 4h0m1-143h0m1 86h0m0-176h0m1 143h0m2-21h0m1 42h0m1 0h0m0 36h0m1 60h0m1-29h0m1-54h0m0 24h0m1 23h0m1-79h0m1-4h0m0 110h0m0-99h0m1 82h0m0 35h0m0-113h0m0-171h0m1 216h0m0-4h0m34 384h0m0-18h0m1 75h0m0-43h0m1-88h0m0 237h0m0-31h0m1-49h0m0-82h0m1-98h0m0 89h0m0 75h0m1-74h0m0-30h0m1 72h0m2-61h0m0-16h0m1 23h0m0 148h0m1-6h0m0-120h0m1 52h0m1-51h0m2-164h0m2 201h0m1-119h0m0-3h0m0-78h0m1 274h0m4-36h0m0-120h0m0-106h0m2 35h0m1 182h0m3-54h0m0-48h0m3 67h0m1-82h0m0 152h0m0-99h0m1-25h0m0 33h0m1-14h0m0-76h0m6 189h0m1-49h0m0-104h0m1-14h0m1 55h0m4 163h0m1-209h0m0 189h0m1-205h0m0-81h0m2 226h0m1-108h0m0 75h0m3-10h0m1 37h0m0-72h0m1 89h0m1 16h0m0 93h0m2-251h0m1-71h0m0 148h0m2 141h0m1-166h0m1-39h0m0-144h0m0 31h0m1 95h0m1-81h0m0-62h0m1 88h0m1 45h0m1 14h0m0-50h0m0-24h0m1 1h0m1 38h0m1-4h0m1 71h0m4-91h0m0-11h0m0 68h0m1-57h0m0-34h0m2-40h0m0 139h0m2-51h0m1-9h0m2 87h0m1-41h0m0-72h0m1 14h0m1-15h0m4 68h0m2-98h0m0 175h0m1-33h0m0-93h0m3 103h0m1-319h0m5 1h0m1-699h0m0 45h0m0 56h0m0 342h0m0 14h0m2 340h0m0-96h0m0 102h0m1-86h0m1 29h0m1-21h0m1-57h0m0-60h0m1 201h0m4-13h0m1-149h0m1-16h0m1 195h0m0-230h0m3 51h0m0 52h0m1 75h0m0 20h0m1-75h0m2 225h0m1-35h0m0 63h0m1-59h0m1-14h0m1 7h0m0 63h0m1-46h0m0 97h0m1-133h0m1 45h0m1 107h0m1-79h0m3-82h0m3 32h0m0 41h0m0-29h0m0-19h0m3 117h0m1-29h0m0 32h0m2-140h0m0-41h0m1 73h0m0 93h0m1-11h0m1 26h0m0-161h0m3-72h0m0 178h0m1 27h0m0-197h0m1 187h0m0-217h0m1 45h0m1-11h0m0-17h0m0 182h0m1-184h0m0 123h0m0-165h0m1 28h0m0 1h0m1 80h0m1-22h0m0-5h0m1 39h0m2-91h0m0 82h0m1 67h0m3-208h0m0 324h0m1-29h0m0-135h0m1 121h0m7-121h0m1-39h0m10-230h0m3 273h0m0-164h0m1 81h0m0-33h0m0 49h0m2-163h0m0 126h0m1-32h0m0 63h0m2 62h0m1-106h0m1-87h0m0 105h0m0-29h0m1 124h0m1-68h0m0-110h0m2-85h0m0 117h0m1 28h0m0-64h0m0-16h0m1-6h0m3 28h0m1 93h0m0 6h0m2-140h0m3 71h0m0-40h0m2-27h0m1-47h0m1 86h0m1-82h0m0 162h0m1 7h0m0 35h0m1-21h0m1-72h0m2-111h0m1 192h0m0-51h0m3 39h0m0 85h0m0-182h0m0 40h0m2-64h0m1 107h0m4-9h0m1 74h0m3-147h0m0-92h0m1 106h0m0 96h0m1 26h0m2-25h0m1-35h0m1-171h0m1 185h0m1-150h0m1 183h0m1-43h0m1-11h0m1-142h0m0 132h0m3-18h0m0 18h0m0 16h0m0 7h0m0-30h0m2 22h0m2 13h0m1-19h0m0-16h0m0-123h0m0 26h0m1-55h0m0 98h0m1-6h0m0-27h0m0 9h0m1 37h0m4 237h0m2 53h0m0 7h0m1-4h0m0 47h0m0-97h0m1 133h0m2-44h0m1-132h0m2 240h0m2-101h0m0 6h0m0-126h0m0 29h0m1-52h0m1 125h0m1 93h0m0-13h0m4-97h0m1-48h0m0 158h0m1-141h0m0-127h0m2 182h0m0 43h0m0-89h0m2 45h0m2-14h0m1-81h0m6-96h0m1 61h0m1-14h0m1 3h0m0-16h0m1 17h0m3-36h0m0-4h0m0 36h0m4 14h0m0-48h0m0 70h0m2-83h0m1-60h0m0 72h0m1-42h0m3 89h0m0-31h0m2-34h0m0-51h0m1 25h0m0 38h0m1 28h0m0-37h0m0-9h0m1 59h0m0-26h0m4 20h0m0-77h0m0 8h0m1 7h0m1 35h0m1 116h0m0-246h0m3 168h0m0-148h0m0 9h0m0 157h0m2-143h0m0-35h0m0 39h0m0 40h0m1 30h0m1-17h0m1-43h0m1-23h0m1 49h0m1 14h0m0-96h0m1 20h0m0 43h0m0-84h0m1-57h0m0 178h0m1-21h0m0 22h0m1-44h0m1 18h0m1 93h0m0-143h0m0-32h0m0-6h0m0 94h0m0-28h0m2-89h0m0 16h0m1-13h0m2 138h0m2-53h0m1-101h0m0-14h0m2 136h0m1 102h0m0-120h0m0-19h0m2 64h0m0 42h0m1-11h0m0-78h0m1 10h0m1-21h0m4 8h0m1 47h0m1-81h0m0 103h0m2-58h0m0-26h0m1 102h0m1-82h0m0 43h0m1-81h0m0 138h0m3-21h0m0-78h0m1 1h0m2-14h0m1 106h0m0-66h0m1-65h0m0 54h0m4 78h0m0-33h0m1-65h0m0 39h0m5 116h0m0-165h0m0 249h0m1-181h0m0-64h0m1-10h0m0 260h0m2-274h0m0 139h0m1 158h0m1-239h0m0 71h0m1 44h0m2 35h0m1-205h0m0 170h0m0-152h0m1 199h0m2-135h0m1 108h0m1-58h0m0-36h0m0-34h0m1 87h0m2-66h0m0 34h0m1 132h0m1-170h0m1 15h0m0 25h0m1-124h0m0 219h0m0-15h0m1-1h0m1 1h0m0-190h0m0 228h0m0-36h0m1-180h0m1-26h0m1 80h0m0-61h0m1 14h0m0 90h0m1 42h0m2-142h0m3 102h0m1-35h0m0 51h0m1-7h0m0 42h0m1 30h0m2-184h0m0 212h0m0-48h0m1 77h0m5-180h0m0-76h0m1 139h0m0-13h0m3 56h0m1-162h0m0 120h0m0 16h0m0-99h0m1 105h0m0-5h0m2 80h0m0-226h0m0 49h0m1 64h0m0 119h0m1-167h0m0 109h0m1-81h0m1-38h0m1 93h0m0-48h0m3-19h0m3 68h0m0-3h0m1 107h0m0 26h0m0-261h0m0 82h0m1 37h0m0-15h0m2 18h0m0 83h0m1-206h0m0 0h0m1 925h0m1-921h0m2 195h0m0 1h0m2-214h0m1 107h0m0-14h0m0 156h0m0-258h0m3 150h0m1-123h0m1 220h0m0-90h0m1-31h0m0-16h0m0 42h0m2 133h0m0-267h0m0 100h0m2-71h0m0 43h0m2-76h0m0-10h0m0 57h0m1-46h0m1-1h0m1 93h0m2 143h0m0-14h0m1 30h0m1-217h0m0 179h0m1-46h0m0-166h0m1 218h0m0-10h0m1-12h0m0-204h0m1 92h0m2 22h0m0-69h0m2 67h0m1 33h0m0-132h0m0 3h0m0-21h0m1 25h0m0 113h0m2 27h0m0-9h0m0-139h0m1 155h0m0-67h0m2-83h0m1 172h0m1-196h0m1 283h0m1-109h0m0 79h0m1-77h0m3-9h0m1 4h0m5 39h0m1-74h0m1-64h0m0 69h0m1 16h0m0-26h0m2 80h0m2-33h0m0-108h0m1 146h0m0-96h0m1 20h0m0-54h0m1 92h0m0-20h0m1-123h0m0 188h0m1-24h0m1 19h0m0-59h0m1-81h0m2 60h0m0 12h0m1 89h0m0 27h0m4-171h0m0 58h0m1 121h0m2-112h0m1 156h0m0-140h0m0-96h0m2 1h0m0 4h0m1 111h0m0 110h0m1-123h0m1-112h0m1 78h0m0-76h0m0 47h0m2-25h0m0 5h0m0 169h0m3-53h0m0-44h0m1 61h0m1-5h0m2 108h0m2-113h0m0-20h0m1-9h0m0 52h0m1-100h0m0 51h0m0-108h0m0 151h0m1 1h0m1-114h0m1 111h0m1 84h0m0-98h0m1-51h0m0 67h0m2-22h0m1 83h0m0 46h0m2-187h0m1 52h0m0 65h0m1-89h0m1-105h0m1 189h0m1-200h0m1 140h0m1-7h0m0 136h0m1-85h0m1 70h0m1-207h0m1 171h0m0-196h0m3 178h0m0-161h0m2-9h0m1 224h0m1-86h0m0 24h0m1-80h0m0-18h0m1 85h0m1-57h0m1 5h0m1 134h0m0-185h0m2 61h0m1 10h0m0 83h0m0-172h0m1 14h0m3-274h0m2-171h0m2 175h0m1-204h0m0 313h0m2-245h0m2-75h0m0 217h0m1-166h0m2-19h0m0 136h0m0-111h0m0 162h0m0-173h0m0-25h0m2 238h0m2 86h0m1-189h0m1 63h0m4-55h0m1 11h0m0-75h0m1 2h0m0 227h0m1-132h0m1 26h0m2-119h0m0 253h0m1-78h0m0-45h0m2-49h0m1 10h0m1 44h0m2 0h0m1 67h0m1-26h0m0-69h0m1 36h0m1 8h0m0-164h0m1 196h0m1 40h0m0-254h0m0 110h0m1-107h0m0 133h0m0-123h0m0 181h0m0 62h0m0-229h0m0 186h0m1-38h0m1 115h0m0-115h0m1-166h0m3 20h0m0 44h0m0 221h0m1-44h0m0 46h0m0-295h0m2 34h0m0 104h0m1-172h0m1 205h0m1 45h0m2-208h0m1 88h0m1 22h0m0-102h0m2 117h0m2-107h0m0 240h0m2-249h0m1 267h0m1-58h0m1-210h0m1 189h0m0-40h0m1 88h0m0-97h0m1-27h0m0-113h0m0 71h0m1 114h0m0-133h0m0-14h0m3 166h0m0-227h0m1 151h0m1-145h0m2 204h0m0-191h0m1 280h0m1-88h0m0-225h0m0 178h0m2 35h0m0-98h0m3 11h0m1 110h0m2-241h0m2 144h0m1 79h0m1 15h0m0-43h0m0 105h0m1-11h0m17 264h0m1-66h0m1 74h0m1-83h0m0-20h0m0 101h0m2-30h0m0 30h0m2-123h0m4 25h0m4 29h0m0-40h0m0 6h0m3-45h0m0 42h0m1-72h0m0 57h0m2 33h0m1 103h0m1-198h0m0 50h0m1-6h0m0 73h0m0 71h0m1 9h0m1-146h0m1-55h0m1 37h0m1 52h0m1-49h0m0 69h0m0 93h0m2-115h0m3-194h0m0 306h0m0-123h0m2 12h0m1-152h0m1 134h0m1 119h0m0 11h0m1-164h0m0 87h0m2-212h0m1 33h0m2 250h0m1-45h0m0-34h0m1-122h0m2 95h0m2 122h0m0-139h0m0 54h0m1-48h0m0-87h0m1 140h0m1-114h0m0 91h0m0-88h0m1 67h0m1-16h0m17-9h0m0-93h0m1 269h0m2-168h0m1 154h0m0-76h0m1-79h0m0-70h0m0 56h0m2-56h0m3 158h0m0-56h0m1-49h0m0 186h0m1-88h0m0-144h0m0 127h0m3 90h0m0-237h0m0 169h0m1 66h0m2-161h0m5 162h0m0-92h0m1-53h0m3 25h0m0 61h0m1-15h0m1-24h0m1-88h0m2 60h0m1-52h0m1 174h0m0-70h0m0-30h0m0-118h0m1 6h0m0 116h0m1-53h0m2 162h0m2 3h0m0-131h0m0-18h0m3-45h0m0 90h0m1-109h0m1 118h0m0-3h0m0 62h0m2 9h0m2-66h0m1-142h0m0 97h0m1-7h0m0-89h0m0 71h0m1 4h0m1-83h0m0-60h0m1 189h0m0-82h0m0 182h0m1-178h0m1 179h0m0 1h0m2-170h0m1 122h0m0-143h0m6-71h0m2 54h0m0-7h0m2-94h0m1 79h0m0 25h0m0-76h0m2-8h0m0 94h0m1-5h0m0 7h0m1-55h0m3 5h0m1-27h0m1 43h0m1 9h0m0-120h0m1 107h0m2 42h0m1-112h0m1 54h0m0 115h0m0-71h0m0-5h0m3-22h0m8 20h0m1 8h0m1-80h0m3 33h0m1 42h0m2-82h0m1 45h0m1 19h0m1 40h0m0-159h0m1 67h0m0 56h0m6-47h0m1 155h0m2-164h0m1 33h0m0 0h0m2-54h0m0 7h0m1 111h0m0-87h0m0 20h0m1-25h0m1-67h0m0 229h0m1-92h0m6-130h0m1 49h0m1 56h0m0 15h0m4-16h0m0 41h0m0-140h0m2 31h0m2 121h0m7-68h0m1 5h0m2 4h0m1-70h0m1 65h0m1-41h0m4-336h0m1 100h0m0-137h0m2 126h0m0-133h0m5 136h0m3-44h0m1 66h0m2 35h0m2-218h0m2 152h0m3-124h0m0 247h0m0-235h0m2 128h0m1-110h0m0-87h0m1 122h0m0-37h0m1 109h0m2 3h0m2 5h0m4 7h0m1-128h0m1 89h0m1-98h0m2 97h0m1 33h0m1-48h0m3 409h0m2-18h0m1-8h0m2 14h0m1-10h0m0-30h0m1 66h0m0-46h0m3 149h0m1-134h0m0 84h0m0-89h0m4 18h0m1-145h0m3 228h0m0-133h0m4 134h0m1-231h0m1 87h0m0 32h0m0-131h0m0 247h0m1-163h0m1-65h0m1 193h0m2 65h0m1-35h0m2-147h0m3-9h0m2 55h0m1-144h0m3 192h0m0-28h0m1-30h0m0-159h0m2 127h0m0-140h0m1 228h0m1-84h0m1 162h0m0-182h0m0-34h0m3 40h0m0 7h0m1-24h0m2 164h0m1-44h0m0-31h0m0-195h0m0 161h0m1 110h0m1-24h0m2-152h0m0 178h0m0-114h0m0-19h0m1 54h0m1-47h0m0 39h0m0 35h0m0-14h0m0-1h0m1 110h0m2-34h0m0-53h0m2-89h0m3 134h0m2 41h0m2-73h0m0-128h0m0-35h0m0 71h0m2 26h0m1 20h0m1-36h0m0-27h0m1-14h0m0-54h0m1 13h0m1 68h0m0 49h0m1 4h0m0 80h0m2-151h0m0 5h0m3 148h0m2-276h0m0 231h0m1-86h0m3 107h0m0-107h0m1 67h0m2 4h0m0-48h0m1-14h0m8 494h0m4-155h0m1 465h0m2-107h0m8-318h0m4-57h0m2 430h0m3-218h0m2 290h0m7-195h0"/><path stroke-width="2" d="M0 0m288 1525h0m82-432h0m6-28h0m7 20h0m18 14h0m0-25h0m3 257h0m1-247h0m5 8h0m2 246h0m11-258h0m1-15h0m239 52h0m25 31h0m5 12h0m3-27h0m0-18h0m7 15h0m26-242h0m2-7h0m6 27h0m6-2h0m2 69h0m0-34h0m2-23h0m7 12h0m18 303h0m1 32h0m22-38h0m3-275h0m3-12h0m0 31h0m14-38h0m0 32h0m1 298h0m7-283h0m4-45h0m12 326h0m7-279h0m1 275h0m4-24h0m17-276h0m8 293h0m27-305h0m1 289h0m3-284h0m10 8h0m4 283h0m4 2h0m4-284h0m2 286h0m2 23h0m0-303h0m1 3h0m13-40h0m3 303h0m2-271h0m1 274h0m4-288h0m18 296h0m0-3h0m6 7h0m11-19h0m1-272h0m3-27h0m0 30h0m74 471h0m36 244h0m1-107h0m8-8h0m8-25h0m195-145h0m40-295h0m9 208h0m9 0h0m3 30h0m5-253h0m20 3h0m15 227h0m19 31h0m1-1h0m3-261h0m15 247h0m5-257h0m6 238h0m15 21h0m12-29h0m1 45h0m4 6h0m3-23h0m1-293h0m15 27h0m14 255h0m6-10h0m4 7h0m3-262h0m6 293h0m3-292h0m5 9h0m19-45h0m9 31h0m7 180h0m9-381h0m1-119h0m14 66h0m0 69h0m2 102h0m1 50h0m5-157h0m15 24h0m10 107h0m23 87h0m72 62h0m29-24h0m40-28h0m14 32h0m47-147h0m76 351h0m13-230h0m21 29h0m0-14h0m9 5h0m36 25h0m7-56h0m3 6h0m14 40h0m165-265h0m30-39h0m14-18h0m35 56h0m14-17h0m12-14h0m59 154h0m5-5h0m14-28h0m24 55h0m116-95h0m34 43h0m89 345h0m45 164h0m30-2h0m12 10h0m72-480h0m23 47h0m50 424h0m11-24h0m26 15h0m14-14h0m13 59h0m32-11h0m2-36h0m18 6h0m14-451h0m35 189h0m0-196h0m0 203h0m33-15h0m18-183h0m0-65h0m10 248h0m1 54h0m1-32h0m15-29h0m13 5h0m18 73h0m2-287h0m25 281h0m22-74h0m8 194h0m147-275h0m17-1h0m17 7h0m51-158h0m29 54h0m0-20h0m8 20h0m10-54h0m26 661h0m35-89h0m77-708h0m3-96h0m3 347h0m11-95h0m3-229h0m11 281h0m21-275h0m11 74h0m18 18h0m79 672h0m100-1179h0m0 22h0m0 90h0m0 36h0m0 42h0m0 82h0m0 80h0m0 14h0m0 14h0m0 12h0m0 12h0m0 12h0m0 40h0m39 394h0m36-28h0m24-213h0m30-7h0m100 98h0m71 299h0m24-222h0m5 245h0m2-259h0m1 247h0m4-244h0m8 268h0m5-275h0m2 11h0m19 1h0m14 9h0m5 4h0m32 53h0m40 262h0m8-24h0m25-593h0m7 0h0m31 24h0m12 14h0m6-39h0m4 39h0m3-57h0m18 4h0m38 265h0m5 297h0m60 26h0m168-659h0m9 145h0m21-39h0m1 49h0m13 229h0m7 231h0m13-26h0m26-251h0m17 268h0m10-258h0m6-41h0m3 9h0"/></g></g>
<g fill="#00008b"><ellipse cx="143.9" cy="767.5" rx="2.0" ry="1.2"/><ellipse cx="168.8" cy="770.5" rx="1.7" ry="1.0"/></g>
<path d="M124.2 598H125.5M128.5 623H142.5M145.5 591H167.5M170.5 584H301.5M301.5 505H307.5M310.5 557H311.5M314.5 601.5H350.5M353.5 536H355.5M358.5 467H360.5M356.5 539H371.5M371.5 478H378.5M379.5 555.5H405.5M408.5 506H409.5M411.5 556H497.5M500.5 664.5H548.5M549.5 753H567.5M570.5 534H649.5M651.5 650.5H670.5M673.5 597H794.5M798.5 552.5H802.5M813.5 424.5H824.5M804.5 563H811.5M821.5 553H823.5M825.5 560H830.5M834.5 635H932.5M935.5 530H945.5M948.5 606H1063.5M1065.5 536H1070.5M1071.5 482.5H1097.5M1098.5 543H1098.5M1102.5 474H1106.5M1107.5 537H1115.5M1119.5 554H1122.5M1125.5 458H1138.5M1139.5 537H1147.5M1153.5 459H1161.5M1161.5 509H1172.5M1173.5 453H1176.5M1177.5 506.5H1185.5M1187.5 552.7H1296.5M1299.5 550H1350.5M1353.5 665H1380.5M1381.5 581H1404.5M1407.5 566H1439.5M1439.5 654H1461.5M1465.5 657.6H1508.5M1510.5 565H1611.5M1613.5 615.6H1714.5M1729.5 560.5H1758.5M1760.5 748H1784.5M1786.5 552H1801.5M1818.5 476H1863.5M1871.5 476H1880.5M1881.5 520H1884.5M1900.5 675.7H1932.5M1933.5 618.7H1951.5M1953.5 510.6H1961.5M1964.5 623H1978.5M1982.5 627.6H1988.5M1980.5 554H1982.5M1989.5 544H2006.5M2006.5 487H2012.5M2014.5 551H2031.5M2031.5 670H2040.5M2045.5 668H2047.5M2040.5 603H2043.5M2048.5 594.5H2069.5M2070.5 519H2073.5M2075.5 572H2093.5M2095.5 603H2153.5M2154.5 635H2173.5M2178.5 635H2197.5M2200.5 437H2210.5M2200.5 497H2203.5M2213.5 489H2246.5M2254.5 615H2282.5M2297.5 625H2321.5M2325.5 561H2367.5M2370.5 434H2394.5M2394.5 602.7H2440.5M2443.5 1013H2461.5" stroke="#00008b" stroke-width="3.5" stroke-linecap="round" fill="none" clip-path="url(#cp)"/>
<g fill="#000"><circle cx="242.7" cy="564" r="5.3"/><circle cx="279.3" cy="599" r="5.3"/><circle cx="325" cy="571" r="5.3"/><circle cx="498" cy="579" r="5.3"/><circle cx="506" cy="675" r="5.3"/><circle cx="527" cy="684" r="5.3"/><circle cx="637" cy="607" r="5.3"/><circle cx="646" cy="530" r="5.3"/><circle cx="692" cy="571" r="5.3"/><circle cx="692" cy="614" r="5.3"/><circle cx="1107.2" cy="468.4" r="5.3"/><circle cx="1107.5" cy="458.7" r="5.3"/><circle cx="1154" cy="480" r="5.3"/><circle cx="1302" cy="469" r="5.3"/><circle cx="1315" cy="524" r="5.3"/><circle cx="1315" cy="574" r="5.3"/><circle cx="1365" cy="636" r="5.3"/><circle cx="1475" cy="665" r="5.3"/><circle cx="1657" cy="621" r="5.3"/><circle cx="1665" cy="662" r="5.3"/><circle cx="1752" cy="592" r="5.3"/><circle cx="1911" cy="715" r="5.3"/><circle cx="1952" cy="490" r="5.3"/><circle cx="2037.7" cy="664.3" r="5.3"/><circle cx="2054.6" cy="628.2" r="5.3"/><circle cx="2061" cy="614.3" r="5.3"/><circle cx="2165" cy="614" r="5.3"/><circle cx="2307" cy="639" r="5.3"/><circle cx="2410" cy="612" r="5.3"/></g>
<text transform="translate(242.7 550.5) rotate(-90) scale(1.0 1.07)" dominant-baseline="central" font-size="24.5">NTRK1</text><text transform="translate(279.3 613) rotate(-90) scale(1.0 1.07)" dominant-baseline="central" text-anchor="end" font-size="24.5">MDM4</text><text transform="translate(325 557.5) rotate(-90) scale(1.0 1.07)" dominant-baseline="central" font-size="24.5">MYCN</text><text transform="translate(498 565.5) rotate(-90) scale(1.0 1.07)" dominant-baseline="central" font-size="24.5">PDCD1</text><text transform="translate(506 689) rotate(-90) scale(1.0 1.07)" dominant-baseline="central" text-anchor="end" font-size="24.5">VHL</text><text transform="translate(527 698) rotate(-90) scale(1.0 1.07)" dominant-baseline="central" text-anchor="end" font-size="24.5">MLH1</text><text transform="translate(637 621) rotate(-90) scale(1.0 1.07)" dominant-baseline="central" text-anchor="end" font-size="24.5">SOX2</text><text transform="translate(646 516.5) rotate(-90) scale(1.0 1.07)" dominant-baseline="central" font-size="24.5">OPA1</text><text transform="translate(692 557.5) rotate(-90) scale(1.0 1.07)" dominant-baseline="central" font-size="24.5">PDGFRA</text><text transform="translate(692 628) rotate(-90) scale(1.0 1.07)" dominant-baseline="central" text-anchor="end" font-size="24.5">KIT</text><text transform="translate(1107.2 454.9) rotate(-90) scale(1.0 1.07)" dominant-baseline="central" font-size="24.5">EGFR</text><text transform="translate(1107.5 445.2) rotate(-90) scale(1.0 1.07)" dominant-baseline="central" font-size="24.5">EGFR_vIII</text><text transform="translate(1154 466.5) rotate(-90) scale(1.0 1.07)" dominant-baseline="central" font-size="24.5">MET</text><text transform="translate(1302 455.5) rotate(-90) scale(1.0 1.07)" dominant-baseline="central" font-size="24.5">CD274</text><text transform="translate(1315 510.5) rotate(-90) scale(1.0 1.07)" dominant-baseline="central" font-size="24.5">CDKN2A</text><text transform="translate(1315 560.5) rotate(-90) scale(1.0 1.07)" dominant-baseline="central" font-size="24.5">CDKN2B</text><text transform="translate(1365 650) rotate(-90) scale(1.0 1.07)" dominant-baseline="central" text-anchor="end" font-size="24.5">NTRK2</text><text transform="translate(1475 679) rotate(-90) scale(1.0 1.07)" dominant-baseline="central" text-anchor="end" font-size="24.5">PTEN</text><text transform="translate(1657 635) rotate(-90) scale(1.0 1.07)" dominant-baseline="central" text-anchor="end" font-size="24.5">CDK4</text><text transform="translate(1665 676) rotate(-90) scale(1.0 1.07)" dominant-baseline="central" text-anchor="end" font-size="24.5">MDM2</text><text transform="translate(1752 606) rotate(-90) scale(1.0 1.07)" dominant-baseline="central" text-anchor="end" font-size="24.5">RB1</text><text transform="translate(1911 729) rotate(-90) scale(1.0 1.07)" dominant-baseline="central" text-anchor="end" font-size="24.5">NUTM1</text><text transform="translate(1952 476.5) rotate(-90) scale(1.0 1.07)" dominant-baseline="central" font-size="24.5">NTRK3</text><text transform="translate(2037.7 678.3) rotate(-90) scale(1.0 1.07)" dominant-baseline="central" text-anchor="end" font-size="24.5">TP53</text><text transform="translate(2054.6 642.2) rotate(-90) scale(1.0 1.07)" dominant-baseline="central" text-anchor="end" font-size="24.5">NF1</text><text transform="translate(2061 628.3) rotate(-90) scale(1.0 1.07)" dominant-baseline="central" text-anchor="end" font-size="24.5">ERBB2</text><text transform="translate(2165 628) rotate(-90) scale(1.0 1.07)" dominant-baseline="central" text-anchor="end" font-size="24.5">BRD4</text><text transform="translate(2307 653) rotate(-90) scale(1.0 1.07)" dominant-baseline="central" text-anchor="end" font-size="24.5">NF2</text><text transform="translate(2410 626) rotate(-90) scale(1.0 1.07)" dominant-baseline="central" text-anchor="end" font-size="24.5">IL13RA2</text>
<rect x="122.7" y="123" width="2364.5" height="924" fill="none" stroke="#000" stroke-width="1.7"/>
<path d="M122.7 174.3V995.1M107 995.1H122.7M107 858.3H122.7M107 721.5H122.7M107 584.7H122.7M107 447.9H122.7M107 311.1H122.7M107 174.3H122.7" stroke="#000" stroke-width="1.8" fill="none"/><text transform="translate(92.5 995.1) scale(1 1.1)" dominant-baseline="central" text-anchor="end" font-size="24.5">−1.2</text><text transform="translate(92.5 858.3) scale(1 1.1)" dominant-baseline="central" text-anchor="end" font-size="24.5">−0.8</text><text transform="translate(92.5 721.5) scale(1 1.1)" dominant-baseline="central" text-anchor="end" font-size="24.5">−0.4</text><text transform="translate(92.5 584.7) scale(1 1.1)" dominant-baseline="central" text-anchor="end" font-size="24.5">0.0</text><text transform="translate(92.5 447.9) scale(1 1.1)" dominant-baseline="central" text-anchor="end" font-size="24.5">0.4</text><text transform="translate(92.5 311.1) scale(1 1.1)" dominant-baseline="central" text-anchor="end" font-size="24.5">0.8</text><text transform="translate(92.5 174.3) scale(1 1.1)" dominant-baseline="central" text-anchor="end" font-size="24.5">1.2</text>
<path d="M217.9 1047H2464.5M217.9 1047V1061.7M406.0 1047V1061.7M574.5 1047V1061.7M723.1 1047V1061.7M865.2 1047V1061.7M999.6 1047V1061.7M1125.8 1047V1061.7M1242.4 1047V1061.7M1352.3 1047V1061.7M1457.9 1047V1061.7M1561.3 1047V1061.7M1663.9 1047V1061.7M1759.0 1047V1061.7M1844.0 1047V1061.7M1924.2 1047V1061.7M1997.8 1047V1061.7M2063.4 1047V1061.7M2124.2 1047V1061.7M2176.6 1047V1061.7M2223.2 1047V1061.7M2265.7 1047V1061.7M2303.7 1047V1061.7M2382.6 1047V1061.7M2464.5 1047V1061.7" stroke="#000" stroke-width="1.8" fill="none"/><text transform="translate(217.9 1076.2) rotate(-90) scale(1.02 1.06)" dominant-baseline="central" text-anchor="end" font-size="24.5">chr1</text><text transform="translate(406.0 1076.2) rotate(-90) scale(1.02 1.06)" dominant-baseline="central" text-anchor="end" font-size="24.5">chr2</text><text transform="translate(574.5 1076.2) rotate(-90) scale(1.02 1.06)" dominant-baseline="central" text-anchor="end" font-size="24.5">chr3</text><text transform="translate(723.1 1076.2) rotate(-90) scale(1.02 1.06)" dominant-baseline="central" text-anchor="end" font-size="24.5">chr4</text><text transform="translate(865.2 1076.2) rotate(-90) scale(1.02 1.06)" dominant-baseline="central" text-anchor="end" font-size="24.5">chr5</text><text transform="translate(999.6 1076.2) rotate(-90) scale(1.02 1.06)" dominant-baseline="central" text-anchor="end" font-size="24.5">chr6</text><text transform="translate(1125.8 1076.2) rotate(-90) scale(1.02 1.06)" dominant-baseline="central" text-anchor="end" font-size="24.5">chr7</text><text transform="translate(1242.4 1076.2) rotate(-90) scale(1.02 1.06)" dominant-baseline="central" text-anchor="end" font-size="24.5">chr8</text><text transform="translate(1352.3 1076.2) rotate(-90) scale(1.02 1.06)" dominant-baseline="central" text-anchor="end" font-size="24.5">chr9</text><text transform="translate(1457.9 1076.2) rotate(-90) scale(1.02 1.06)" dominant-baseline="central" text-anchor="end" font-size="24.5">chr10</text><text transform="translate(1561.3 1076.2) rotate(-90) scale(1.02 1.06)" dominant-baseline="central" text-anchor="end" font-size="24.5">chr11</text><text transform="translate(1663.9 1076.2) rotate(-90) scale(1.02 1.06)" dominant-baseline="central" text-anchor="end" font-size="24.5">chr12</text><text transform="translate(1759.0 1076.2) rotate(-90) scale(1.02 1.06)" dominant-baseline="central" text-anchor="end" font-size="24.5">chr13</text><text transform="translate(1844.0 1076.2) rotate(-90) scale(1.02 1.06)" dominant-baseline="central" text-anchor="end" font-size="24.5">chr14</text><text transform="translate(1924.2 1076.2) rotate(-90) scale(1.02 1.06)" dominant-baseline="central" text-anchor="end" font-size="24.5">chr15</text><text transform="translate(1997.8 1076.2) rotate(-90) scale(1.02 1.06)" dominant-baseline="central" text-anchor="end" font-size="24.5">chr16</text><text transform="translate(2063.4 1076.2) rotate(-90) scale(1.02 1.06)" dominant-baseline="central" text-anchor="end" font-size="24.5">chr17</text><text transform="translate(2124.2 1076.2) rotate(-90) scale(1.02 1.06)" dominant-baseline="central" text-anchor="end" font-size="24.5">chr18</text><text transform="translate(2176.6 1076.2) rotate(-90) scale(1.02 1.06)" dominant-baseline="central" text-anchor="end" font-size="24.5">chr19</text><text transform="translate(2223.2 1076.2) rotate(-90) scale(1.02 1.06)" dominant-baseline="central" text-anchor="end" font-size="24.5">chr20</text><text transform="translate(2265.7 1076.2) rotate(-90) scale(1.02 1.06)" dominant-baseline="central" text-anchor="end" font-size="24.5">chr21</text><text transform="translate(2303.7 1076.2) rotate(-90) scale(1.02 1.06)" dominant-baseline="central" text-anchor="end" font-size="24.5">chr22</text><text transform="translate(2382.6 1076.2) rotate(-90) scale(1.02 1.06)" dominant-baseline="central" text-anchor="end" font-size="24.5">chrX</text><text transform="translate(2464.5 1076.2) rotate(-90) scale(1.02 1.06)" dominant-baseline="central" text-anchor="end" font-size="24.5">chrY</text>
</svg></body></html>
